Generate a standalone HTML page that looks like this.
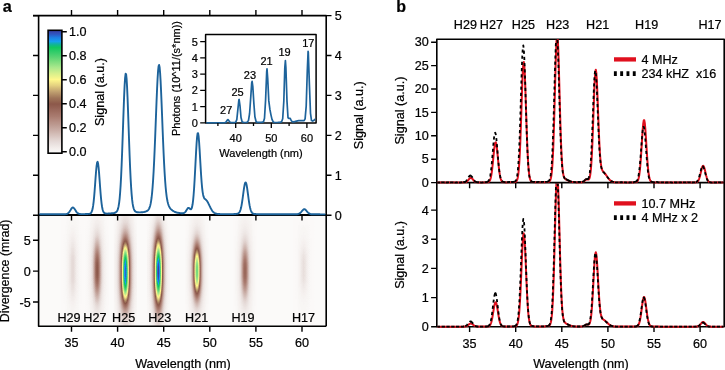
<!DOCTYPE html><html><head><meta charset="utf-8"><style>html,body{margin:0;padding:0;background:#fff;}svg{display:block;}text{font-family:"Liberation Sans", sans-serif;stroke:#000;stroke-width:0.22px;}</style></head><body>
<svg width="725" height="370" viewBox="0 0 725 370" style="will-change:transform">
<defs>
<filter id="cm" filterUnits="userSpaceOnUse" x="38.6" y="215.2" width="287.6" height="111.1" color-interpolation-filters="sRGB"><feComponentTransfer>
<feFuncR type="table" tableValues="0.988 0.985 0.981 0.978 0.975 0.971 0.968 0.965 0.961 0.958 0.954 0.951 0.948 0.944 0.940 0.936 0.932 0.928 0.924 0.920 0.916 0.912 0.908 0.904 0.900 0.896 0.892 0.887 0.883 0.878 0.873 0.869 0.864 0.860 0.855 0.850 0.846 0.841 0.836 0.832 0.827 0.823 0.818 0.813 0.809 0.804 0.800 0.795 0.790 0.786 0.781 0.776 0.772 0.768 0.764 0.759 0.755 0.751 0.746 0.742 0.738 0.733 0.729 0.725 0.720 0.716 0.712 0.708 0.703 0.699 0.695 0.690 0.686 0.682 0.677 0.673 0.669 0.664 0.660 0.655 0.651 0.646 0.641 0.637 0.632 0.627 0.623 0.618 0.614 0.609 0.604 0.600 0.595 0.591 0.586 0.581 0.577 0.572 0.567 0.563 0.558 0.554 0.549 0.555 0.561 0.567 0.574 0.580 0.586 0.592 0.598 0.604 0.611 0.617 0.623 0.630 0.640 0.650 0.659 0.669 0.679 0.689 0.699 0.709 0.718 0.728 0.738 0.748 0.758 0.770 0.781 0.792 0.803 0.814 0.825 0.836 0.847 0.858 0.869 0.880 0.891 0.900 0.909 0.917 0.925 0.934 0.942 0.950 0.958 0.967 0.975 0.983 0.992 1.000 0.987 0.975 0.962 0.950 0.937 0.924 0.912 0.899 0.887 0.874 0.861 0.849 0.836 0.822 0.807 0.793 0.779 0.765 0.751 0.737 0.722 0.708 0.694 0.680 0.666 0.651 0.637 0.622 0.607 0.592 0.578 0.563 0.548 0.533 0.519 0.504 0.489 0.474 0.460 0.445 0.430 0.415 0.400 0.386 0.371 0.356 0.341 0.327 0.312 0.297 0.282 0.268 0.254 0.239 0.225 0.211 0.196 0.182 0.168 0.153 0.139 0.124 0.110 0.096 0.081 0.067 0.063 0.063 0.063 0.063 0.063 0.063 0.064 0.068 0.071 0.075 0.079 0.082 0.086 0.090 0.094 0.098 0.102 0.107 0.111 0.115 0.120 0.130 0.139 0.148 0.157 0.167 0.176 0.185 0.192 0.197 0.202 0.207 0.212 0.217 0.222 0.227"/><feFuncG type="table" tableValues="0.984 0.979 0.974 0.970 0.965 0.960 0.955 0.950 0.945 0.940 0.935 0.930 0.925 0.920 0.914 0.908 0.903 0.897 0.891 0.885 0.879 0.873 0.868 0.862 0.856 0.850 0.843 0.836 0.829 0.821 0.814 0.806 0.799 0.792 0.784 0.777 0.770 0.762 0.755 0.747 0.740 0.733 0.725 0.718 0.710 0.703 0.696 0.688 0.681 0.674 0.666 0.659 0.652 0.645 0.639 0.632 0.625 0.618 0.611 0.605 0.598 0.591 0.584 0.578 0.571 0.564 0.557 0.551 0.544 0.537 0.530 0.523 0.517 0.510 0.503 0.496 0.490 0.484 0.478 0.472 0.467 0.461 0.456 0.450 0.445 0.439 0.434 0.428 0.423 0.417 0.412 0.406 0.400 0.395 0.389 0.384 0.378 0.373 0.367 0.362 0.356 0.351 0.345 0.354 0.364 0.373 0.382 0.391 0.400 0.410 0.419 0.428 0.437 0.447 0.456 0.466 0.479 0.492 0.505 0.518 0.531 0.543 0.556 0.569 0.582 0.595 0.608 0.621 0.635 0.650 0.664 0.679 0.694 0.709 0.723 0.738 0.753 0.768 0.782 0.797 0.812 0.825 0.837 0.850 0.862 0.874 0.886 0.899 0.911 0.923 0.936 0.948 0.960 0.973 0.970 0.968 0.965 0.963 0.960 0.958 0.955 0.953 0.950 0.948 0.945 0.943 0.941 0.938 0.936 0.933 0.931 0.928 0.926 0.923 0.921 0.918 0.916 0.913 0.911 0.908 0.904 0.901 0.897 0.893 0.890 0.886 0.882 0.878 0.875 0.871 0.867 0.864 0.860 0.856 0.853 0.849 0.845 0.842 0.838 0.834 0.830 0.827 0.823 0.819 0.816 0.814 0.812 0.810 0.807 0.805 0.803 0.801 0.799 0.797 0.795 0.793 0.791 0.789 0.787 0.785 0.776 0.763 0.751 0.739 0.726 0.714 0.702 0.690 0.677 0.665 0.653 0.640 0.628 0.612 0.595 0.579 0.563 0.546 0.530 0.513 0.495 0.473 0.450 0.428 0.405 0.382 0.360 0.337 0.321 0.309 0.297 0.285 0.272 0.260 0.248 0.235"/><feFuncB type="table" tableValues="0.980 0.975 0.970 0.965 0.959 0.954 0.949 0.944 0.939 0.933 0.928 0.923 0.918 0.912 0.906 0.900 0.894 0.888 0.881 0.875 0.869 0.863 0.857 0.851 0.845 0.838 0.831 0.823 0.815 0.807 0.799 0.790 0.782 0.774 0.766 0.758 0.750 0.742 0.733 0.725 0.717 0.709 0.701 0.693 0.685 0.676 0.668 0.660 0.652 0.644 0.636 0.627 0.620 0.613 0.605 0.598 0.591 0.583 0.576 0.568 0.561 0.554 0.546 0.539 0.531 0.524 0.517 0.509 0.502 0.495 0.487 0.480 0.472 0.465 0.458 0.450 0.443 0.436 0.430 0.425 0.419 0.413 0.407 0.401 0.395 0.390 0.384 0.378 0.372 0.366 0.360 0.354 0.349 0.343 0.337 0.331 0.325 0.319 0.314 0.308 0.302 0.296 0.290 0.295 0.300 0.305 0.310 0.315 0.320 0.325 0.330 0.334 0.339 0.344 0.349 0.355 0.361 0.368 0.375 0.382 0.388 0.395 0.402 0.409 0.416 0.422 0.429 0.436 0.442 0.447 0.452 0.456 0.461 0.466 0.471 0.476 0.481 0.486 0.491 0.496 0.501 0.505 0.508 0.512 0.516 0.519 0.523 0.527 0.531 0.534 0.538 0.542 0.545 0.549 0.549 0.549 0.549 0.549 0.549 0.549 0.549 0.549 0.549 0.549 0.549 0.549 0.549 0.549 0.549 0.549 0.549 0.549 0.549 0.549 0.549 0.549 0.549 0.549 0.549 0.547 0.542 0.537 0.532 0.527 0.522 0.517 0.512 0.507 0.502 0.497 0.492 0.488 0.484 0.480 0.476 0.472 0.469 0.465 0.461 0.458 0.454 0.450 0.447 0.443 0.439 0.435 0.431 0.427 0.423 0.419 0.415 0.411 0.406 0.402 0.398 0.394 0.390 0.386 0.382 0.378 0.400 0.433 0.466 0.499 0.533 0.566 0.606 0.662 0.717 0.772 0.828 0.883 0.938 0.934 0.927 0.920 0.913 0.906 0.898 0.891 0.881 0.862 0.844 0.825 0.807 0.788 0.770 0.752 0.735 0.720 0.704 0.689 0.674 0.658 0.643 0.627"/>
</feComponentTransfer></filter>
<linearGradient id="cb" x1="0" y1="0" x2="0" y2="1">
<stop offset="0.00" stop-color="rgb(58,60,160)"/>
<stop offset="0.01" stop-color="rgb(54,68,170)"/>
<stop offset="0.02" stop-color="rgb(51,76,180)"/>
<stop offset="0.03" stop-color="rgb(48,84,190)"/>
<stop offset="0.04" stop-color="rgb(42,98,202)"/>
<stop offset="0.05" stop-color="rgb(36,113,214)"/>
<stop offset="0.06" stop-color="rgb(30,128,226)"/>
<stop offset="0.07" stop-color="rgb(27,138,230)"/>
<stop offset="0.08" stop-color="rgb(24,149,235)"/>
<stop offset="0.09" stop-color="rgb(22,160,240)"/>
<stop offset="0.10" stop-color="rgb(19,168,204)"/>
<stop offset="0.11" stop-color="rgb(17,176,168)"/>
<stop offset="0.12" stop-color="rgb(16,184,139)"/>
<stop offset="0.13" stop-color="rgb(16,192,117)"/>
<stop offset="0.14" stop-color="rgb(16,200,96)"/>
<stop offset="0.15" stop-color="rgb(25,201,98)"/>
<stop offset="0.16" stop-color="rgb(34,202,101)"/>
<stop offset="0.17" stop-color="rgb(44,204,104)"/>
<stop offset="0.18" stop-color="rgb(53,205,106)"/>
<stop offset="0.19" stop-color="rgb(62,206,109)"/>
<stop offset="0.20" stop-color="rgb(72,208,112)"/>
<stop offset="0.21" stop-color="rgb(81,210,114)"/>
<stop offset="0.22" stop-color="rgb(91,212,116)"/>
<stop offset="0.23" stop-color="rgb(100,215,119)"/>
<stop offset="0.24" stop-color="rgb(110,217,121)"/>
<stop offset="0.25" stop-color="rgb(120,220,124)"/>
<stop offset="0.26" stop-color="rgb(129,222,127)"/>
<stop offset="0.27" stop-color="rgb(139,224,130)"/>
<stop offset="0.28" stop-color="rgb(148,227,133)"/>
<stop offset="0.29" stop-color="rgb(158,229,136)"/>
<stop offset="0.30" stop-color="rgb(168,232,140)"/>
<stop offset="0.31" stop-color="rgb(177,233,140)"/>
<stop offset="0.32" stop-color="rgb(186,235,140)"/>
<stop offset="0.33" stop-color="rgb(195,236,140)"/>
<stop offset="0.34" stop-color="rgb(204,238,140)"/>
<stop offset="0.35" stop-color="rgb(214,240,140)"/>
<stop offset="0.36" stop-color="rgb(222,241,140)"/>
<stop offset="0.37" stop-color="rgb(230,243,140)"/>
<stop offset="0.38" stop-color="rgb(238,244,140)"/>
<stop offset="0.39" stop-color="rgb(246,246,140)"/>
<stop offset="0.40" stop-color="rgb(255,248,140)"/>
<stop offset="0.41" stop-color="rgb(249,240,137)"/>
<stop offset="0.42" stop-color="rgb(244,232,135)"/>
<stop offset="0.43" stop-color="rgb(238,224,132)"/>
<stop offset="0.44" stop-color="rgb(233,216,130)"/>
<stop offset="0.45" stop-color="rgb(228,208,128)"/>
<stop offset="0.46" stop-color="rgb(220,198,124)"/>
<stop offset="0.47" stop-color="rgb(213,188,121)"/>
<stop offset="0.48" stop-color="rgb(206,179,118)"/>
<stop offset="0.49" stop-color="rgb(199,169,115)"/>
<stop offset="0.50" stop-color="rgb(192,160,112)"/>
<stop offset="0.51" stop-color="rgb(185,151,107)"/>
<stop offset="0.52" stop-color="rgb(179,143,103)"/>
<stop offset="0.53" stop-color="rgb(172,134,98)"/>
<stop offset="0.54" stop-color="rgb(166,126,94)"/>
<stop offset="0.55" stop-color="rgb(159,117,89)"/>
<stop offset="0.56" stop-color="rgb(155,111,86)"/>
<stop offset="0.57" stop-color="rgb(152,106,83)"/>
<stop offset="0.58" stop-color="rgb(148,100,80)"/>
<stop offset="0.59" stop-color="rgb(144,94,77)"/>
<stop offset="0.60" stop-color="rgb(140,88,74)"/>
<stop offset="0.61" stop-color="rgb(143,91,77)"/>
<stop offset="0.62" stop-color="rgb(146,95,81)"/>
<stop offset="0.63" stop-color="rgb(149,98,85)"/>
<stop offset="0.64" stop-color="rgb(152,102,89)"/>
<stop offset="0.65" stop-color="rgb(155,106,93)"/>
<stop offset="0.66" stop-color="rgb(158,109,96)"/>
<stop offset="0.67" stop-color="rgb(161,113,100)"/>
<stop offset="0.68" stop-color="rgb(164,116,104)"/>
<stop offset="0.69" stop-color="rgb(166,120,108)"/>
<stop offset="0.70" stop-color="rgb(169,123,111)"/>
<stop offset="0.71" stop-color="rgb(172,128,116)"/>
<stop offset="0.72" stop-color="rgb(175,132,121)"/>
<stop offset="0.73" stop-color="rgb(178,137,126)"/>
<stop offset="0.74" stop-color="rgb(181,141,131)"/>
<stop offset="0.75" stop-color="rgb(184,146,136)"/>
<stop offset="0.76" stop-color="rgb(186,150,140)"/>
<stop offset="0.77" stop-color="rgb(189,154,145)"/>
<stop offset="0.78" stop-color="rgb(192,159,150)"/>
<stop offset="0.79" stop-color="rgb(195,163,155)"/>
<stop offset="0.80" stop-color="rgb(198,168,160)"/>
<stop offset="0.81" stop-color="rgb(201,172,165)"/>
<stop offset="0.82" stop-color="rgb(204,177,170)"/>
<stop offset="0.83" stop-color="rgb(207,182,175)"/>
<stop offset="0.84" stop-color="rgb(210,187,181)"/>
<stop offset="0.85" stop-color="rgb(213,192,186)"/>
<stop offset="0.86" stop-color="rgb(216,196,191)"/>
<stop offset="0.87" stop-color="rgb(219,201,197)"/>
<stop offset="0.88" stop-color="rgb(222,206,202)"/>
<stop offset="0.89" stop-color="rgb(225,211,207)"/>
<stop offset="0.90" stop-color="rgb(228,216,213)"/>
<stop offset="0.91" stop-color="rgb(230,219,217)"/>
<stop offset="0.92" stop-color="rgb(233,223,221)"/>
<stop offset="0.93" stop-color="rgb(235,227,225)"/>
<stop offset="0.94" stop-color="rgb(238,231,228)"/>
<stop offset="0.95" stop-color="rgb(241,234,232)"/>
<stop offset="0.96" stop-color="rgb(243,238,236)"/>
<stop offset="0.97" stop-color="rgb(245,241,239)"/>
<stop offset="0.98" stop-color="rgb(247,244,243)"/>
<stop offset="0.99" stop-color="rgb(249,247,246)"/>
<stop offset="1.00" stop-color="rgb(252,251,250)"/>
</linearGradient>
<linearGradient id="hg" gradientUnits="userSpaceOnUse" x1="38.6" y1="0" x2="326.2" y2="0">
<stop offset="0.0000" stop-color="rgb(0,0,0)"/>
<stop offset="0.0876" stop-color="rgb(0,0,0)"/>
<stop offset="0.0894" stop-color="rgb(0,0,0)"/>
<stop offset="0.0911" stop-color="rgb(0,0,0)"/>
<stop offset="0.0928" stop-color="rgb(0,0,0)"/>
<stop offset="0.0946" stop-color="rgb(0,0,0)"/>
<stop offset="0.0963" stop-color="rgb(0,0,0)"/>
<stop offset="0.0981" stop-color="rgb(1,1,1)"/>
<stop offset="0.0998" stop-color="rgb(1,1,1)"/>
<stop offset="0.1015" stop-color="rgb(1,1,1)"/>
<stop offset="0.1033" stop-color="rgb(2,2,2)"/>
<stop offset="0.1050" stop-color="rgb(3,3,3)"/>
<stop offset="0.1067" stop-color="rgb(5,5,5)"/>
<stop offset="0.1085" stop-color="rgb(7,7,7)"/>
<stop offset="0.1102" stop-color="rgb(8,8,8)"/>
<stop offset="0.1120" stop-color="rgb(10,10,10)"/>
<stop offset="0.1137" stop-color="rgb(12,12,12)"/>
<stop offset="0.1154" stop-color="rgb(14,14,14)"/>
<stop offset="0.1172" stop-color="rgb(15,15,15)"/>
<stop offset="0.1189" stop-color="rgb(15,15,15)"/>
<stop offset="0.1207" stop-color="rgb(15,15,15)"/>
<stop offset="0.1224" stop-color="rgb(14,14,14)"/>
<stop offset="0.1241" stop-color="rgb(12,12,12)"/>
<stop offset="0.1259" stop-color="rgb(10,10,10)"/>
<stop offset="0.1276" stop-color="rgb(8,8,8)"/>
<stop offset="0.1293" stop-color="rgb(7,7,7)"/>
<stop offset="0.1311" stop-color="rgb(5,5,5)"/>
<stop offset="0.1328" stop-color="rgb(3,3,3)"/>
<stop offset="0.1346" stop-color="rgb(2,2,2)"/>
<stop offset="0.1363" stop-color="rgb(1,1,1)"/>
<stop offset="0.1380" stop-color="rgb(1,1,1)"/>
<stop offset="0.1398" stop-color="rgb(1,1,1)"/>
<stop offset="0.1415" stop-color="rgb(0,0,0)"/>
<stop offset="0.1433" stop-color="rgb(0,0,0)"/>
<stop offset="0.1450" stop-color="rgb(0,0,0)"/>
<stop offset="0.1467" stop-color="rgb(0,0,0)"/>
<stop offset="0.1485" stop-color="rgb(0,0,0)"/>
<stop offset="0.1502" stop-color="rgb(0,0,0)"/>
<stop offset="0.1725" stop-color="rgb(0,0,0)"/>
<stop offset="0.1742" stop-color="rgb(0,0,0)"/>
<stop offset="0.1759" stop-color="rgb(0,0,0)"/>
<stop offset="0.1777" stop-color="rgb(0,0,0)"/>
<stop offset="0.1794" stop-color="rgb(1,1,1)"/>
<stop offset="0.1812" stop-color="rgb(1,1,1)"/>
<stop offset="0.1829" stop-color="rgb(2,2,2)"/>
<stop offset="0.1846" stop-color="rgb(4,4,4)"/>
<stop offset="0.1864" stop-color="rgb(7,7,7)"/>
<stop offset="0.1881" stop-color="rgb(11,11,11)"/>
<stop offset="0.1898" stop-color="rgb(16,16,16)"/>
<stop offset="0.1916" stop-color="rgb(23,23,23)"/>
<stop offset="0.1933" stop-color="rgb(32,32,32)"/>
<stop offset="0.1951" stop-color="rgb(41,41,41)"/>
<stop offset="0.1968" stop-color="rgb(51,51,51)"/>
<stop offset="0.1985" stop-color="rgb(60,60,60)"/>
<stop offset="0.2003" stop-color="rgb(67,67,67)"/>
<stop offset="0.2020" stop-color="rgb(72,72,72)"/>
<stop offset="0.2038" stop-color="rgb(74,74,74)"/>
<stop offset="0.2055" stop-color="rgb(72,72,72)"/>
<stop offset="0.2072" stop-color="rgb(67,67,67)"/>
<stop offset="0.2090" stop-color="rgb(60,60,60)"/>
<stop offset="0.2107" stop-color="rgb(51,51,51)"/>
<stop offset="0.2124" stop-color="rgb(41,41,41)"/>
<stop offset="0.2142" stop-color="rgb(32,32,32)"/>
<stop offset="0.2159" stop-color="rgb(23,23,23)"/>
<stop offset="0.2177" stop-color="rgb(16,16,16)"/>
<stop offset="0.2194" stop-color="rgb(11,11,11)"/>
<stop offset="0.2211" stop-color="rgb(7,7,7)"/>
<stop offset="0.2229" stop-color="rgb(4,4,4)"/>
<stop offset="0.2246" stop-color="rgb(2,2,2)"/>
<stop offset="0.2264" stop-color="rgb(1,1,1)"/>
<stop offset="0.2281" stop-color="rgb(1,1,1)"/>
<stop offset="0.2298" stop-color="rgb(0,0,0)"/>
<stop offset="0.2316" stop-color="rgb(0,0,0)"/>
<stop offset="0.2333" stop-color="rgb(0,0,0)"/>
<stop offset="0.2350" stop-color="rgb(0,0,0)"/>
<stop offset="0.2705" stop-color="rgb(0,0,0)"/>
<stop offset="0.2723" stop-color="rgb(1,1,1)"/>
<stop offset="0.2740" stop-color="rgb(2,2,2)"/>
<stop offset="0.2757" stop-color="rgb(4,4,4)"/>
<stop offset="0.2775" stop-color="rgb(6,6,6)"/>
<stop offset="0.2792" stop-color="rgb(10,10,10)"/>
<stop offset="0.2809" stop-color="rgb(15,15,15)"/>
<stop offset="0.2827" stop-color="rgb(22,22,22)"/>
<stop offset="0.2844" stop-color="rgb(32,32,32)"/>
<stop offset="0.2862" stop-color="rgb(45,45,45)"/>
<stop offset="0.2879" stop-color="rgb(60,60,60)"/>
<stop offset="0.2896" stop-color="rgb(77,77,77)"/>
<stop offset="0.2914" stop-color="rgb(96,96,96)"/>
<stop offset="0.2931" stop-color="rgb(116,116,116)"/>
<stop offset="0.2949" stop-color="rgb(136,136,136)"/>
<stop offset="0.2966" stop-color="rgb(153,153,153)"/>
<stop offset="0.2983" stop-color="rgb(167,167,167)"/>
<stop offset="0.3001" stop-color="rgb(175,175,175)"/>
<stop offset="0.3018" stop-color="rgb(178,178,178)"/>
<stop offset="0.3035" stop-color="rgb(175,175,175)"/>
<stop offset="0.3053" stop-color="rgb(167,167,167)"/>
<stop offset="0.3070" stop-color="rgb(153,153,153)"/>
<stop offset="0.3088" stop-color="rgb(136,136,136)"/>
<stop offset="0.3105" stop-color="rgb(116,116,116)"/>
<stop offset="0.3122" stop-color="rgb(96,96,96)"/>
<stop offset="0.3140" stop-color="rgb(77,77,77)"/>
<stop offset="0.3157" stop-color="rgb(60,60,60)"/>
<stop offset="0.3175" stop-color="rgb(45,45,45)"/>
<stop offset="0.3192" stop-color="rgb(32,32,32)"/>
<stop offset="0.3209" stop-color="rgb(22,22,22)"/>
<stop offset="0.3227" stop-color="rgb(15,15,15)"/>
<stop offset="0.3244" stop-color="rgb(10,10,10)"/>
<stop offset="0.3261" stop-color="rgb(6,6,6)"/>
<stop offset="0.3279" stop-color="rgb(4,4,4)"/>
<stop offset="0.3296" stop-color="rgb(2,2,2)"/>
<stop offset="0.3314" stop-color="rgb(1,1,1)"/>
<stop offset="0.3331" stop-color="rgb(0,0,0)"/>
<stop offset="0.3853" stop-color="rgb(0,0,0)"/>
<stop offset="0.3870" stop-color="rgb(2,2,2)"/>
<stop offset="0.3887" stop-color="rgb(3,3,3)"/>
<stop offset="0.3905" stop-color="rgb(5,5,5)"/>
<stop offset="0.3922" stop-color="rgb(8,8,8)"/>
<stop offset="0.3939" stop-color="rgb(12,12,12)"/>
<stop offset="0.3957" stop-color="rgb(19,19,19)"/>
<stop offset="0.3974" stop-color="rgb(28,28,28)"/>
<stop offset="0.3992" stop-color="rgb(39,39,39)"/>
<stop offset="0.4009" stop-color="rgb(53,53,53)"/>
<stop offset="0.4026" stop-color="rgb(71,71,71)"/>
<stop offset="0.4044" stop-color="rgb(91,91,91)"/>
<stop offset="0.4061" stop-color="rgb(113,113,113)"/>
<stop offset="0.4079" stop-color="rgb(135,135,135)"/>
<stop offset="0.4096" stop-color="rgb(157,157,157)"/>
<stop offset="0.4113" stop-color="rgb(176,176,176)"/>
<stop offset="0.4131" stop-color="rgb(191,191,191)"/>
<stop offset="0.4148" stop-color="rgb(201,201,201)"/>
<stop offset="0.4166" stop-color="rgb(204,204,204)"/>
<stop offset="0.4183" stop-color="rgb(201,201,201)"/>
<stop offset="0.4200" stop-color="rgb(191,191,191)"/>
<stop offset="0.4218" stop-color="rgb(176,176,176)"/>
<stop offset="0.4235" stop-color="rgb(157,157,157)"/>
<stop offset="0.4252" stop-color="rgb(135,135,135)"/>
<stop offset="0.4270" stop-color="rgb(113,113,113)"/>
<stop offset="0.4287" stop-color="rgb(91,91,91)"/>
<stop offset="0.4305" stop-color="rgb(71,71,71)"/>
<stop offset="0.4322" stop-color="rgb(53,53,53)"/>
<stop offset="0.4339" stop-color="rgb(39,39,39)"/>
<stop offset="0.4357" stop-color="rgb(28,28,28)"/>
<stop offset="0.4374" stop-color="rgb(19,19,19)"/>
<stop offset="0.4392" stop-color="rgb(12,12,12)"/>
<stop offset="0.4409" stop-color="rgb(8,8,8)"/>
<stop offset="0.4426" stop-color="rgb(5,5,5)"/>
<stop offset="0.4444" stop-color="rgb(3,3,3)"/>
<stop offset="0.4461" stop-color="rgb(2,2,2)"/>
<stop offset="0.4478" stop-color="rgb(0,0,0)"/>
<stop offset="0.5195" stop-color="rgb(0,0,0)"/>
<stop offset="0.5212" stop-color="rgb(0,0,0)"/>
<stop offset="0.5229" stop-color="rgb(1,1,1)"/>
<stop offset="0.5247" stop-color="rgb(2,2,2)"/>
<stop offset="0.5264" stop-color="rgb(3,3,3)"/>
<stop offset="0.5282" stop-color="rgb(5,5,5)"/>
<stop offset="0.5299" stop-color="rgb(9,9,9)"/>
<stop offset="0.5316" stop-color="rgb(14,14,14)"/>
<stop offset="0.5334" stop-color="rgb(21,21,21)"/>
<stop offset="0.5351" stop-color="rgb(30,30,30)"/>
<stop offset="0.5369" stop-color="rgb(43,43,43)"/>
<stop offset="0.5386" stop-color="rgb(57,57,57)"/>
<stop offset="0.5403" stop-color="rgb(74,74,74)"/>
<stop offset="0.5421" stop-color="rgb(93,93,93)"/>
<stop offset="0.5438" stop-color="rgb(111,111,111)"/>
<stop offset="0.5455" stop-color="rgb(128,128,128)"/>
<stop offset="0.5473" stop-color="rgb(141,141,141)"/>
<stop offset="0.5490" stop-color="rgb(150,150,150)"/>
<stop offset="0.5508" stop-color="rgb(153,153,153)"/>
<stop offset="0.5525" stop-color="rgb(150,150,150)"/>
<stop offset="0.5542" stop-color="rgb(141,141,141)"/>
<stop offset="0.5560" stop-color="rgb(128,128,128)"/>
<stop offset="0.5577" stop-color="rgb(111,111,111)"/>
<stop offset="0.5595" stop-color="rgb(93,93,93)"/>
<stop offset="0.5612" stop-color="rgb(74,74,74)"/>
<stop offset="0.5629" stop-color="rgb(57,57,57)"/>
<stop offset="0.5647" stop-color="rgb(43,43,43)"/>
<stop offset="0.5664" stop-color="rgb(30,30,30)"/>
<stop offset="0.5682" stop-color="rgb(21,21,21)"/>
<stop offset="0.5699" stop-color="rgb(14,14,14)"/>
<stop offset="0.5716" stop-color="rgb(9,9,9)"/>
<stop offset="0.5734" stop-color="rgb(5,5,5)"/>
<stop offset="0.5751" stop-color="rgb(3,3,3)"/>
<stop offset="0.5768" stop-color="rgb(2,2,2)"/>
<stop offset="0.5786" stop-color="rgb(1,1,1)"/>
<stop offset="0.5803" stop-color="rgb(0,0,0)"/>
<stop offset="0.5821" stop-color="rgb(0,0,0)"/>
<stop offset="0.6864" stop-color="rgb(0,0,0)"/>
<stop offset="0.6881" stop-color="rgb(0,0,0)"/>
<stop offset="0.6898" stop-color="rgb(0,0,0)"/>
<stop offset="0.6916" stop-color="rgb(0,0,0)"/>
<stop offset="0.6933" stop-color="rgb(1,1,1)"/>
<stop offset="0.6951" stop-color="rgb(1,1,1)"/>
<stop offset="0.6968" stop-color="rgb(2,2,2)"/>
<stop offset="0.6985" stop-color="rgb(4,4,4)"/>
<stop offset="0.7003" stop-color="rgb(6,6,6)"/>
<stop offset="0.7020" stop-color="rgb(10,10,10)"/>
<stop offset="0.7038" stop-color="rgb(15,15,15)"/>
<stop offset="0.7055" stop-color="rgb(21,21,21)"/>
<stop offset="0.7072" stop-color="rgb(28,28,28)"/>
<stop offset="0.7090" stop-color="rgb(37,37,37)"/>
<stop offset="0.7107" stop-color="rgb(45,45,45)"/>
<stop offset="0.7124" stop-color="rgb(54,54,54)"/>
<stop offset="0.7142" stop-color="rgb(60,60,60)"/>
<stop offset="0.7159" stop-color="rgb(65,65,65)"/>
<stop offset="0.7177" stop-color="rgb(66,66,66)"/>
<stop offset="0.7194" stop-color="rgb(65,65,65)"/>
<stop offset="0.7211" stop-color="rgb(60,60,60)"/>
<stop offset="0.7229" stop-color="rgb(54,54,54)"/>
<stop offset="0.7246" stop-color="rgb(45,45,45)"/>
<stop offset="0.7264" stop-color="rgb(37,37,37)"/>
<stop offset="0.7281" stop-color="rgb(28,28,28)"/>
<stop offset="0.7298" stop-color="rgb(21,21,21)"/>
<stop offset="0.7316" stop-color="rgb(15,15,15)"/>
<stop offset="0.7333" stop-color="rgb(10,10,10)"/>
<stop offset="0.7350" stop-color="rgb(6,6,6)"/>
<stop offset="0.7368" stop-color="rgb(4,4,4)"/>
<stop offset="0.7385" stop-color="rgb(2,2,2)"/>
<stop offset="0.7403" stop-color="rgb(1,1,1)"/>
<stop offset="0.7420" stop-color="rgb(1,1,1)"/>
<stop offset="0.7437" stop-color="rgb(0,0,0)"/>
<stop offset="0.7455" stop-color="rgb(0,0,0)"/>
<stop offset="0.7472" stop-color="rgb(0,0,0)"/>
<stop offset="0.7490" stop-color="rgb(0,0,0)"/>
<stop offset="0.8905" stop-color="rgb(0,0,0)"/>
<stop offset="0.8922" stop-color="rgb(0,0,0)"/>
<stop offset="0.8939" stop-color="rgb(0,0,0)"/>
<stop offset="0.8957" stop-color="rgb(0,0,0)"/>
<stop offset="0.8974" stop-color="rgb(0,0,0)"/>
<stop offset="0.8992" stop-color="rgb(0,0,0)"/>
<stop offset="0.9009" stop-color="rgb(0,0,0)"/>
<stop offset="0.9026" stop-color="rgb(1,1,1)"/>
<stop offset="0.9044" stop-color="rgb(1,1,1)"/>
<stop offset="0.9061" stop-color="rgb(2,2,2)"/>
<stop offset="0.9079" stop-color="rgb(2,2,2)"/>
<stop offset="0.9096" stop-color="rgb(4,4,4)"/>
<stop offset="0.9113" stop-color="rgb(5,5,5)"/>
<stop offset="0.9131" stop-color="rgb(7,7,7)"/>
<stop offset="0.9148" stop-color="rgb(8,8,8)"/>
<stop offset="0.9166" stop-color="rgb(10,10,10)"/>
<stop offset="0.9183" stop-color="rgb(11,11,11)"/>
<stop offset="0.9200" stop-color="rgb(12,12,12)"/>
<stop offset="0.9218" stop-color="rgb(13,13,13)"/>
<stop offset="0.9235" stop-color="rgb(12,12,12)"/>
<stop offset="0.9252" stop-color="rgb(11,11,11)"/>
<stop offset="0.9270" stop-color="rgb(10,10,10)"/>
<stop offset="0.9287" stop-color="rgb(8,8,8)"/>
<stop offset="0.9305" stop-color="rgb(7,7,7)"/>
<stop offset="0.9322" stop-color="rgb(5,5,5)"/>
<stop offset="0.9339" stop-color="rgb(4,4,4)"/>
<stop offset="0.9357" stop-color="rgb(2,2,2)"/>
<stop offset="0.9374" stop-color="rgb(2,2,2)"/>
<stop offset="0.9392" stop-color="rgb(1,1,1)"/>
<stop offset="0.9409" stop-color="rgb(1,1,1)"/>
<stop offset="0.9426" stop-color="rgb(0,0,0)"/>
<stop offset="0.9444" stop-color="rgb(0,0,0)"/>
<stop offset="0.9461" stop-color="rgb(0,0,0)"/>
<stop offset="0.9478" stop-color="rgb(0,0,0)"/>
<stop offset="0.9496" stop-color="rgb(0,0,0)"/>
<stop offset="0.9513" stop-color="rgb(0,0,0)"/>
<stop offset="0.9531" stop-color="rgb(0,0,0)"/>
<stop offset="1.0000" stop-color="rgb(0,0,0)"/>
</linearGradient>
<linearGradient id="hg2" gradientUnits="userSpaceOnUse" x1="38.6" y1="0" x2="326.2" y2="0">
<stop offset="0.0000" stop-color="rgb(0,0,0)"/>
<stop offset="0.0772" stop-color="rgb(0,0,0)"/>
<stop offset="0.0789" stop-color="rgb(1,1,1)"/>
<stop offset="0.0807" stop-color="rgb(1,1,1)"/>
<stop offset="0.0824" stop-color="rgb(1,1,1)"/>
<stop offset="0.0841" stop-color="rgb(1,1,1)"/>
<stop offset="0.0859" stop-color="rgb(1,1,1)"/>
<stop offset="0.0876" stop-color="rgb(2,2,2)"/>
<stop offset="0.0894" stop-color="rgb(2,2,2)"/>
<stop offset="0.0911" stop-color="rgb(2,2,2)"/>
<stop offset="0.0928" stop-color="rgb(3,3,3)"/>
<stop offset="0.0946" stop-color="rgb(3,3,3)"/>
<stop offset="0.0963" stop-color="rgb(4,4,4)"/>
<stop offset="0.0981" stop-color="rgb(4,4,4)"/>
<stop offset="0.0998" stop-color="rgb(5,5,5)"/>
<stop offset="0.1015" stop-color="rgb(5,5,5)"/>
<stop offset="0.1033" stop-color="rgb(6,6,6)"/>
<stop offset="0.1050" stop-color="rgb(6,6,6)"/>
<stop offset="0.1067" stop-color="rgb(7,7,7)"/>
<stop offset="0.1085" stop-color="rgb(7,7,7)"/>
<stop offset="0.1102" stop-color="rgb(8,8,8)"/>
<stop offset="0.1120" stop-color="rgb(8,8,8)"/>
<stop offset="0.1137" stop-color="rgb(9,9,9)"/>
<stop offset="0.1154" stop-color="rgb(9,9,9)"/>
<stop offset="0.1172" stop-color="rgb(9,9,9)"/>
<stop offset="0.1189" stop-color="rgb(9,9,9)"/>
<stop offset="0.1207" stop-color="rgb(9,9,9)"/>
<stop offset="0.1224" stop-color="rgb(9,9,9)"/>
<stop offset="0.1241" stop-color="rgb(9,9,9)"/>
<stop offset="0.1259" stop-color="rgb(8,8,8)"/>
<stop offset="0.1276" stop-color="rgb(8,8,8)"/>
<stop offset="0.1293" stop-color="rgb(7,7,7)"/>
<stop offset="0.1311" stop-color="rgb(7,7,7)"/>
<stop offset="0.1328" stop-color="rgb(6,6,6)"/>
<stop offset="0.1346" stop-color="rgb(6,6,6)"/>
<stop offset="0.1363" stop-color="rgb(5,5,5)"/>
<stop offset="0.1380" stop-color="rgb(5,5,5)"/>
<stop offset="0.1398" stop-color="rgb(4,4,4)"/>
<stop offset="0.1415" stop-color="rgb(4,4,4)"/>
<stop offset="0.1433" stop-color="rgb(3,3,3)"/>
<stop offset="0.1450" stop-color="rgb(3,3,3)"/>
<stop offset="0.1467" stop-color="rgb(2,2,2)"/>
<stop offset="0.1485" stop-color="rgb(2,2,2)"/>
<stop offset="0.1502" stop-color="rgb(2,2,2)"/>
<stop offset="0.1519" stop-color="rgb(1,1,1)"/>
<stop offset="0.1537" stop-color="rgb(1,1,1)"/>
<stop offset="0.1554" stop-color="rgb(1,1,1)"/>
<stop offset="0.1572" stop-color="rgb(1,1,1)"/>
<stop offset="0.1589" stop-color="rgb(1,1,1)"/>
<stop offset="0.1606" stop-color="rgb(0,0,0)"/>
<stop offset="0.1620" stop-color="rgb(0,0,0)"/>
<stop offset="0.1638" stop-color="rgb(2,2,2)"/>
<stop offset="0.1655" stop-color="rgb(2,2,2)"/>
<stop offset="0.1672" stop-color="rgb(3,3,3)"/>
<stop offset="0.1690" stop-color="rgb(3,3,3)"/>
<stop offset="0.1707" stop-color="rgb(4,4,4)"/>
<stop offset="0.1725" stop-color="rgb(5,5,5)"/>
<stop offset="0.1742" stop-color="rgb(6,6,6)"/>
<stop offset="0.1759" stop-color="rgb(7,7,7)"/>
<stop offset="0.1777" stop-color="rgb(8,8,8)"/>
<stop offset="0.1794" stop-color="rgb(10,10,10)"/>
<stop offset="0.1812" stop-color="rgb(11,11,11)"/>
<stop offset="0.1829" stop-color="rgb(13,13,13)"/>
<stop offset="0.1846" stop-color="rgb(15,15,15)"/>
<stop offset="0.1864" stop-color="rgb(16,16,16)"/>
<stop offset="0.1881" stop-color="rgb(18,18,18)"/>
<stop offset="0.1898" stop-color="rgb(20,20,20)"/>
<stop offset="0.1916" stop-color="rgb(22,22,22)"/>
<stop offset="0.1933" stop-color="rgb(23,23,23)"/>
<stop offset="0.1951" stop-color="rgb(24,24,24)"/>
<stop offset="0.1968" stop-color="rgb(26,26,26)"/>
<stop offset="0.1985" stop-color="rgb(27,27,27)"/>
<stop offset="0.2003" stop-color="rgb(27,27,27)"/>
<stop offset="0.2020" stop-color="rgb(28,28,28)"/>
<stop offset="0.2038" stop-color="rgb(28,28,28)"/>
<stop offset="0.2055" stop-color="rgb(28,28,28)"/>
<stop offset="0.2072" stop-color="rgb(27,27,27)"/>
<stop offset="0.2090" stop-color="rgb(27,27,27)"/>
<stop offset="0.2107" stop-color="rgb(26,26,26)"/>
<stop offset="0.2124" stop-color="rgb(24,24,24)"/>
<stop offset="0.2142" stop-color="rgb(23,23,23)"/>
<stop offset="0.2159" stop-color="rgb(22,22,22)"/>
<stop offset="0.2177" stop-color="rgb(20,20,20)"/>
<stop offset="0.2194" stop-color="rgb(18,18,18)"/>
<stop offset="0.2211" stop-color="rgb(16,16,16)"/>
<stop offset="0.2229" stop-color="rgb(15,15,15)"/>
<stop offset="0.2246" stop-color="rgb(13,13,13)"/>
<stop offset="0.2264" stop-color="rgb(11,11,11)"/>
<stop offset="0.2281" stop-color="rgb(10,10,10)"/>
<stop offset="0.2298" stop-color="rgb(8,8,8)"/>
<stop offset="0.2316" stop-color="rgb(7,7,7)"/>
<stop offset="0.2333" stop-color="rgb(6,6,6)"/>
<stop offset="0.2350" stop-color="rgb(5,5,5)"/>
<stop offset="0.2368" stop-color="rgb(4,4,4)"/>
<stop offset="0.2385" stop-color="rgb(3,3,3)"/>
<stop offset="0.2403" stop-color="rgb(3,3,3)"/>
<stop offset="0.2420" stop-color="rgb(2,2,2)"/>
<stop offset="0.2437" stop-color="rgb(2,2,2)"/>
<stop offset="0.2455" stop-color="rgb(0,0,0)"/>
<stop offset="0.2601" stop-color="rgb(0,0,0)"/>
<stop offset="0.2618" stop-color="rgb(5,5,5)"/>
<stop offset="0.2636" stop-color="rgb(6,6,6)"/>
<stop offset="0.2653" stop-color="rgb(7,7,7)"/>
<stop offset="0.2670" stop-color="rgb(9,9,9)"/>
<stop offset="0.2688" stop-color="rgb(11,11,11)"/>
<stop offset="0.2705" stop-color="rgb(13,13,13)"/>
<stop offset="0.2723" stop-color="rgb(16,16,16)"/>
<stop offset="0.2740" stop-color="rgb(18,18,18)"/>
<stop offset="0.2757" stop-color="rgb(22,22,22)"/>
<stop offset="0.2775" stop-color="rgb(25,25,25)"/>
<stop offset="0.2792" stop-color="rgb(28,28,28)"/>
<stop offset="0.2809" stop-color="rgb(32,32,32)"/>
<stop offset="0.2827" stop-color="rgb(36,36,36)"/>
<stop offset="0.2844" stop-color="rgb(40,40,40)"/>
<stop offset="0.2862" stop-color="rgb(44,44,44)"/>
<stop offset="0.2879" stop-color="rgb(48,48,48)"/>
<stop offset="0.2896" stop-color="rgb(52,52,52)"/>
<stop offset="0.2914" stop-color="rgb(55,55,55)"/>
<stop offset="0.2931" stop-color="rgb(59,59,59)"/>
<stop offset="0.2949" stop-color="rgb(61,61,61)"/>
<stop offset="0.2966" stop-color="rgb(63,63,63)"/>
<stop offset="0.2983" stop-color="rgb(65,65,65)"/>
<stop offset="0.3001" stop-color="rgb(66,66,66)"/>
<stop offset="0.3018" stop-color="rgb(66,66,66)"/>
<stop offset="0.3035" stop-color="rgb(66,66,66)"/>
<stop offset="0.3053" stop-color="rgb(65,65,65)"/>
<stop offset="0.3070" stop-color="rgb(63,63,63)"/>
<stop offset="0.3088" stop-color="rgb(61,61,61)"/>
<stop offset="0.3105" stop-color="rgb(59,59,59)"/>
<stop offset="0.3122" stop-color="rgb(55,55,55)"/>
<stop offset="0.3140" stop-color="rgb(52,52,52)"/>
<stop offset="0.3157" stop-color="rgb(48,48,48)"/>
<stop offset="0.3175" stop-color="rgb(44,44,44)"/>
<stop offset="0.3192" stop-color="rgb(40,40,40)"/>
<stop offset="0.3209" stop-color="rgb(36,36,36)"/>
<stop offset="0.3227" stop-color="rgb(32,32,32)"/>
<stop offset="0.3244" stop-color="rgb(28,28,28)"/>
<stop offset="0.3261" stop-color="rgb(25,25,25)"/>
<stop offset="0.3279" stop-color="rgb(22,22,22)"/>
<stop offset="0.3296" stop-color="rgb(18,18,18)"/>
<stop offset="0.3314" stop-color="rgb(16,16,16)"/>
<stop offset="0.3331" stop-color="rgb(13,13,13)"/>
<stop offset="0.3348" stop-color="rgb(11,11,11)"/>
<stop offset="0.3366" stop-color="rgb(9,9,9)"/>
<stop offset="0.3383" stop-color="rgb(7,7,7)"/>
<stop offset="0.3401" stop-color="rgb(6,6,6)"/>
<stop offset="0.3418" stop-color="rgb(5,5,5)"/>
<stop offset="0.3435" stop-color="rgb(0,0,0)"/>
<stop offset="0.3748" stop-color="rgb(0,0,0)"/>
<stop offset="0.3766" stop-color="rgb(4,4,4)"/>
<stop offset="0.3783" stop-color="rgb(5,5,5)"/>
<stop offset="0.3800" stop-color="rgb(6,6,6)"/>
<stop offset="0.3818" stop-color="rgb(7,7,7)"/>
<stop offset="0.3835" stop-color="rgb(8,8,8)"/>
<stop offset="0.3853" stop-color="rgb(10,10,10)"/>
<stop offset="0.3870" stop-color="rgb(12,12,12)"/>
<stop offset="0.3887" stop-color="rgb(14,14,14)"/>
<stop offset="0.3905" stop-color="rgb(17,17,17)"/>
<stop offset="0.3922" stop-color="rgb(19,19,19)"/>
<stop offset="0.3939" stop-color="rgb(22,22,22)"/>
<stop offset="0.3957" stop-color="rgb(25,25,25)"/>
<stop offset="0.3974" stop-color="rgb(28,28,28)"/>
<stop offset="0.3992" stop-color="rgb(31,31,31)"/>
<stop offset="0.4009" stop-color="rgb(34,34,34)"/>
<stop offset="0.4026" stop-color="rgb(37,37,37)"/>
<stop offset="0.4044" stop-color="rgb(40,40,40)"/>
<stop offset="0.4061" stop-color="rgb(43,43,43)"/>
<stop offset="0.4079" stop-color="rgb(45,45,45)"/>
<stop offset="0.4096" stop-color="rgb(47,47,47)"/>
<stop offset="0.4113" stop-color="rgb(49,49,49)"/>
<stop offset="0.4131" stop-color="rgb(50,50,50)"/>
<stop offset="0.4148" stop-color="rgb(51,51,51)"/>
<stop offset="0.4166" stop-color="rgb(51,51,51)"/>
<stop offset="0.4183" stop-color="rgb(51,51,51)"/>
<stop offset="0.4200" stop-color="rgb(50,50,50)"/>
<stop offset="0.4218" stop-color="rgb(49,49,49)"/>
<stop offset="0.4235" stop-color="rgb(47,47,47)"/>
<stop offset="0.4252" stop-color="rgb(45,45,45)"/>
<stop offset="0.4270" stop-color="rgb(43,43,43)"/>
<stop offset="0.4287" stop-color="rgb(40,40,40)"/>
<stop offset="0.4305" stop-color="rgb(37,37,37)"/>
<stop offset="0.4322" stop-color="rgb(34,34,34)"/>
<stop offset="0.4339" stop-color="rgb(31,31,31)"/>
<stop offset="0.4357" stop-color="rgb(28,28,28)"/>
<stop offset="0.4374" stop-color="rgb(25,25,25)"/>
<stop offset="0.4392" stop-color="rgb(22,22,22)"/>
<stop offset="0.4409" stop-color="rgb(19,19,19)"/>
<stop offset="0.4426" stop-color="rgb(17,17,17)"/>
<stop offset="0.4444" stop-color="rgb(14,14,14)"/>
<stop offset="0.4461" stop-color="rgb(12,12,12)"/>
<stop offset="0.4478" stop-color="rgb(10,10,10)"/>
<stop offset="0.4496" stop-color="rgb(8,8,8)"/>
<stop offset="0.4513" stop-color="rgb(7,7,7)"/>
<stop offset="0.4531" stop-color="rgb(6,6,6)"/>
<stop offset="0.4548" stop-color="rgb(5,5,5)"/>
<stop offset="0.4565" stop-color="rgb(4,4,4)"/>
<stop offset="0.4583" stop-color="rgb(0,0,0)"/>
<stop offset="0.5090" stop-color="rgb(0,0,0)"/>
<stop offset="0.5108" stop-color="rgb(2,2,2)"/>
<stop offset="0.5125" stop-color="rgb(3,3,3)"/>
<stop offset="0.5143" stop-color="rgb(4,4,4)"/>
<stop offset="0.5160" stop-color="rgb(5,5,5)"/>
<stop offset="0.5177" stop-color="rgb(6,6,6)"/>
<stop offset="0.5195" stop-color="rgb(7,7,7)"/>
<stop offset="0.5212" stop-color="rgb(9,9,9)"/>
<stop offset="0.5229" stop-color="rgb(10,10,10)"/>
<stop offset="0.5247" stop-color="rgb(12,12,12)"/>
<stop offset="0.5264" stop-color="rgb(14,14,14)"/>
<stop offset="0.5282" stop-color="rgb(16,16,16)"/>
<stop offset="0.5299" stop-color="rgb(19,19,19)"/>
<stop offset="0.5316" stop-color="rgb(21,21,21)"/>
<stop offset="0.5334" stop-color="rgb(24,24,24)"/>
<stop offset="0.5351" stop-color="rgb(26,26,26)"/>
<stop offset="0.5369" stop-color="rgb(29,29,29)"/>
<stop offset="0.5386" stop-color="rgb(31,31,31)"/>
<stop offset="0.5403" stop-color="rgb(34,34,34)"/>
<stop offset="0.5421" stop-color="rgb(36,36,36)"/>
<stop offset="0.5438" stop-color="rgb(37,37,37)"/>
<stop offset="0.5455" stop-color="rgb(39,39,39)"/>
<stop offset="0.5473" stop-color="rgb(40,40,40)"/>
<stop offset="0.5490" stop-color="rgb(41,41,41)"/>
<stop offset="0.5508" stop-color="rgb(41,41,41)"/>
<stop offset="0.5525" stop-color="rgb(41,41,41)"/>
<stop offset="0.5542" stop-color="rgb(40,40,40)"/>
<stop offset="0.5560" stop-color="rgb(39,39,39)"/>
<stop offset="0.5577" stop-color="rgb(37,37,37)"/>
<stop offset="0.5595" stop-color="rgb(36,36,36)"/>
<stop offset="0.5612" stop-color="rgb(34,34,34)"/>
<stop offset="0.5629" stop-color="rgb(31,31,31)"/>
<stop offset="0.5647" stop-color="rgb(29,29,29)"/>
<stop offset="0.5664" stop-color="rgb(26,26,26)"/>
<stop offset="0.5682" stop-color="rgb(24,24,24)"/>
<stop offset="0.5699" stop-color="rgb(21,21,21)"/>
<stop offset="0.5716" stop-color="rgb(19,19,19)"/>
<stop offset="0.5734" stop-color="rgb(16,16,16)"/>
<stop offset="0.5751" stop-color="rgb(14,14,14)"/>
<stop offset="0.5768" stop-color="rgb(12,12,12)"/>
<stop offset="0.5786" stop-color="rgb(10,10,10)"/>
<stop offset="0.5803" stop-color="rgb(9,9,9)"/>
<stop offset="0.5821" stop-color="rgb(7,7,7)"/>
<stop offset="0.5838" stop-color="rgb(6,6,6)"/>
<stop offset="0.5855" stop-color="rgb(5,5,5)"/>
<stop offset="0.5873" stop-color="rgb(4,4,4)"/>
<stop offset="0.5890" stop-color="rgb(3,3,3)"/>
<stop offset="0.5908" stop-color="rgb(2,2,2)"/>
<stop offset="0.5925" stop-color="rgb(0,0,0)"/>
<stop offset="0.6759" stop-color="rgb(0,0,0)"/>
<stop offset="0.6777" stop-color="rgb(1,1,1)"/>
<stop offset="0.6794" stop-color="rgb(2,2,2)"/>
<stop offset="0.6812" stop-color="rgb(2,2,2)"/>
<stop offset="0.6829" stop-color="rgb(3,3,3)"/>
<stop offset="0.6846" stop-color="rgb(4,4,4)"/>
<stop offset="0.6864" stop-color="rgb(4,4,4)"/>
<stop offset="0.6881" stop-color="rgb(5,5,5)"/>
<stop offset="0.6898" stop-color="rgb(6,6,6)"/>
<stop offset="0.6916" stop-color="rgb(8,8,8)"/>
<stop offset="0.6933" stop-color="rgb(9,9,9)"/>
<stop offset="0.6951" stop-color="rgb(10,10,10)"/>
<stop offset="0.6968" stop-color="rgb(12,12,12)"/>
<stop offset="0.6985" stop-color="rgb(13,13,13)"/>
<stop offset="0.7003" stop-color="rgb(15,15,15)"/>
<stop offset="0.7020" stop-color="rgb(16,16,16)"/>
<stop offset="0.7038" stop-color="rgb(18,18,18)"/>
<stop offset="0.7055" stop-color="rgb(20,20,20)"/>
<stop offset="0.7072" stop-color="rgb(21,21,21)"/>
<stop offset="0.7090" stop-color="rgb(22,22,22)"/>
<stop offset="0.7107" stop-color="rgb(23,23,23)"/>
<stop offset="0.7124" stop-color="rgb(24,24,24)"/>
<stop offset="0.7142" stop-color="rgb(25,25,25)"/>
<stop offset="0.7159" stop-color="rgb(25,25,25)"/>
<stop offset="0.7177" stop-color="rgb(26,26,26)"/>
<stop offset="0.7194" stop-color="rgb(25,25,25)"/>
<stop offset="0.7211" stop-color="rgb(25,25,25)"/>
<stop offset="0.7229" stop-color="rgb(24,24,24)"/>
<stop offset="0.7246" stop-color="rgb(23,23,23)"/>
<stop offset="0.7264" stop-color="rgb(22,22,22)"/>
<stop offset="0.7281" stop-color="rgb(21,21,21)"/>
<stop offset="0.7298" stop-color="rgb(20,20,20)"/>
<stop offset="0.7316" stop-color="rgb(18,18,18)"/>
<stop offset="0.7333" stop-color="rgb(16,16,16)"/>
<stop offset="0.7350" stop-color="rgb(15,15,15)"/>
<stop offset="0.7368" stop-color="rgb(13,13,13)"/>
<stop offset="0.7385" stop-color="rgb(12,12,12)"/>
<stop offset="0.7403" stop-color="rgb(10,10,10)"/>
<stop offset="0.7420" stop-color="rgb(9,9,9)"/>
<stop offset="0.7437" stop-color="rgb(8,8,8)"/>
<stop offset="0.7455" stop-color="rgb(6,6,6)"/>
<stop offset="0.7472" stop-color="rgb(5,5,5)"/>
<stop offset="0.7490" stop-color="rgb(4,4,4)"/>
<stop offset="0.7507" stop-color="rgb(4,4,4)"/>
<stop offset="0.7524" stop-color="rgb(3,3,3)"/>
<stop offset="0.7542" stop-color="rgb(2,2,2)"/>
<stop offset="0.7559" stop-color="rgb(2,2,2)"/>
<stop offset="0.7576" stop-color="rgb(1,1,1)"/>
<stop offset="0.7594" stop-color="rgb(0,0,0)"/>
<stop offset="0.8800" stop-color="rgb(0,0,0)"/>
<stop offset="0.8818" stop-color="rgb(0,0,0)"/>
<stop offset="0.8835" stop-color="rgb(0,0,0)"/>
<stop offset="0.8853" stop-color="rgb(1,1,1)"/>
<stop offset="0.8870" stop-color="rgb(1,1,1)"/>
<stop offset="0.8887" stop-color="rgb(1,1,1)"/>
<stop offset="0.8905" stop-color="rgb(1,1,1)"/>
<stop offset="0.8922" stop-color="rgb(1,1,1)"/>
<stop offset="0.8939" stop-color="rgb(2,2,2)"/>
<stop offset="0.8957" stop-color="rgb(2,2,2)"/>
<stop offset="0.8974" stop-color="rgb(2,2,2)"/>
<stop offset="0.8992" stop-color="rgb(3,3,3)"/>
<stop offset="0.9009" stop-color="rgb(3,3,3)"/>
<stop offset="0.9026" stop-color="rgb(4,4,4)"/>
<stop offset="0.9044" stop-color="rgb(4,4,4)"/>
<stop offset="0.9061" stop-color="rgb(5,5,5)"/>
<stop offset="0.9079" stop-color="rgb(5,5,5)"/>
<stop offset="0.9096" stop-color="rgb(6,6,6)"/>
<stop offset="0.9113" stop-color="rgb(6,6,6)"/>
<stop offset="0.9131" stop-color="rgb(7,7,7)"/>
<stop offset="0.9148" stop-color="rgb(7,7,7)"/>
<stop offset="0.9166" stop-color="rgb(7,7,7)"/>
<stop offset="0.9183" stop-color="rgb(7,7,7)"/>
<stop offset="0.9200" stop-color="rgb(8,8,8)"/>
<stop offset="0.9218" stop-color="rgb(8,8,8)"/>
<stop offset="0.9235" stop-color="rgb(8,8,8)"/>
<stop offset="0.9252" stop-color="rgb(7,7,7)"/>
<stop offset="0.9270" stop-color="rgb(7,7,7)"/>
<stop offset="0.9287" stop-color="rgb(7,7,7)"/>
<stop offset="0.9305" stop-color="rgb(7,7,7)"/>
<stop offset="0.9322" stop-color="rgb(6,6,6)"/>
<stop offset="0.9339" stop-color="rgb(6,6,6)"/>
<stop offset="0.9357" stop-color="rgb(5,5,5)"/>
<stop offset="0.9374" stop-color="rgb(5,5,5)"/>
<stop offset="0.9392" stop-color="rgb(4,4,4)"/>
<stop offset="0.9409" stop-color="rgb(4,4,4)"/>
<stop offset="0.9426" stop-color="rgb(3,3,3)"/>
<stop offset="0.9444" stop-color="rgb(3,3,3)"/>
<stop offset="0.9461" stop-color="rgb(2,2,2)"/>
<stop offset="0.9478" stop-color="rgb(2,2,2)"/>
<stop offset="0.9496" stop-color="rgb(2,2,2)"/>
<stop offset="0.9513" stop-color="rgb(1,1,1)"/>
<stop offset="0.9531" stop-color="rgb(1,1,1)"/>
<stop offset="0.9548" stop-color="rgb(1,1,1)"/>
<stop offset="0.9565" stop-color="rgb(1,1,1)"/>
<stop offset="0.9583" stop-color="rgb(1,1,1)"/>
<stop offset="0.9600" stop-color="rgb(0,0,0)"/>
<stop offset="0.9618" stop-color="rgb(0,0,0)"/>
<stop offset="0.9635" stop-color="rgb(0,0,0)"/>
<stop offset="1.0000" stop-color="rgb(0,0,0)"/>
</linearGradient>
<linearGradient id="vg0_0" gradientUnits="userSpaceOnUse" x1="0" y1="215.2" x2="0" y2="326.3">
<stop offset="0.0000" stop-color="rgb(1,1,1)"/>
<stop offset="0.0135" stop-color="rgb(2,2,2)"/>
<stop offset="0.0270" stop-color="rgb(3,3,3)"/>
<stop offset="0.0405" stop-color="rgb(4,4,4)"/>
<stop offset="0.0540" stop-color="rgb(5,5,5)"/>
<stop offset="0.0675" stop-color="rgb(7,7,7)"/>
<stop offset="0.0810" stop-color="rgb(9,9,9)"/>
<stop offset="0.0945" stop-color="rgb(12,12,12)"/>
<stop offset="0.1080" stop-color="rgb(16,16,16)"/>
<stop offset="0.1215" stop-color="rgb(20,20,20)"/>
<stop offset="0.1350" stop-color="rgb(25,25,25)"/>
<stop offset="0.1485" stop-color="rgb(31,31,31)"/>
<stop offset="0.1620" stop-color="rgb(38,38,38)"/>
<stop offset="0.1755" stop-color="rgb(46,46,46)"/>
<stop offset="0.1890" stop-color="rgb(56,56,56)"/>
<stop offset="0.2025" stop-color="rgb(66,66,66)"/>
<stop offset="0.2160" stop-color="rgb(77,77,77)"/>
<stop offset="0.2295" stop-color="rgb(89,89,89)"/>
<stop offset="0.2430" stop-color="rgb(102,102,102)"/>
<stop offset="0.2565" stop-color="rgb(115,115,115)"/>
<stop offset="0.2700" stop-color="rgb(129,129,129)"/>
<stop offset="0.2835" stop-color="rgb(143,143,143)"/>
<stop offset="0.2970" stop-color="rgb(157,157,157)"/>
<stop offset="0.3105" stop-color="rgb(170,170,170)"/>
<stop offset="0.3240" stop-color="rgb(183,183,183)"/>
<stop offset="0.3375" stop-color="rgb(196,196,196)"/>
<stop offset="0.3510" stop-color="rgb(207,207,207)"/>
<stop offset="0.3645" stop-color="rgb(217,217,217)"/>
<stop offset="0.3780" stop-color="rgb(227,227,227)"/>
<stop offset="0.3915" stop-color="rgb(234,234,234)"/>
<stop offset="0.4050" stop-color="rgb(241,241,241)"/>
<stop offset="0.4185" stop-color="rgb(246,246,246)"/>
<stop offset="0.4320" stop-color="rgb(250,250,250)"/>
<stop offset="0.4455" stop-color="rgb(253,253,253)"/>
<stop offset="0.4590" stop-color="rgb(254,254,254)"/>
<stop offset="0.4725" stop-color="rgb(255,255,255)"/>
<stop offset="0.4860" stop-color="rgb(255,255,255)"/>
<stop offset="0.4995" stop-color="rgb(255,255,255)"/>
<stop offset="0.5131" stop-color="rgb(254,254,254)"/>
<stop offset="0.5266" stop-color="rgb(252,252,252)"/>
<stop offset="0.5401" stop-color="rgb(249,249,249)"/>
<stop offset="0.5536" stop-color="rgb(245,245,245)"/>
<stop offset="0.5671" stop-color="rgb(239,239,239)"/>
<stop offset="0.5806" stop-color="rgb(232,232,232)"/>
<stop offset="0.5941" stop-color="rgb(224,224,224)"/>
<stop offset="0.6076" stop-color="rgb(215,215,215)"/>
<stop offset="0.6211" stop-color="rgb(204,204,204)"/>
<stop offset="0.6346" stop-color="rgb(192,192,192)"/>
<stop offset="0.6481" stop-color="rgb(180,180,180)"/>
<stop offset="0.6616" stop-color="rgb(167,167,167)"/>
<stop offset="0.6751" stop-color="rgb(153,153,153)"/>
<stop offset="0.6886" stop-color="rgb(139,139,139)"/>
<stop offset="0.7021" stop-color="rgb(125,125,125)"/>
<stop offset="0.7156" stop-color="rgb(111,111,111)"/>
<stop offset="0.7291" stop-color="rgb(98,98,98)"/>
<stop offset="0.7426" stop-color="rgb(86,86,86)"/>
<stop offset="0.7561" stop-color="rgb(74,74,74)"/>
<stop offset="0.7696" stop-color="rgb(63,63,63)"/>
<stop offset="0.7831" stop-color="rgb(53,53,53)"/>
<stop offset="0.7966" stop-color="rgb(44,44,44)"/>
<stop offset="0.8101" stop-color="rgb(36,36,36)"/>
<stop offset="0.8236" stop-color="rgb(29,29,29)"/>
<stop offset="0.8371" stop-color="rgb(24,24,24)"/>
<stop offset="0.8506" stop-color="rgb(19,19,19)"/>
<stop offset="0.8641" stop-color="rgb(15,15,15)"/>
<stop offset="0.8776" stop-color="rgb(11,11,11)"/>
<stop offset="0.8911" stop-color="rgb(9,9,9)"/>
<stop offset="0.9046" stop-color="rgb(6,6,6)"/>
<stop offset="0.9181" stop-color="rgb(5,5,5)"/>
<stop offset="0.9316" stop-color="rgb(3,3,3)"/>
<stop offset="0.9451" stop-color="rgb(2,2,2)"/>
<stop offset="0.9586" stop-color="rgb(2,2,2)"/>
<stop offset="0.9721" stop-color="rgb(1,1,1)"/>
<stop offset="0.9856" stop-color="rgb(1,1,1)"/>
<stop offset="0.9991" stop-color="rgb(1,1,1)"/>
</linearGradient>
<linearGradient id="vg0_1" gradientUnits="userSpaceOnUse" x1="0" y1="215.2" x2="0" y2="326.3">
<stop offset="0.0000" stop-color="rgb(51,51,51)"/>
<stop offset="0.0135" stop-color="rgb(56,56,56)"/>
<stop offset="0.0270" stop-color="rgb(61,61,61)"/>
<stop offset="0.0405" stop-color="rgb(66,66,66)"/>
<stop offset="0.0540" stop-color="rgb(72,72,72)"/>
<stop offset="0.0675" stop-color="rgb(78,78,78)"/>
<stop offset="0.0810" stop-color="rgb(84,84,84)"/>
<stop offset="0.0945" stop-color="rgb(90,90,90)"/>
<stop offset="0.1080" stop-color="rgb(97,97,97)"/>
<stop offset="0.1215" stop-color="rgb(103,103,103)"/>
<stop offset="0.1350" stop-color="rgb(110,110,110)"/>
<stop offset="0.1485" stop-color="rgb(118,118,118)"/>
<stop offset="0.1620" stop-color="rgb(125,125,125)"/>
<stop offset="0.1755" stop-color="rgb(133,133,133)"/>
<stop offset="0.1890" stop-color="rgb(140,140,140)"/>
<stop offset="0.2025" stop-color="rgb(148,148,148)"/>
<stop offset="0.2160" stop-color="rgb(156,156,156)"/>
<stop offset="0.2295" stop-color="rgb(163,163,163)"/>
<stop offset="0.2430" stop-color="rgb(171,171,171)"/>
<stop offset="0.2565" stop-color="rgb(179,179,179)"/>
<stop offset="0.2700" stop-color="rgb(186,186,186)"/>
<stop offset="0.2835" stop-color="rgb(193,193,193)"/>
<stop offset="0.2970" stop-color="rgb(201,201,201)"/>
<stop offset="0.3105" stop-color="rgb(207,207,207)"/>
<stop offset="0.3240" stop-color="rgb(214,214,214)"/>
<stop offset="0.3375" stop-color="rgb(220,220,220)"/>
<stop offset="0.3510" stop-color="rgb(226,226,226)"/>
<stop offset="0.3645" stop-color="rgb(231,231,231)"/>
<stop offset="0.3780" stop-color="rgb(236,236,236)"/>
<stop offset="0.3915" stop-color="rgb(240,240,240)"/>
<stop offset="0.4050" stop-color="rgb(244,244,244)"/>
<stop offset="0.4185" stop-color="rgb(248,248,248)"/>
<stop offset="0.4320" stop-color="rgb(250,250,250)"/>
<stop offset="0.4455" stop-color="rgb(252,252,252)"/>
<stop offset="0.4590" stop-color="rgb(254,254,254)"/>
<stop offset="0.4725" stop-color="rgb(255,255,255)"/>
<stop offset="0.4860" stop-color="rgb(255,255,255)"/>
<stop offset="0.4995" stop-color="rgb(255,255,255)"/>
<stop offset="0.5131" stop-color="rgb(254,254,254)"/>
<stop offset="0.5266" stop-color="rgb(252,252,252)"/>
<stop offset="0.5401" stop-color="rgb(250,250,250)"/>
<stop offset="0.5536" stop-color="rgb(247,247,247)"/>
<stop offset="0.5671" stop-color="rgb(243,243,243)"/>
<stop offset="0.5806" stop-color="rgb(239,239,239)"/>
<stop offset="0.5941" stop-color="rgb(235,235,235)"/>
<stop offset="0.6076" stop-color="rgb(230,230,230)"/>
<stop offset="0.6211" stop-color="rgb(224,224,224)"/>
<stop offset="0.6346" stop-color="rgb(218,218,218)"/>
<stop offset="0.6481" stop-color="rgb(212,212,212)"/>
<stop offset="0.6616" stop-color="rgb(206,206,206)"/>
<stop offset="0.6751" stop-color="rgb(199,199,199)"/>
<stop offset="0.6886" stop-color="rgb(192,192,192)"/>
<stop offset="0.7021" stop-color="rgb(184,184,184)"/>
<stop offset="0.7156" stop-color="rgb(177,177,177)"/>
<stop offset="0.7291" stop-color="rgb(169,169,169)"/>
<stop offset="0.7426" stop-color="rgb(161,161,161)"/>
<stop offset="0.7561" stop-color="rgb(154,154,154)"/>
<stop offset="0.7696" stop-color="rgb(146,146,146)"/>
<stop offset="0.7831" stop-color="rgb(138,138,138)"/>
<stop offset="0.7966" stop-color="rgb(131,131,131)"/>
<stop offset="0.8101" stop-color="rgb(123,123,123)"/>
<stop offset="0.8236" stop-color="rgb(116,116,116)"/>
<stop offset="0.8371" stop-color="rgb(109,109,109)"/>
<stop offset="0.8506" stop-color="rgb(102,102,102)"/>
<stop offset="0.8641" stop-color="rgb(95,95,95)"/>
<stop offset="0.8776" stop-color="rgb(88,88,88)"/>
<stop offset="0.8911" stop-color="rgb(82,82,82)"/>
<stop offset="0.9046" stop-color="rgb(76,76,76)"/>
<stop offset="0.9181" stop-color="rgb(70,70,70)"/>
<stop offset="0.9316" stop-color="rgb(65,65,65)"/>
<stop offset="0.9451" stop-color="rgb(59,59,59)"/>
<stop offset="0.9586" stop-color="rgb(55,55,55)"/>
<stop offset="0.9721" stop-color="rgb(50,50,50)"/>
<stop offset="0.9856" stop-color="rgb(45,45,45)"/>
<stop offset="0.9991" stop-color="rgb(41,41,41)"/>
</linearGradient>
<linearGradient id="vg1_0" gradientUnits="userSpaceOnUse" x1="0" y1="215.2" x2="0" y2="326.3">
<stop offset="0.0000" stop-color="rgb(1,1,1)"/>
<stop offset="0.0135" stop-color="rgb(2,2,2)"/>
<stop offset="0.0270" stop-color="rgb(3,3,3)"/>
<stop offset="0.0405" stop-color="rgb(4,4,4)"/>
<stop offset="0.0540" stop-color="rgb(5,5,5)"/>
<stop offset="0.0675" stop-color="rgb(6,6,6)"/>
<stop offset="0.0810" stop-color="rgb(8,8,8)"/>
<stop offset="0.0945" stop-color="rgb(10,10,10)"/>
<stop offset="0.1080" stop-color="rgb(13,13,13)"/>
<stop offset="0.1215" stop-color="rgb(16,16,16)"/>
<stop offset="0.1350" stop-color="rgb(20,20,20)"/>
<stop offset="0.1485" stop-color="rgb(25,25,25)"/>
<stop offset="0.1620" stop-color="rgb(30,30,30)"/>
<stop offset="0.1755" stop-color="rgb(36,36,36)"/>
<stop offset="0.1890" stop-color="rgb(43,43,43)"/>
<stop offset="0.2025" stop-color="rgb(51,51,51)"/>
<stop offset="0.2160" stop-color="rgb(60,60,60)"/>
<stop offset="0.2295" stop-color="rgb(70,70,70)"/>
<stop offset="0.2430" stop-color="rgb(80,80,80)"/>
<stop offset="0.2565" stop-color="rgb(92,92,92)"/>
<stop offset="0.2700" stop-color="rgb(104,104,104)"/>
<stop offset="0.2835" stop-color="rgb(117,117,117)"/>
<stop offset="0.2970" stop-color="rgb(130,130,130)"/>
<stop offset="0.3105" stop-color="rgb(143,143,143)"/>
<stop offset="0.3240" stop-color="rgb(156,156,156)"/>
<stop offset="0.3375" stop-color="rgb(170,170,170)"/>
<stop offset="0.3510" stop-color="rgb(183,183,183)"/>
<stop offset="0.3645" stop-color="rgb(195,195,195)"/>
<stop offset="0.3780" stop-color="rgb(207,207,207)"/>
<stop offset="0.3915" stop-color="rgb(217,217,217)"/>
<stop offset="0.4050" stop-color="rgb(227,227,227)"/>
<stop offset="0.4185" stop-color="rgb(235,235,235)"/>
<stop offset="0.4320" stop-color="rgb(242,242,242)"/>
<stop offset="0.4455" stop-color="rgb(247,247,247)"/>
<stop offset="0.4590" stop-color="rgb(251,251,251)"/>
<stop offset="0.4725" stop-color="rgb(254,254,254)"/>
<stop offset="0.4860" stop-color="rgb(255,255,255)"/>
<stop offset="0.4995" stop-color="rgb(255,255,255)"/>
<stop offset="0.5131" stop-color="rgb(254,254,254)"/>
<stop offset="0.5266" stop-color="rgb(252,252,252)"/>
<stop offset="0.5401" stop-color="rgb(248,248,248)"/>
<stop offset="0.5536" stop-color="rgb(242,242,242)"/>
<stop offset="0.5671" stop-color="rgb(236,236,236)"/>
<stop offset="0.5806" stop-color="rgb(228,228,228)"/>
<stop offset="0.5941" stop-color="rgb(218,218,218)"/>
<stop offset="0.6076" stop-color="rgb(208,208,208)"/>
<stop offset="0.6211" stop-color="rgb(196,196,196)"/>
<stop offset="0.6346" stop-color="rgb(184,184,184)"/>
<stop offset="0.6481" stop-color="rgb(171,171,171)"/>
<stop offset="0.6616" stop-color="rgb(157,157,157)"/>
<stop offset="0.6751" stop-color="rgb(144,144,144)"/>
<stop offset="0.6886" stop-color="rgb(131,131,131)"/>
<stop offset="0.7021" stop-color="rgb(117,117,117)"/>
<stop offset="0.7156" stop-color="rgb(105,105,105)"/>
<stop offset="0.7291" stop-color="rgb(93,93,93)"/>
<stop offset="0.7426" stop-color="rgb(81,81,81)"/>
<stop offset="0.7561" stop-color="rgb(70,70,70)"/>
<stop offset="0.7696" stop-color="rgb(61,61,61)"/>
<stop offset="0.7831" stop-color="rgb(52,52,52)"/>
<stop offset="0.7966" stop-color="rgb(44,44,44)"/>
<stop offset="0.8101" stop-color="rgb(37,37,37)"/>
<stop offset="0.8236" stop-color="rgb(30,30,30)"/>
<stop offset="0.8371" stop-color="rgb(25,25,25)"/>
<stop offset="0.8506" stop-color="rgb(20,20,20)"/>
<stop offset="0.8641" stop-color="rgb(16,16,16)"/>
<stop offset="0.8776" stop-color="rgb(13,13,13)"/>
<stop offset="0.8911" stop-color="rgb(10,10,10)"/>
<stop offset="0.9046" stop-color="rgb(8,8,8)"/>
<stop offset="0.9181" stop-color="rgb(6,6,6)"/>
<stop offset="0.9316" stop-color="rgb(5,5,5)"/>
<stop offset="0.9451" stop-color="rgb(4,4,4)"/>
<stop offset="0.9586" stop-color="rgb(3,3,3)"/>
<stop offset="0.9721" stop-color="rgb(2,2,2)"/>
<stop offset="0.9856" stop-color="rgb(2,2,2)"/>
<stop offset="0.9991" stop-color="rgb(1,1,1)"/>
</linearGradient>
<linearGradient id="vg1_1" gradientUnits="userSpaceOnUse" x1="0" y1="215.2" x2="0" y2="326.3">
<stop offset="0.0000" stop-color="rgb(48,48,48)"/>
<stop offset="0.0135" stop-color="rgb(53,53,53)"/>
<stop offset="0.0270" stop-color="rgb(57,57,57)"/>
<stop offset="0.0405" stop-color="rgb(63,63,63)"/>
<stop offset="0.0540" stop-color="rgb(68,68,68)"/>
<stop offset="0.0675" stop-color="rgb(74,74,74)"/>
<stop offset="0.0810" stop-color="rgb(80,80,80)"/>
<stop offset="0.0945" stop-color="rgb(86,86,86)"/>
<stop offset="0.1080" stop-color="rgb(92,92,92)"/>
<stop offset="0.1215" stop-color="rgb(99,99,99)"/>
<stop offset="0.1350" stop-color="rgb(106,106,106)"/>
<stop offset="0.1485" stop-color="rgb(113,113,113)"/>
<stop offset="0.1620" stop-color="rgb(120,120,120)"/>
<stop offset="0.1755" stop-color="rgb(128,128,128)"/>
<stop offset="0.1890" stop-color="rgb(135,135,135)"/>
<stop offset="0.2025" stop-color="rgb(143,143,143)"/>
<stop offset="0.2160" stop-color="rgb(151,151,151)"/>
<stop offset="0.2295" stop-color="rgb(158,158,158)"/>
<stop offset="0.2430" stop-color="rgb(166,166,166)"/>
<stop offset="0.2565" stop-color="rgb(174,174,174)"/>
<stop offset="0.2700" stop-color="rgb(181,181,181)"/>
<stop offset="0.2835" stop-color="rgb(189,189,189)"/>
<stop offset="0.2970" stop-color="rgb(196,196,196)"/>
<stop offset="0.3105" stop-color="rgb(203,203,203)"/>
<stop offset="0.3240" stop-color="rgb(210,210,210)"/>
<stop offset="0.3375" stop-color="rgb(216,216,216)"/>
<stop offset="0.3510" stop-color="rgb(222,222,222)"/>
<stop offset="0.3645" stop-color="rgb(228,228,228)"/>
<stop offset="0.3780" stop-color="rgb(233,233,233)"/>
<stop offset="0.3915" stop-color="rgb(238,238,238)"/>
<stop offset="0.4050" stop-color="rgb(242,242,242)"/>
<stop offset="0.4185" stop-color="rgb(245,245,245)"/>
<stop offset="0.4320" stop-color="rgb(249,249,249)"/>
<stop offset="0.4455" stop-color="rgb(251,251,251)"/>
<stop offset="0.4590" stop-color="rgb(253,253,253)"/>
<stop offset="0.4725" stop-color="rgb(254,254,254)"/>
<stop offset="0.4860" stop-color="rgb(255,255,255)"/>
<stop offset="0.4995" stop-color="rgb(255,255,255)"/>
<stop offset="0.5131" stop-color="rgb(254,254,254)"/>
<stop offset="0.5266" stop-color="rgb(253,253,253)"/>
<stop offset="0.5401" stop-color="rgb(251,251,251)"/>
<stop offset="0.5536" stop-color="rgb(249,249,249)"/>
<stop offset="0.5671" stop-color="rgb(246,246,246)"/>
<stop offset="0.5806" stop-color="rgb(242,242,242)"/>
<stop offset="0.5941" stop-color="rgb(238,238,238)"/>
<stop offset="0.6076" stop-color="rgb(233,233,233)"/>
<stop offset="0.6211" stop-color="rgb(228,228,228)"/>
<stop offset="0.6346" stop-color="rgb(222,222,222)"/>
<stop offset="0.6481" stop-color="rgb(216,216,216)"/>
<stop offset="0.6616" stop-color="rgb(210,210,210)"/>
<stop offset="0.6751" stop-color="rgb(203,203,203)"/>
<stop offset="0.6886" stop-color="rgb(196,196,196)"/>
<stop offset="0.7021" stop-color="rgb(189,189,189)"/>
<stop offset="0.7156" stop-color="rgb(182,182,182)"/>
<stop offset="0.7291" stop-color="rgb(174,174,174)"/>
<stop offset="0.7426" stop-color="rgb(166,166,166)"/>
<stop offset="0.7561" stop-color="rgb(159,159,159)"/>
<stop offset="0.7696" stop-color="rgb(151,151,151)"/>
<stop offset="0.7831" stop-color="rgb(143,143,143)"/>
<stop offset="0.7966" stop-color="rgb(136,136,136)"/>
<stop offset="0.8101" stop-color="rgb(128,128,128)"/>
<stop offset="0.8236" stop-color="rgb(121,121,121)"/>
<stop offset="0.8371" stop-color="rgb(113,113,113)"/>
<stop offset="0.8506" stop-color="rgb(106,106,106)"/>
<stop offset="0.8641" stop-color="rgb(99,99,99)"/>
<stop offset="0.8776" stop-color="rgb(93,93,93)"/>
<stop offset="0.8911" stop-color="rgb(86,86,86)"/>
<stop offset="0.9046" stop-color="rgb(80,80,80)"/>
<stop offset="0.9181" stop-color="rgb(74,74,74)"/>
<stop offset="0.9316" stop-color="rgb(68,68,68)"/>
<stop offset="0.9451" stop-color="rgb(63,63,63)"/>
<stop offset="0.9586" stop-color="rgb(58,58,58)"/>
<stop offset="0.9721" stop-color="rgb(53,53,53)"/>
<stop offset="0.9856" stop-color="rgb(48,48,48)"/>
<stop offset="0.9991" stop-color="rgb(44,44,44)"/>
</linearGradient>
<linearGradient id="vg2_0" gradientUnits="userSpaceOnUse" x1="0" y1="215.2" x2="0" y2="326.3">
<stop offset="0.0000" stop-color="rgb(1,1,1)"/>
<stop offset="0.0135" stop-color="rgb(1,1,1)"/>
<stop offset="0.0270" stop-color="rgb(1,1,1)"/>
<stop offset="0.0405" stop-color="rgb(2,2,2)"/>
<stop offset="0.0540" stop-color="rgb(3,3,3)"/>
<stop offset="0.0675" stop-color="rgb(4,4,4)"/>
<stop offset="0.0810" stop-color="rgb(6,6,6)"/>
<stop offset="0.0945" stop-color="rgb(9,9,9)"/>
<stop offset="0.1080" stop-color="rgb(11,11,11)"/>
<stop offset="0.1215" stop-color="rgb(15,15,15)"/>
<stop offset="0.1350" stop-color="rgb(20,20,20)"/>
<stop offset="0.1485" stop-color="rgb(25,25,25)"/>
<stop offset="0.1620" stop-color="rgb(32,32,32)"/>
<stop offset="0.1755" stop-color="rgb(40,40,40)"/>
<stop offset="0.1890" stop-color="rgb(48,48,48)"/>
<stop offset="0.2025" stop-color="rgb(58,58,58)"/>
<stop offset="0.2160" stop-color="rgb(69,69,69)"/>
<stop offset="0.2295" stop-color="rgb(81,81,81)"/>
<stop offset="0.2430" stop-color="rgb(94,94,94)"/>
<stop offset="0.2565" stop-color="rgb(107,107,107)"/>
<stop offset="0.2700" stop-color="rgb(121,121,121)"/>
<stop offset="0.2835" stop-color="rgb(135,135,135)"/>
<stop offset="0.2970" stop-color="rgb(149,149,149)"/>
<stop offset="0.3105" stop-color="rgb(163,163,163)"/>
<stop offset="0.3240" stop-color="rgb(176,176,176)"/>
<stop offset="0.3375" stop-color="rgb(189,189,189)"/>
<stop offset="0.3510" stop-color="rgb(200,200,200)"/>
<stop offset="0.3645" stop-color="rgb(211,211,211)"/>
<stop offset="0.3780" stop-color="rgb(221,221,221)"/>
<stop offset="0.3915" stop-color="rgb(229,229,229)"/>
<stop offset="0.4050" stop-color="rgb(236,236,236)"/>
<stop offset="0.4185" stop-color="rgb(242,242,242)"/>
<stop offset="0.4320" stop-color="rgb(246,246,246)"/>
<stop offset="0.4455" stop-color="rgb(250,250,250)"/>
<stop offset="0.4590" stop-color="rgb(252,252,252)"/>
<stop offset="0.4725" stop-color="rgb(254,254,254)"/>
<stop offset="0.4860" stop-color="rgb(255,255,255)"/>
<stop offset="0.4995" stop-color="rgb(255,255,255)"/>
<stop offset="0.5131" stop-color="rgb(255,255,255)"/>
<stop offset="0.5266" stop-color="rgb(255,255,255)"/>
<stop offset="0.5401" stop-color="rgb(255,255,255)"/>
<stop offset="0.5536" stop-color="rgb(254,254,254)"/>
<stop offset="0.5671" stop-color="rgb(252,252,252)"/>
<stop offset="0.5806" stop-color="rgb(250,250,250)"/>
<stop offset="0.5941" stop-color="rgb(247,247,247)"/>
<stop offset="0.6076" stop-color="rgb(242,242,242)"/>
<stop offset="0.6211" stop-color="rgb(237,237,237)"/>
<stop offset="0.6346" stop-color="rgb(230,230,230)"/>
<stop offset="0.6481" stop-color="rgb(222,222,222)"/>
<stop offset="0.6616" stop-color="rgb(212,212,212)"/>
<stop offset="0.6751" stop-color="rgb(202,202,202)"/>
<stop offset="0.6886" stop-color="rgb(190,190,190)"/>
<stop offset="0.7021" stop-color="rgb(178,178,178)"/>
<stop offset="0.7156" stop-color="rgb(165,165,165)"/>
<stop offset="0.7291" stop-color="rgb(151,151,151)"/>
<stop offset="0.7426" stop-color="rgb(137,137,137)"/>
<stop offset="0.7561" stop-color="rgb(123,123,123)"/>
<stop offset="0.7696" stop-color="rgb(109,109,109)"/>
<stop offset="0.7831" stop-color="rgb(96,96,96)"/>
<stop offset="0.7966" stop-color="rgb(83,83,83)"/>
<stop offset="0.8101" stop-color="rgb(71,71,71)"/>
<stop offset="0.8236" stop-color="rgb(60,60,60)"/>
<stop offset="0.8371" stop-color="rgb(50,50,50)"/>
<stop offset="0.8506" stop-color="rgb(41,41,41)"/>
<stop offset="0.8641" stop-color="rgb(33,33,33)"/>
<stop offset="0.8776" stop-color="rgb(26,26,26)"/>
<stop offset="0.8911" stop-color="rgb(20,20,20)"/>
<stop offset="0.9046" stop-color="rgb(16,16,16)"/>
<stop offset="0.9181" stop-color="rgb(12,12,12)"/>
<stop offset="0.9316" stop-color="rgb(9,9,9)"/>
<stop offset="0.9451" stop-color="rgb(6,6,6)"/>
<stop offset="0.9586" stop-color="rgb(5,5,5)"/>
<stop offset="0.9721" stop-color="rgb(3,3,3)"/>
<stop offset="0.9856" stop-color="rgb(2,2,2)"/>
<stop offset="0.9991" stop-color="rgb(2,2,2)"/>
</linearGradient>
<linearGradient id="vg2_1" gradientUnits="userSpaceOnUse" x1="0" y1="215.2" x2="0" y2="326.3">
<stop offset="0.0000" stop-color="rgb(57,57,57)"/>
<stop offset="0.0135" stop-color="rgb(62,62,62)"/>
<stop offset="0.0270" stop-color="rgb(67,67,67)"/>
<stop offset="0.0405" stop-color="rgb(72,72,72)"/>
<stop offset="0.0540" stop-color="rgb(77,77,77)"/>
<stop offset="0.0675" stop-color="rgb(82,82,82)"/>
<stop offset="0.0810" stop-color="rgb(88,88,88)"/>
<stop offset="0.0945" stop-color="rgb(94,94,94)"/>
<stop offset="0.1080" stop-color="rgb(100,100,100)"/>
<stop offset="0.1215" stop-color="rgb(107,107,107)"/>
<stop offset="0.1350" stop-color="rgb(113,113,113)"/>
<stop offset="0.1485" stop-color="rgb(120,120,120)"/>
<stop offset="0.1620" stop-color="rgb(126,126,126)"/>
<stop offset="0.1755" stop-color="rgb(133,133,133)"/>
<stop offset="0.1890" stop-color="rgb(140,140,140)"/>
<stop offset="0.2025" stop-color="rgb(147,147,147)"/>
<stop offset="0.2160" stop-color="rgb(154,154,154)"/>
<stop offset="0.2295" stop-color="rgb(161,161,161)"/>
<stop offset="0.2430" stop-color="rgb(168,168,168)"/>
<stop offset="0.2565" stop-color="rgb(175,175,175)"/>
<stop offset="0.2700" stop-color="rgb(182,182,182)"/>
<stop offset="0.2835" stop-color="rgb(189,189,189)"/>
<stop offset="0.2970" stop-color="rgb(195,195,195)"/>
<stop offset="0.3105" stop-color="rgb(202,202,202)"/>
<stop offset="0.3240" stop-color="rgb(208,208,208)"/>
<stop offset="0.3375" stop-color="rgb(214,214,214)"/>
<stop offset="0.3510" stop-color="rgb(219,219,219)"/>
<stop offset="0.3645" stop-color="rgb(225,225,225)"/>
<stop offset="0.3780" stop-color="rgb(230,230,230)"/>
<stop offset="0.3915" stop-color="rgb(234,234,234)"/>
<stop offset="0.4050" stop-color="rgb(238,238,238)"/>
<stop offset="0.4185" stop-color="rgb(242,242,242)"/>
<stop offset="0.4320" stop-color="rgb(245,245,245)"/>
<stop offset="0.4455" stop-color="rgb(248,248,248)"/>
<stop offset="0.4590" stop-color="rgb(251,251,251)"/>
<stop offset="0.4725" stop-color="rgb(253,253,253)"/>
<stop offset="0.4860" stop-color="rgb(254,254,254)"/>
<stop offset="0.4995" stop-color="rgb(255,255,255)"/>
<stop offset="0.5131" stop-color="rgb(255,255,255)"/>
<stop offset="0.5266" stop-color="rgb(255,255,255)"/>
<stop offset="0.5401" stop-color="rgb(254,254,254)"/>
<stop offset="0.5536" stop-color="rgb(253,253,253)"/>
<stop offset="0.5671" stop-color="rgb(251,251,251)"/>
<stop offset="0.5806" stop-color="rgb(249,249,249)"/>
<stop offset="0.5941" stop-color="rgb(246,246,246)"/>
<stop offset="0.6076" stop-color="rgb(243,243,243)"/>
<stop offset="0.6211" stop-color="rgb(239,239,239)"/>
<stop offset="0.6346" stop-color="rgb(235,235,235)"/>
<stop offset="0.6481" stop-color="rgb(230,230,230)"/>
<stop offset="0.6616" stop-color="rgb(225,225,225)"/>
<stop offset="0.6751" stop-color="rgb(220,220,220)"/>
<stop offset="0.6886" stop-color="rgb(215,215,215)"/>
<stop offset="0.7021" stop-color="rgb(209,209,209)"/>
<stop offset="0.7156" stop-color="rgb(203,203,203)"/>
<stop offset="0.7291" stop-color="rgb(196,196,196)"/>
<stop offset="0.7426" stop-color="rgb(190,190,190)"/>
<stop offset="0.7561" stop-color="rgb(183,183,183)"/>
<stop offset="0.7696" stop-color="rgb(176,176,176)"/>
<stop offset="0.7831" stop-color="rgb(169,169,169)"/>
<stop offset="0.7966" stop-color="rgb(162,162,162)"/>
<stop offset="0.8101" stop-color="rgb(155,155,155)"/>
<stop offset="0.8236" stop-color="rgb(148,148,148)"/>
<stop offset="0.8371" stop-color="rgb(141,141,141)"/>
<stop offset="0.8506" stop-color="rgb(134,134,134)"/>
<stop offset="0.8641" stop-color="rgb(127,127,127)"/>
<stop offset="0.8776" stop-color="rgb(121,121,121)"/>
<stop offset="0.8911" stop-color="rgb(114,114,114)"/>
<stop offset="0.9046" stop-color="rgb(107,107,107)"/>
<stop offset="0.9181" stop-color="rgb(101,101,101)"/>
<stop offset="0.9316" stop-color="rgb(95,95,95)"/>
<stop offset="0.9451" stop-color="rgb(89,89,89)"/>
<stop offset="0.9586" stop-color="rgb(83,83,83)"/>
<stop offset="0.9721" stop-color="rgb(78,78,78)"/>
<stop offset="0.9856" stop-color="rgb(72,72,72)"/>
<stop offset="0.9991" stop-color="rgb(67,67,67)"/>
</linearGradient>
<linearGradient id="vg3_0" gradientUnits="userSpaceOnUse" x1="0" y1="215.2" x2="0" y2="326.3">
<stop offset="0.0000" stop-color="rgb(9,9,9)"/>
<stop offset="0.0135" stop-color="rgb(11,11,11)"/>
<stop offset="0.0270" stop-color="rgb(13,13,13)"/>
<stop offset="0.0405" stop-color="rgb(16,16,16)"/>
<stop offset="0.0540" stop-color="rgb(19,19,19)"/>
<stop offset="0.0675" stop-color="rgb(22,22,22)"/>
<stop offset="0.0810" stop-color="rgb(26,26,26)"/>
<stop offset="0.0945" stop-color="rgb(31,31,31)"/>
<stop offset="0.1080" stop-color="rgb(36,36,36)"/>
<stop offset="0.1215" stop-color="rgb(42,42,42)"/>
<stop offset="0.1350" stop-color="rgb(48,48,48)"/>
<stop offset="0.1485" stop-color="rgb(55,55,55)"/>
<stop offset="0.1620" stop-color="rgb(63,63,63)"/>
<stop offset="0.1755" stop-color="rgb(71,71,71)"/>
<stop offset="0.1890" stop-color="rgb(80,80,80)"/>
<stop offset="0.2025" stop-color="rgb(89,89,89)"/>
<stop offset="0.2160" stop-color="rgb(99,99,99)"/>
<stop offset="0.2295" stop-color="rgb(109,109,109)"/>
<stop offset="0.2430" stop-color="rgb(120,120,120)"/>
<stop offset="0.2565" stop-color="rgb(131,131,131)"/>
<stop offset="0.2700" stop-color="rgb(142,142,142)"/>
<stop offset="0.2835" stop-color="rgb(152,152,152)"/>
<stop offset="0.2970" stop-color="rgb(163,163,163)"/>
<stop offset="0.3105" stop-color="rgb(174,174,174)"/>
<stop offset="0.3240" stop-color="rgb(184,184,184)"/>
<stop offset="0.3375" stop-color="rgb(194,194,194)"/>
<stop offset="0.3510" stop-color="rgb(204,204,204)"/>
<stop offset="0.3645" stop-color="rgb(213,213,213)"/>
<stop offset="0.3780" stop-color="rgb(221,221,221)"/>
<stop offset="0.3915" stop-color="rgb(228,228,228)"/>
<stop offset="0.4050" stop-color="rgb(234,234,234)"/>
<stop offset="0.4185" stop-color="rgb(240,240,240)"/>
<stop offset="0.4320" stop-color="rgb(245,245,245)"/>
<stop offset="0.4455" stop-color="rgb(248,248,248)"/>
<stop offset="0.4590" stop-color="rgb(251,251,251)"/>
<stop offset="0.4725" stop-color="rgb(253,253,253)"/>
<stop offset="0.4860" stop-color="rgb(254,254,254)"/>
<stop offset="0.4995" stop-color="rgb(255,255,255)"/>
<stop offset="0.5131" stop-color="rgb(255,255,255)"/>
<stop offset="0.5266" stop-color="rgb(255,255,255)"/>
<stop offset="0.5401" stop-color="rgb(253,253,253)"/>
<stop offset="0.5536" stop-color="rgb(251,251,251)"/>
<stop offset="0.5671" stop-color="rgb(249,249,249)"/>
<stop offset="0.5806" stop-color="rgb(245,245,245)"/>
<stop offset="0.5941" stop-color="rgb(240,240,240)"/>
<stop offset="0.6076" stop-color="rgb(235,235,235)"/>
<stop offset="0.6211" stop-color="rgb(228,228,228)"/>
<stop offset="0.6346" stop-color="rgb(221,221,221)"/>
<stop offset="0.6481" stop-color="rgb(213,213,213)"/>
<stop offset="0.6616" stop-color="rgb(204,204,204)"/>
<stop offset="0.6751" stop-color="rgb(195,195,195)"/>
<stop offset="0.6886" stop-color="rgb(185,185,185)"/>
<stop offset="0.7021" stop-color="rgb(175,175,175)"/>
<stop offset="0.7156" stop-color="rgb(164,164,164)"/>
<stop offset="0.7291" stop-color="rgb(153,153,153)"/>
<stop offset="0.7426" stop-color="rgb(142,142,142)"/>
<stop offset="0.7561" stop-color="rgb(131,131,131)"/>
<stop offset="0.7696" stop-color="rgb(121,121,121)"/>
<stop offset="0.7831" stop-color="rgb(110,110,110)"/>
<stop offset="0.7966" stop-color="rgb(100,100,100)"/>
<stop offset="0.8101" stop-color="rgb(90,90,90)"/>
<stop offset="0.8236" stop-color="rgb(81,81,81)"/>
<stop offset="0.8371" stop-color="rgb(72,72,72)"/>
<stop offset="0.8506" stop-color="rgb(64,64,64)"/>
<stop offset="0.8641" stop-color="rgb(56,56,56)"/>
<stop offset="0.8776" stop-color="rgb(49,49,49)"/>
<stop offset="0.8911" stop-color="rgb(42,42,42)"/>
<stop offset="0.9046" stop-color="rgb(37,37,37)"/>
<stop offset="0.9181" stop-color="rgb(31,31,31)"/>
<stop offset="0.9316" stop-color="rgb(27,27,27)"/>
<stop offset="0.9451" stop-color="rgb(22,22,22)"/>
<stop offset="0.9586" stop-color="rgb(19,19,19)"/>
<stop offset="0.9721" stop-color="rgb(16,16,16)"/>
<stop offset="0.9856" stop-color="rgb(13,13,13)"/>
<stop offset="0.9991" stop-color="rgb(11,11,11)"/>
</linearGradient>
<linearGradient id="vg3_1" gradientUnits="userSpaceOnUse" x1="0" y1="215.2" x2="0" y2="326.3">
<stop offset="0.0000" stop-color="rgb(49,49,49)"/>
<stop offset="0.0135" stop-color="rgb(53,53,53)"/>
<stop offset="0.0270" stop-color="rgb(58,58,58)"/>
<stop offset="0.0405" stop-color="rgb(63,63,63)"/>
<stop offset="0.0540" stop-color="rgb(68,68,68)"/>
<stop offset="0.0675" stop-color="rgb(74,74,74)"/>
<stop offset="0.0810" stop-color="rgb(80,80,80)"/>
<stop offset="0.0945" stop-color="rgb(86,86,86)"/>
<stop offset="0.1080" stop-color="rgb(92,92,92)"/>
<stop offset="0.1215" stop-color="rgb(98,98,98)"/>
<stop offset="0.1350" stop-color="rgb(105,105,105)"/>
<stop offset="0.1485" stop-color="rgb(112,112,112)"/>
<stop offset="0.1620" stop-color="rgb(119,119,119)"/>
<stop offset="0.1755" stop-color="rgb(126,126,126)"/>
<stop offset="0.1890" stop-color="rgb(133,133,133)"/>
<stop offset="0.2025" stop-color="rgb(141,141,141)"/>
<stop offset="0.2160" stop-color="rgb(148,148,148)"/>
<stop offset="0.2295" stop-color="rgb(156,156,156)"/>
<stop offset="0.2430" stop-color="rgb(163,163,163)"/>
<stop offset="0.2565" stop-color="rgb(171,171,171)"/>
<stop offset="0.2700" stop-color="rgb(178,178,178)"/>
<stop offset="0.2835" stop-color="rgb(185,185,185)"/>
<stop offset="0.2970" stop-color="rgb(192,192,192)"/>
<stop offset="0.3105" stop-color="rgb(199,199,199)"/>
<stop offset="0.3240" stop-color="rgb(206,206,206)"/>
<stop offset="0.3375" stop-color="rgb(212,212,212)"/>
<stop offset="0.3510" stop-color="rgb(218,218,218)"/>
<stop offset="0.3645" stop-color="rgb(224,224,224)"/>
<stop offset="0.3780" stop-color="rgb(229,229,229)"/>
<stop offset="0.3915" stop-color="rgb(234,234,234)"/>
<stop offset="0.4050" stop-color="rgb(239,239,239)"/>
<stop offset="0.4185" stop-color="rgb(243,243,243)"/>
<stop offset="0.4320" stop-color="rgb(246,246,246)"/>
<stop offset="0.4455" stop-color="rgb(249,249,249)"/>
<stop offset="0.4590" stop-color="rgb(251,251,251)"/>
<stop offset="0.4725" stop-color="rgb(253,253,253)"/>
<stop offset="0.4860" stop-color="rgb(254,254,254)"/>
<stop offset="0.4995" stop-color="rgb(255,255,255)"/>
<stop offset="0.5131" stop-color="rgb(255,255,255)"/>
<stop offset="0.5266" stop-color="rgb(254,254,254)"/>
<stop offset="0.5401" stop-color="rgb(253,253,253)"/>
<stop offset="0.5536" stop-color="rgb(251,251,251)"/>
<stop offset="0.5671" stop-color="rgb(249,249,249)"/>
<stop offset="0.5806" stop-color="rgb(246,246,246)"/>
<stop offset="0.5941" stop-color="rgb(243,243,243)"/>
<stop offset="0.6076" stop-color="rgb(239,239,239)"/>
<stop offset="0.6211" stop-color="rgb(234,234,234)"/>
<stop offset="0.6346" stop-color="rgb(230,230,230)"/>
<stop offset="0.6481" stop-color="rgb(224,224,224)"/>
<stop offset="0.6616" stop-color="rgb(219,219,219)"/>
<stop offset="0.6751" stop-color="rgb(213,213,213)"/>
<stop offset="0.6886" stop-color="rgb(206,206,206)"/>
<stop offset="0.7021" stop-color="rgb(200,200,200)"/>
<stop offset="0.7156" stop-color="rgb(193,193,193)"/>
<stop offset="0.7291" stop-color="rgb(186,186,186)"/>
<stop offset="0.7426" stop-color="rgb(178,178,178)"/>
<stop offset="0.7561" stop-color="rgb(171,171,171)"/>
<stop offset="0.7696" stop-color="rgb(164,164,164)"/>
<stop offset="0.7831" stop-color="rgb(156,156,156)"/>
<stop offset="0.7966" stop-color="rgb(149,149,149)"/>
<stop offset="0.8101" stop-color="rgb(141,141,141)"/>
<stop offset="0.8236" stop-color="rgb(134,134,134)"/>
<stop offset="0.8371" stop-color="rgb(127,127,127)"/>
<stop offset="0.8506" stop-color="rgb(119,119,119)"/>
<stop offset="0.8641" stop-color="rgb(112,112,112)"/>
<stop offset="0.8776" stop-color="rgb(105,105,105)"/>
<stop offset="0.8911" stop-color="rgb(99,99,99)"/>
<stop offset="0.9046" stop-color="rgb(92,92,92)"/>
<stop offset="0.9181" stop-color="rgb(86,86,86)"/>
<stop offset="0.9316" stop-color="rgb(80,80,80)"/>
<stop offset="0.9451" stop-color="rgb(74,74,74)"/>
<stop offset="0.9586" stop-color="rgb(69,69,69)"/>
<stop offset="0.9721" stop-color="rgb(63,63,63)"/>
<stop offset="0.9856" stop-color="rgb(58,58,58)"/>
<stop offset="0.9991" stop-color="rgb(54,54,54)"/>
</linearGradient>
<linearGradient id="vg4_0" gradientUnits="userSpaceOnUse" x1="0" y1="215.2" x2="0" y2="326.3">
<stop offset="0.0000" stop-color="rgb(0,0,0)"/>
<stop offset="0.0135" stop-color="rgb(0,0,0)"/>
<stop offset="0.0270" stop-color="rgb(0,0,0)"/>
<stop offset="0.0405" stop-color="rgb(1,1,1)"/>
<stop offset="0.0540" stop-color="rgb(1,1,1)"/>
<stop offset="0.0675" stop-color="rgb(1,1,1)"/>
<stop offset="0.0810" stop-color="rgb(2,2,2)"/>
<stop offset="0.0945" stop-color="rgb(3,3,3)"/>
<stop offset="0.1080" stop-color="rgb(5,5,5)"/>
<stop offset="0.1215" stop-color="rgb(6,6,6)"/>
<stop offset="0.1350" stop-color="rgb(9,9,9)"/>
<stop offset="0.1485" stop-color="rgb(12,12,12)"/>
<stop offset="0.1620" stop-color="rgb(16,16,16)"/>
<stop offset="0.1755" stop-color="rgb(20,20,20)"/>
<stop offset="0.1890" stop-color="rgb(26,26,26)"/>
<stop offset="0.2025" stop-color="rgb(33,33,33)"/>
<stop offset="0.2160" stop-color="rgb(42,42,42)"/>
<stop offset="0.2295" stop-color="rgb(51,51,51)"/>
<stop offset="0.2430" stop-color="rgb(62,62,62)"/>
<stop offset="0.2565" stop-color="rgb(74,74,74)"/>
<stop offset="0.2700" stop-color="rgb(87,87,87)"/>
<stop offset="0.2835" stop-color="rgb(101,101,101)"/>
<stop offset="0.2970" stop-color="rgb(116,116,116)"/>
<stop offset="0.3105" stop-color="rgb(131,131,131)"/>
<stop offset="0.3240" stop-color="rgb(146,146,146)"/>
<stop offset="0.3375" stop-color="rgb(162,162,162)"/>
<stop offset="0.3510" stop-color="rgb(177,177,177)"/>
<stop offset="0.3645" stop-color="rgb(191,191,191)"/>
<stop offset="0.3780" stop-color="rgb(204,204,204)"/>
<stop offset="0.3915" stop-color="rgb(215,215,215)"/>
<stop offset="0.4050" stop-color="rgb(226,226,226)"/>
<stop offset="0.4185" stop-color="rgb(234,234,234)"/>
<stop offset="0.4320" stop-color="rgb(242,242,242)"/>
<stop offset="0.4455" stop-color="rgb(247,247,247)"/>
<stop offset="0.4590" stop-color="rgb(251,251,251)"/>
<stop offset="0.4725" stop-color="rgb(253,253,253)"/>
<stop offset="0.4860" stop-color="rgb(255,255,255)"/>
<stop offset="0.4995" stop-color="rgb(255,255,255)"/>
<stop offset="0.5131" stop-color="rgb(255,255,255)"/>
<stop offset="0.5266" stop-color="rgb(254,254,254)"/>
<stop offset="0.5401" stop-color="rgb(252,252,252)"/>
<stop offset="0.5536" stop-color="rgb(249,249,249)"/>
<stop offset="0.5671" stop-color="rgb(244,244,244)"/>
<stop offset="0.5806" stop-color="rgb(238,238,238)"/>
<stop offset="0.5941" stop-color="rgb(229,229,229)"/>
<stop offset="0.6076" stop-color="rgb(220,220,220)"/>
<stop offset="0.6211" stop-color="rgb(209,209,209)"/>
<stop offset="0.6346" stop-color="rgb(196,196,196)"/>
<stop offset="0.6481" stop-color="rgb(182,182,182)"/>
<stop offset="0.6616" stop-color="rgb(168,168,168)"/>
<stop offset="0.6751" stop-color="rgb(153,153,153)"/>
<stop offset="0.6886" stop-color="rgb(137,137,137)"/>
<stop offset="0.7021" stop-color="rgb(122,122,122)"/>
<stop offset="0.7156" stop-color="rgb(107,107,107)"/>
<stop offset="0.7291" stop-color="rgb(93,93,93)"/>
<stop offset="0.7426" stop-color="rgb(79,79,79)"/>
<stop offset="0.7561" stop-color="rgb(67,67,67)"/>
<stop offset="0.7696" stop-color="rgb(55,55,55)"/>
<stop offset="0.7831" stop-color="rgb(45,45,45)"/>
<stop offset="0.7966" stop-color="rgb(37,37,37)"/>
<stop offset="0.8101" stop-color="rgb(29,29,29)"/>
<stop offset="0.8236" stop-color="rgb(23,23,23)"/>
<stop offset="0.8371" stop-color="rgb(17,17,17)"/>
<stop offset="0.8506" stop-color="rgb(13,13,13)"/>
<stop offset="0.8641" stop-color="rgb(10,10,10)"/>
<stop offset="0.8776" stop-color="rgb(7,7,7)"/>
<stop offset="0.8911" stop-color="rgb(5,5,5)"/>
<stop offset="0.9046" stop-color="rgb(4,4,4)"/>
<stop offset="0.9181" stop-color="rgb(3,3,3)"/>
<stop offset="0.9316" stop-color="rgb(2,2,2)"/>
<stop offset="0.9451" stop-color="rgb(1,1,1)"/>
<stop offset="0.9586" stop-color="rgb(1,1,1)"/>
<stop offset="0.9721" stop-color="rgb(0,0,0)"/>
<stop offset="0.9856" stop-color="rgb(0,0,0)"/>
<stop offset="0.9991" stop-color="rgb(0,0,0)"/>
</linearGradient>
<linearGradient id="vg4_1" gradientUnits="userSpaceOnUse" x1="0" y1="215.2" x2="0" y2="326.3">
<stop offset="0.0000" stop-color="rgb(35,35,35)"/>
<stop offset="0.0135" stop-color="rgb(39,39,39)"/>
<stop offset="0.0270" stop-color="rgb(43,43,43)"/>
<stop offset="0.0405" stop-color="rgb(48,48,48)"/>
<stop offset="0.0540" stop-color="rgb(52,52,52)"/>
<stop offset="0.0675" stop-color="rgb(58,58,58)"/>
<stop offset="0.0810" stop-color="rgb(63,63,63)"/>
<stop offset="0.0945" stop-color="rgb(69,69,69)"/>
<stop offset="0.1080" stop-color="rgb(75,75,75)"/>
<stop offset="0.1215" stop-color="rgb(81,81,81)"/>
<stop offset="0.1350" stop-color="rgb(88,88,88)"/>
<stop offset="0.1485" stop-color="rgb(95,95,95)"/>
<stop offset="0.1620" stop-color="rgb(103,103,103)"/>
<stop offset="0.1755" stop-color="rgb(110,110,110)"/>
<stop offset="0.1890" stop-color="rgb(118,118,118)"/>
<stop offset="0.2025" stop-color="rgb(126,126,126)"/>
<stop offset="0.2160" stop-color="rgb(134,134,134)"/>
<stop offset="0.2295" stop-color="rgb(142,142,142)"/>
<stop offset="0.2430" stop-color="rgb(150,150,150)"/>
<stop offset="0.2565" stop-color="rgb(159,159,159)"/>
<stop offset="0.2700" stop-color="rgb(167,167,167)"/>
<stop offset="0.2835" stop-color="rgb(175,175,175)"/>
<stop offset="0.2970" stop-color="rgb(183,183,183)"/>
<stop offset="0.3105" stop-color="rgb(191,191,191)"/>
<stop offset="0.3240" stop-color="rgb(199,199,199)"/>
<stop offset="0.3375" stop-color="rgb(206,206,206)"/>
<stop offset="0.3510" stop-color="rgb(213,213,213)"/>
<stop offset="0.3645" stop-color="rgb(220,220,220)"/>
<stop offset="0.3780" stop-color="rgb(226,226,226)"/>
<stop offset="0.3915" stop-color="rgb(232,232,232)"/>
<stop offset="0.4050" stop-color="rgb(237,237,237)"/>
<stop offset="0.4185" stop-color="rgb(241,241,241)"/>
<stop offset="0.4320" stop-color="rgb(245,245,245)"/>
<stop offset="0.4455" stop-color="rgb(249,249,249)"/>
<stop offset="0.4590" stop-color="rgb(251,251,251)"/>
<stop offset="0.4725" stop-color="rgb(253,253,253)"/>
<stop offset="0.4860" stop-color="rgb(254,254,254)"/>
<stop offset="0.4995" stop-color="rgb(255,255,255)"/>
<stop offset="0.5131" stop-color="rgb(255,255,255)"/>
<stop offset="0.5266" stop-color="rgb(254,254,254)"/>
<stop offset="0.5401" stop-color="rgb(252,252,252)"/>
<stop offset="0.5536" stop-color="rgb(250,250,250)"/>
<stop offset="0.5671" stop-color="rgb(247,247,247)"/>
<stop offset="0.5806" stop-color="rgb(243,243,243)"/>
<stop offset="0.5941" stop-color="rgb(239,239,239)"/>
<stop offset="0.6076" stop-color="rgb(234,234,234)"/>
<stop offset="0.6211" stop-color="rgb(228,228,228)"/>
<stop offset="0.6346" stop-color="rgb(222,222,222)"/>
<stop offset="0.6481" stop-color="rgb(216,216,216)"/>
<stop offset="0.6616" stop-color="rgb(209,209,209)"/>
<stop offset="0.6751" stop-color="rgb(202,202,202)"/>
<stop offset="0.6886" stop-color="rgb(194,194,194)"/>
<stop offset="0.7021" stop-color="rgb(186,186,186)"/>
<stop offset="0.7156" stop-color="rgb(178,178,178)"/>
<stop offset="0.7291" stop-color="rgb(170,170,170)"/>
<stop offset="0.7426" stop-color="rgb(162,162,162)"/>
<stop offset="0.7561" stop-color="rgb(154,154,154)"/>
<stop offset="0.7696" stop-color="rgb(145,145,145)"/>
<stop offset="0.7831" stop-color="rgb(137,137,137)"/>
<stop offset="0.7966" stop-color="rgb(129,129,129)"/>
<stop offset="0.8101" stop-color="rgb(121,121,121)"/>
<stop offset="0.8236" stop-color="rgb(113,113,113)"/>
<stop offset="0.8371" stop-color="rgb(106,106,106)"/>
<stop offset="0.8506" stop-color="rgb(98,98,98)"/>
<stop offset="0.8641" stop-color="rgb(91,91,91)"/>
<stop offset="0.8776" stop-color="rgb(84,84,84)"/>
<stop offset="0.8911" stop-color="rgb(78,78,78)"/>
<stop offset="0.9046" stop-color="rgb(71,71,71)"/>
<stop offset="0.9181" stop-color="rgb(65,65,65)"/>
<stop offset="0.9316" stop-color="rgb(60,60,60)"/>
<stop offset="0.9451" stop-color="rgb(54,54,54)"/>
<stop offset="0.9586" stop-color="rgb(49,49,49)"/>
<stop offset="0.9721" stop-color="rgb(45,45,45)"/>
<stop offset="0.9856" stop-color="rgb(41,41,41)"/>
<stop offset="0.9991" stop-color="rgb(37,37,37)"/>
</linearGradient>
<linearGradient id="vg5_0" gradientUnits="userSpaceOnUse" x1="0" y1="215.2" x2="0" y2="326.3">
<stop offset="0.0000" stop-color="rgb(0,0,0)"/>
<stop offset="0.0135" stop-color="rgb(0,0,0)"/>
<stop offset="0.0270" stop-color="rgb(1,1,1)"/>
<stop offset="0.0405" stop-color="rgb(1,1,1)"/>
<stop offset="0.0540" stop-color="rgb(1,1,1)"/>
<stop offset="0.0675" stop-color="rgb(2,2,2)"/>
<stop offset="0.0810" stop-color="rgb(2,2,2)"/>
<stop offset="0.0945" stop-color="rgb(3,3,3)"/>
<stop offset="0.1080" stop-color="rgb(5,5,5)"/>
<stop offset="0.1215" stop-color="rgb(6,6,6)"/>
<stop offset="0.1350" stop-color="rgb(8,8,8)"/>
<stop offset="0.1485" stop-color="rgb(11,11,11)"/>
<stop offset="0.1620" stop-color="rgb(14,14,14)"/>
<stop offset="0.1755" stop-color="rgb(18,18,18)"/>
<stop offset="0.1890" stop-color="rgb(23,23,23)"/>
<stop offset="0.2025" stop-color="rgb(28,28,28)"/>
<stop offset="0.2160" stop-color="rgb(35,35,35)"/>
<stop offset="0.2295" stop-color="rgb(43,43,43)"/>
<stop offset="0.2430" stop-color="rgb(52,52,52)"/>
<stop offset="0.2565" stop-color="rgb(62,62,62)"/>
<stop offset="0.2700" stop-color="rgb(73,73,73)"/>
<stop offset="0.2835" stop-color="rgb(85,85,85)"/>
<stop offset="0.2970" stop-color="rgb(98,98,98)"/>
<stop offset="0.3105" stop-color="rgb(112,112,112)"/>
<stop offset="0.3240" stop-color="rgb(127,127,127)"/>
<stop offset="0.3375" stop-color="rgb(142,142,142)"/>
<stop offset="0.3510" stop-color="rgb(157,157,157)"/>
<stop offset="0.3645" stop-color="rgb(172,172,172)"/>
<stop offset="0.3780" stop-color="rgb(186,186,186)"/>
<stop offset="0.3915" stop-color="rgb(200,200,200)"/>
<stop offset="0.4050" stop-color="rgb(212,212,212)"/>
<stop offset="0.4185" stop-color="rgb(223,223,223)"/>
<stop offset="0.4320" stop-color="rgb(233,233,233)"/>
<stop offset="0.4455" stop-color="rgb(241,241,241)"/>
<stop offset="0.4590" stop-color="rgb(247,247,247)"/>
<stop offset="0.4725" stop-color="rgb(252,252,252)"/>
<stop offset="0.4860" stop-color="rgb(254,254,254)"/>
<stop offset="0.4995" stop-color="rgb(255,255,255)"/>
<stop offset="0.5131" stop-color="rgb(255,255,255)"/>
<stop offset="0.5266" stop-color="rgb(253,253,253)"/>
<stop offset="0.5401" stop-color="rgb(249,249,249)"/>
<stop offset="0.5536" stop-color="rgb(244,244,244)"/>
<stop offset="0.5671" stop-color="rgb(236,236,236)"/>
<stop offset="0.5806" stop-color="rgb(227,227,227)"/>
<stop offset="0.5941" stop-color="rgb(217,217,217)"/>
<stop offset="0.6076" stop-color="rgb(205,205,205)"/>
<stop offset="0.6211" stop-color="rgb(191,191,191)"/>
<stop offset="0.6346" stop-color="rgb(177,177,177)"/>
<stop offset="0.6481" stop-color="rgb(163,163,163)"/>
<stop offset="0.6616" stop-color="rgb(148,148,148)"/>
<stop offset="0.6751" stop-color="rgb(133,133,133)"/>
<stop offset="0.6886" stop-color="rgb(118,118,118)"/>
<stop offset="0.7021" stop-color="rgb(104,104,104)"/>
<stop offset="0.7156" stop-color="rgb(90,90,90)"/>
<stop offset="0.7291" stop-color="rgb(78,78,78)"/>
<stop offset="0.7426" stop-color="rgb(66,66,66)"/>
<stop offset="0.7561" stop-color="rgb(56,56,56)"/>
<stop offset="0.7696" stop-color="rgb(46,46,46)"/>
<stop offset="0.7831" stop-color="rgb(38,38,38)"/>
<stop offset="0.7966" stop-color="rgb(31,31,31)"/>
<stop offset="0.8101" stop-color="rgb(25,25,25)"/>
<stop offset="0.8236" stop-color="rgb(20,20,20)"/>
<stop offset="0.8371" stop-color="rgb(16,16,16)"/>
<stop offset="0.8506" stop-color="rgb(12,12,12)"/>
<stop offset="0.8641" stop-color="rgb(9,9,9)"/>
<stop offset="0.8776" stop-color="rgb(7,7,7)"/>
<stop offset="0.8911" stop-color="rgb(5,5,5)"/>
<stop offset="0.9046" stop-color="rgb(4,4,4)"/>
<stop offset="0.9181" stop-color="rgb(3,3,3)"/>
<stop offset="0.9316" stop-color="rgb(2,2,2)"/>
<stop offset="0.9451" stop-color="rgb(1,1,1)"/>
<stop offset="0.9586" stop-color="rgb(1,1,1)"/>
<stop offset="0.9721" stop-color="rgb(1,1,1)"/>
<stop offset="0.9856" stop-color="rgb(0,0,0)"/>
<stop offset="0.9991" stop-color="rgb(0,0,0)"/>
</linearGradient>
<linearGradient id="vg5_1" gradientUnits="userSpaceOnUse" x1="0" y1="215.2" x2="0" y2="326.3">
<stop offset="0.0000" stop-color="rgb(45,45,45)"/>
<stop offset="0.0135" stop-color="rgb(50,50,50)"/>
<stop offset="0.0270" stop-color="rgb(54,54,54)"/>
<stop offset="0.0405" stop-color="rgb(59,59,59)"/>
<stop offset="0.0540" stop-color="rgb(64,64,64)"/>
<stop offset="0.0675" stop-color="rgb(70,70,70)"/>
<stop offset="0.0810" stop-color="rgb(76,76,76)"/>
<stop offset="0.0945" stop-color="rgb(82,82,82)"/>
<stop offset="0.1080" stop-color="rgb(88,88,88)"/>
<stop offset="0.1215" stop-color="rgb(94,94,94)"/>
<stop offset="0.1350" stop-color="rgb(101,101,101)"/>
<stop offset="0.1485" stop-color="rgb(108,108,108)"/>
<stop offset="0.1620" stop-color="rgb(115,115,115)"/>
<stop offset="0.1755" stop-color="rgb(123,123,123)"/>
<stop offset="0.1890" stop-color="rgb(130,130,130)"/>
<stop offset="0.2025" stop-color="rgb(138,138,138)"/>
<stop offset="0.2160" stop-color="rgb(145,145,145)"/>
<stop offset="0.2295" stop-color="rgb(153,153,153)"/>
<stop offset="0.2430" stop-color="rgb(161,161,161)"/>
<stop offset="0.2565" stop-color="rgb(169,169,169)"/>
<stop offset="0.2700" stop-color="rgb(176,176,176)"/>
<stop offset="0.2835" stop-color="rgb(184,184,184)"/>
<stop offset="0.2970" stop-color="rgb(191,191,191)"/>
<stop offset="0.3105" stop-color="rgb(198,198,198)"/>
<stop offset="0.3240" stop-color="rgb(205,205,205)"/>
<stop offset="0.3375" stop-color="rgb(212,212,212)"/>
<stop offset="0.3510" stop-color="rgb(218,218,218)"/>
<stop offset="0.3645" stop-color="rgb(224,224,224)"/>
<stop offset="0.3780" stop-color="rgb(229,229,229)"/>
<stop offset="0.3915" stop-color="rgb(234,234,234)"/>
<stop offset="0.4050" stop-color="rgb(239,239,239)"/>
<stop offset="0.4185" stop-color="rgb(243,243,243)"/>
<stop offset="0.4320" stop-color="rgb(247,247,247)"/>
<stop offset="0.4455" stop-color="rgb(249,249,249)"/>
<stop offset="0.4590" stop-color="rgb(252,252,252)"/>
<stop offset="0.4725" stop-color="rgb(253,253,253)"/>
<stop offset="0.4860" stop-color="rgb(255,255,255)"/>
<stop offset="0.4995" stop-color="rgb(255,255,255)"/>
<stop offset="0.5131" stop-color="rgb(255,255,255)"/>
<stop offset="0.5266" stop-color="rgb(254,254,254)"/>
<stop offset="0.5401" stop-color="rgb(253,253,253)"/>
<stop offset="0.5536" stop-color="rgb(250,250,250)"/>
<stop offset="0.5671" stop-color="rgb(248,248,248)"/>
<stop offset="0.5806" stop-color="rgb(244,244,244)"/>
<stop offset="0.5941" stop-color="rgb(241,241,241)"/>
<stop offset="0.6076" stop-color="rgb(236,236,236)"/>
<stop offset="0.6211" stop-color="rgb(231,231,231)"/>
<stop offset="0.6346" stop-color="rgb(226,226,226)"/>
<stop offset="0.6481" stop-color="rgb(220,220,220)"/>
<stop offset="0.6616" stop-color="rgb(214,214,214)"/>
<stop offset="0.6751" stop-color="rgb(208,208,208)"/>
<stop offset="0.6886" stop-color="rgb(201,201,201)"/>
<stop offset="0.7021" stop-color="rgb(194,194,194)"/>
<stop offset="0.7156" stop-color="rgb(187,187,187)"/>
<stop offset="0.7291" stop-color="rgb(179,179,179)"/>
<stop offset="0.7426" stop-color="rgb(172,172,172)"/>
<stop offset="0.7561" stop-color="rgb(164,164,164)"/>
<stop offset="0.7696" stop-color="rgb(156,156,156)"/>
<stop offset="0.7831" stop-color="rgb(148,148,148)"/>
<stop offset="0.7966" stop-color="rgb(141,141,141)"/>
<stop offset="0.8101" stop-color="rgb(133,133,133)"/>
<stop offset="0.8236" stop-color="rgb(126,126,126)"/>
<stop offset="0.8371" stop-color="rgb(118,118,118)"/>
<stop offset="0.8506" stop-color="rgb(111,111,111)"/>
<stop offset="0.8641" stop-color="rgb(104,104,104)"/>
<stop offset="0.8776" stop-color="rgb(97,97,97)"/>
<stop offset="0.8911" stop-color="rgb(90,90,90)"/>
<stop offset="0.9046" stop-color="rgb(84,84,84)"/>
<stop offset="0.9181" stop-color="rgb(78,78,78)"/>
<stop offset="0.9316" stop-color="rgb(72,72,72)"/>
<stop offset="0.9451" stop-color="rgb(66,66,66)"/>
<stop offset="0.9586" stop-color="rgb(61,61,61)"/>
<stop offset="0.9721" stop-color="rgb(56,56,56)"/>
<stop offset="0.9856" stop-color="rgb(51,51,51)"/>
<stop offset="0.9991" stop-color="rgb(47,47,47)"/>
</linearGradient>
<linearGradient id="vg6_0" gradientUnits="userSpaceOnUse" x1="0" y1="215.2" x2="0" y2="326.3">
<stop offset="0.0000" stop-color="rgb(0,0,0)"/>
<stop offset="0.0135" stop-color="rgb(0,0,0)"/>
<stop offset="0.0270" stop-color="rgb(0,0,0)"/>
<stop offset="0.0405" stop-color="rgb(0,0,0)"/>
<stop offset="0.0540" stop-color="rgb(0,0,0)"/>
<stop offset="0.0675" stop-color="rgb(0,0,0)"/>
<stop offset="0.0810" stop-color="rgb(0,0,0)"/>
<stop offset="0.0945" stop-color="rgb(1,1,1)"/>
<stop offset="0.1080" stop-color="rgb(1,1,1)"/>
<stop offset="0.1215" stop-color="rgb(2,2,2)"/>
<stop offset="0.1350" stop-color="rgb(3,3,3)"/>
<stop offset="0.1485" stop-color="rgb(5,5,5)"/>
<stop offset="0.1620" stop-color="rgb(7,7,7)"/>
<stop offset="0.1755" stop-color="rgb(10,10,10)"/>
<stop offset="0.1890" stop-color="rgb(14,14,14)"/>
<stop offset="0.2025" stop-color="rgb(20,20,20)"/>
<stop offset="0.2160" stop-color="rgb(26,26,26)"/>
<stop offset="0.2295" stop-color="rgb(35,35,35)"/>
<stop offset="0.2430" stop-color="rgb(45,45,45)"/>
<stop offset="0.2565" stop-color="rgb(57,57,57)"/>
<stop offset="0.2700" stop-color="rgb(71,71,71)"/>
<stop offset="0.2835" stop-color="rgb(86,86,86)"/>
<stop offset="0.2970" stop-color="rgb(103,103,103)"/>
<stop offset="0.3105" stop-color="rgb(121,121,121)"/>
<stop offset="0.3240" stop-color="rgb(139,139,139)"/>
<stop offset="0.3375" stop-color="rgb(157,157,157)"/>
<stop offset="0.3510" stop-color="rgb(175,175,175)"/>
<stop offset="0.3645" stop-color="rgb(192,192,192)"/>
<stop offset="0.3780" stop-color="rgb(207,207,207)"/>
<stop offset="0.3915" stop-color="rgb(220,220,220)"/>
<stop offset="0.4050" stop-color="rgb(231,231,231)"/>
<stop offset="0.4185" stop-color="rgb(240,240,240)"/>
<stop offset="0.4320" stop-color="rgb(247,247,247)"/>
<stop offset="0.4455" stop-color="rgb(252,252,252)"/>
<stop offset="0.4590" stop-color="rgb(254,254,254)"/>
<stop offset="0.4725" stop-color="rgb(255,255,255)"/>
<stop offset="0.4860" stop-color="rgb(255,255,255)"/>
<stop offset="0.4995" stop-color="rgb(254,254,254)"/>
<stop offset="0.5131" stop-color="rgb(252,252,252)"/>
<stop offset="0.5266" stop-color="rgb(247,247,247)"/>
<stop offset="0.5401" stop-color="rgb(241,241,241)"/>
<stop offset="0.5536" stop-color="rgb(232,232,232)"/>
<stop offset="0.5671" stop-color="rgb(221,221,221)"/>
<stop offset="0.5806" stop-color="rgb(208,208,208)"/>
<stop offset="0.5941" stop-color="rgb(193,193,193)"/>
<stop offset="0.6076" stop-color="rgb(176,176,176)"/>
<stop offset="0.6211" stop-color="rgb(158,158,158)"/>
<stop offset="0.6346" stop-color="rgb(140,140,140)"/>
<stop offset="0.6481" stop-color="rgb(122,122,122)"/>
<stop offset="0.6616" stop-color="rgb(104,104,104)"/>
<stop offset="0.6751" stop-color="rgb(87,87,87)"/>
<stop offset="0.6886" stop-color="rgb(72,72,72)"/>
<stop offset="0.7021" stop-color="rgb(58,58,58)"/>
<stop offset="0.7156" stop-color="rgb(46,46,46)"/>
<stop offset="0.7291" stop-color="rgb(35,35,35)"/>
<stop offset="0.7426" stop-color="rgb(27,27,27)"/>
<stop offset="0.7561" stop-color="rgb(20,20,20)"/>
<stop offset="0.7696" stop-color="rgb(14,14,14)"/>
<stop offset="0.7831" stop-color="rgb(10,10,10)"/>
<stop offset="0.7966" stop-color="rgb(7,7,7)"/>
<stop offset="0.8101" stop-color="rgb(5,5,5)"/>
<stop offset="0.8236" stop-color="rgb(3,3,3)"/>
<stop offset="0.8371" stop-color="rgb(2,2,2)"/>
<stop offset="0.8506" stop-color="rgb(1,1,1)"/>
<stop offset="0.8641" stop-color="rgb(1,1,1)"/>
<stop offset="0.8776" stop-color="rgb(0,0,0)"/>
<stop offset="0.8911" stop-color="rgb(0,0,0)"/>
<stop offset="0.9046" stop-color="rgb(0,0,0)"/>
<stop offset="0.9181" stop-color="rgb(0,0,0)"/>
<stop offset="0.9316" stop-color="rgb(0,0,0)"/>
<stop offset="0.9451" stop-color="rgb(0,0,0)"/>
<stop offset="0.9586" stop-color="rgb(0,0,0)"/>
<stop offset="0.9721" stop-color="rgb(0,0,0)"/>
<stop offset="0.9856" stop-color="rgb(0,0,0)"/>
<stop offset="0.9991" stop-color="rgb(0,0,0)"/>
</linearGradient>
<linearGradient id="vg6_1" gradientUnits="userSpaceOnUse" x1="0" y1="215.2" x2="0" y2="326.3">
<stop offset="0.0000" stop-color="rgb(31,31,31)"/>
<stop offset="0.0135" stop-color="rgb(35,35,35)"/>
<stop offset="0.0270" stop-color="rgb(39,39,39)"/>
<stop offset="0.0405" stop-color="rgb(44,44,44)"/>
<stop offset="0.0540" stop-color="rgb(49,49,49)"/>
<stop offset="0.0675" stop-color="rgb(54,54,54)"/>
<stop offset="0.0810" stop-color="rgb(60,60,60)"/>
<stop offset="0.0945" stop-color="rgb(66,66,66)"/>
<stop offset="0.1080" stop-color="rgb(72,72,72)"/>
<stop offset="0.1215" stop-color="rgb(79,79,79)"/>
<stop offset="0.1350" stop-color="rgb(86,86,86)"/>
<stop offset="0.1485" stop-color="rgb(94,94,94)"/>
<stop offset="0.1620" stop-color="rgb(101,101,101)"/>
<stop offset="0.1755" stop-color="rgb(110,110,110)"/>
<stop offset="0.1890" stop-color="rgb(118,118,118)"/>
<stop offset="0.2025" stop-color="rgb(126,126,126)"/>
<stop offset="0.2160" stop-color="rgb(135,135,135)"/>
<stop offset="0.2295" stop-color="rgb(144,144,144)"/>
<stop offset="0.2430" stop-color="rgb(153,153,153)"/>
<stop offset="0.2565" stop-color="rgb(162,162,162)"/>
<stop offset="0.2700" stop-color="rgb(171,171,171)"/>
<stop offset="0.2835" stop-color="rgb(179,179,179)"/>
<stop offset="0.2970" stop-color="rgb(188,188,188)"/>
<stop offset="0.3105" stop-color="rgb(196,196,196)"/>
<stop offset="0.3240" stop-color="rgb(204,204,204)"/>
<stop offset="0.3375" stop-color="rgb(212,212,212)"/>
<stop offset="0.3510" stop-color="rgb(219,219,219)"/>
<stop offset="0.3645" stop-color="rgb(226,226,226)"/>
<stop offset="0.3780" stop-color="rgb(232,232,232)"/>
<stop offset="0.3915" stop-color="rgb(238,238,238)"/>
<stop offset="0.4050" stop-color="rgb(242,242,242)"/>
<stop offset="0.4185" stop-color="rgb(246,246,246)"/>
<stop offset="0.4320" stop-color="rgb(250,250,250)"/>
<stop offset="0.4455" stop-color="rgb(252,252,252)"/>
<stop offset="0.4590" stop-color="rgb(254,254,254)"/>
<stop offset="0.4725" stop-color="rgb(255,255,255)"/>
<stop offset="0.4860" stop-color="rgb(255,255,255)"/>
<stop offset="0.4995" stop-color="rgb(254,254,254)"/>
<stop offset="0.5131" stop-color="rgb(252,252,252)"/>
<stop offset="0.5266" stop-color="rgb(250,250,250)"/>
<stop offset="0.5401" stop-color="rgb(247,247,247)"/>
<stop offset="0.5536" stop-color="rgb(243,243,243)"/>
<stop offset="0.5671" stop-color="rgb(238,238,238)"/>
<stop offset="0.5806" stop-color="rgb(232,232,232)"/>
<stop offset="0.5941" stop-color="rgb(226,226,226)"/>
<stop offset="0.6076" stop-color="rgb(220,220,220)"/>
<stop offset="0.6211" stop-color="rgb(213,213,213)"/>
<stop offset="0.6346" stop-color="rgb(205,205,205)"/>
<stop offset="0.6481" stop-color="rgb(197,197,197)"/>
<stop offset="0.6616" stop-color="rgb(189,189,189)"/>
<stop offset="0.6751" stop-color="rgb(180,180,180)"/>
<stop offset="0.6886" stop-color="rgb(171,171,171)"/>
<stop offset="0.7021" stop-color="rgb(162,162,162)"/>
<stop offset="0.7156" stop-color="rgb(153,153,153)"/>
<stop offset="0.7291" stop-color="rgb(145,145,145)"/>
<stop offset="0.7426" stop-color="rgb(136,136,136)"/>
<stop offset="0.7561" stop-color="rgb(127,127,127)"/>
<stop offset="0.7696" stop-color="rgb(118,118,118)"/>
<stop offset="0.7831" stop-color="rgb(110,110,110)"/>
<stop offset="0.7966" stop-color="rgb(102,102,102)"/>
<stop offset="0.8101" stop-color="rgb(94,94,94)"/>
<stop offset="0.8236" stop-color="rgb(87,87,87)"/>
<stop offset="0.8371" stop-color="rgb(79,79,79)"/>
<stop offset="0.8506" stop-color="rgb(73,73,73)"/>
<stop offset="0.8641" stop-color="rgb(66,66,66)"/>
<stop offset="0.8776" stop-color="rgb(60,60,60)"/>
<stop offset="0.8911" stop-color="rgb(54,54,54)"/>
<stop offset="0.9046" stop-color="rgb(49,49,49)"/>
<stop offset="0.9181" stop-color="rgb(44,44,44)"/>
<stop offset="0.9316" stop-color="rgb(40,40,40)"/>
<stop offset="0.9451" stop-color="rgb(35,35,35)"/>
<stop offset="0.9586" stop-color="rgb(31,31,31)"/>
<stop offset="0.9721" stop-color="rgb(28,28,28)"/>
<stop offset="0.9856" stop-color="rgb(25,25,25)"/>
<stop offset="0.9991" stop-color="rgb(22,22,22)"/>
</linearGradient>
<clipPath id="clA"><rect x="39.4" y="15.6" width="286.0" height="200.8"/></clipPath>
<clipPath id="clI"><rect x="206.3" y="35.2" width="109.0" height="88.6"/></clipPath>
<clipPath id="clB1"><rect x="437.6" y="39.3" width="285.8" height="144.5"/></clipPath>
<clipPath id="clB2"><rect x="437.6" y="183.4" width="285.8" height="145.5"/></clipPath>
</defs>
<g filter="url(#cm)">
<g style="isolation:isolate">
<rect x="38.6" y="215.2" width="287.6" height="111.1" fill="url(#hg)"/>
<rect x="63.8" y="215.2" width="18" height="111.1" fill="url(#vg0_0)" style="mix-blend-mode:multiply"/>
<rect x="88.2" y="215.2" width="18" height="111.1" fill="url(#vg1_0)" style="mix-blend-mode:multiply"/>
<rect x="116.4" y="215.2" width="18" height="111.1" fill="url(#vg2_0)" style="mix-blend-mode:multiply"/>
<rect x="149.4" y="215.2" width="18" height="111.1" fill="url(#vg3_0)" style="mix-blend-mode:multiply"/>
<rect x="188.0" y="215.2" width="18" height="111.1" fill="url(#vg4_0)" style="mix-blend-mode:multiply"/>
<rect x="236.0" y="215.2" width="18" height="111.1" fill="url(#vg5_0)" style="mix-blend-mode:multiply"/>
<rect x="294.7" y="215.2" width="18" height="111.1" fill="url(#vg6_0)" style="mix-blend-mode:multiply"/>
</g>
<g style="mix-blend-mode:screen;mix-blend-mode:plus-lighter">
<rect x="38.6" y="215.2" width="287.6" height="111.1" fill="url(#hg2)"/>
<rect x="60.8" y="215.2" width="24" height="111.1" fill="url(#vg0_1)" style="mix-blend-mode:multiply"/>
<rect x="85.2" y="215.2" width="24" height="111.1" fill="url(#vg1_1)" style="mix-blend-mode:multiply"/>
<rect x="113.4" y="215.2" width="24" height="111.1" fill="url(#vg2_1)" style="mix-blend-mode:multiply"/>
<rect x="146.4" y="215.2" width="24" height="111.1" fill="url(#vg3_1)" style="mix-blend-mode:multiply"/>
<rect x="185.0" y="215.2" width="24" height="111.1" fill="url(#vg4_1)" style="mix-blend-mode:multiply"/>
<rect x="233.0" y="215.2" width="24" height="111.1" fill="url(#vg5_1)" style="mix-blend-mode:multiply"/>
<rect x="291.7" y="215.2" width="24" height="111.1" fill="url(#vg6_1)" style="mix-blend-mode:multiply"/>
</g>
</g>
<path d="M33.0 15.6 H326.2 V326.3" stroke="#000" stroke-width="1.6" fill="none" stroke-linejoin="round"/>
<path d="M38.6 15.6 V326.3 H326.2" stroke="#000" stroke-width="1.6" fill="none" stroke-linejoin="round"/>
<path d="M38.6 215.1 H326.2" stroke="#000" stroke-width="2" fill="none"/>
<path d="M33.0 215.2H38.6M326.2 215.2H331.5M33.0 175.3H38.6M326.2 175.3H331.5M33.0 135.4H38.6M326.2 135.4H331.5M33.0 95.4H38.6M326.2 95.4H331.5M33.0 55.5H38.6M326.2 55.5H331.5M33.0 15.6H38.6M326.2 15.6H331.5M71.5 15.6V10.0M71.5 215.2V220.5M71.5 326.3V331.8M117.6 15.6V10.0M117.6 215.2V220.5M117.6 326.3V331.8M163.7 15.6V10.0M163.7 215.2V220.5M163.7 326.3V331.8M209.8 15.6V10.0M209.8 215.2V220.5M209.8 326.3V331.8M255.9 15.6V10.0M255.9 215.2V220.5M255.9 326.3V331.8M302.0 15.6V10.0M302.0 215.2V220.5M302.0 326.3V331.8M33.0 240.3H38.6M33.0 271.1H38.6M33.0 302.0H38.6" stroke="#000" stroke-width="1.4"/>
<path d="M38.6 214.3 L39.1 214.3 L39.6 214.3 L40.1 214.3 L40.6 214.3 L41.1 214.3 L41.6 214.3 L42.1 214.3 L42.6 214.3 L43.1 214.3 L43.6 214.3 L44.1 214.3 L44.6 214.3 L45.1 214.3 L45.6 214.3 L46.1 214.3 L46.6 214.3 L47.1 214.3 L47.6 214.3 L48.1 214.3 L48.6 214.3 L49.1 214.3 L49.6 214.3 L50.1 214.3 L50.6 214.3 L51.1 214.3 L51.6 214.3 L52.1 214.3 L52.6 214.3 L53.1 214.3 L53.6 214.3 L54.1 214.3 L54.6 214.3 L55.1 214.3 L55.6 214.3 L56.1 214.3 L56.6 214.3 L57.1 214.3 L57.6 214.3 L58.1 214.3 L58.6 214.3 L59.1 214.3 L59.6 214.3 L60.1 214.3 L60.6 214.3 L61.1 214.3 L61.6 214.2 L62.1 214.2 L62.6 214.2 L63.1 214.2 L63.6 214.2 L64.1 214.2 L64.6 214.2 L65.1 214.2 L65.6 214.1 L66.1 214.1 L66.6 214.0 L67.1 213.8 L67.6 213.6 L68.1 213.2 L68.6 212.8 L69.1 212.2 L69.6 211.6 L70.1 210.8 L70.6 210.0 L71.1 209.1 L71.6 208.4 L72.1 207.8 L72.6 207.5 L73.1 207.5 L73.6 207.8 L74.1 208.3 L74.6 209.0 L75.1 209.8 L75.6 210.6 L76.1 211.4 L76.6 212.1 L77.1 212.7 L77.6 213.1 L78.1 213.5 L78.6 213.7 L79.1 213.9 L79.6 214.0 L80.1 214.0 L80.6 214.1 L81.1 214.1 L81.6 214.1 L82.1 214.1 L82.6 214.1 L83.1 214.1 L83.6 214.1 L84.1 214.1 L84.6 214.1 L85.1 214.1 L85.6 214.0 L86.1 214.0 L86.6 214.0 L87.1 214.0 L87.6 214.0 L88.1 213.9 L88.6 213.9 L89.1 213.9 L89.6 213.8 L90.1 213.6 L90.6 213.3 L91.1 212.8 L91.6 212.0 L92.1 210.7 L92.6 208.8 L93.1 205.9 L93.6 202.1 L94.1 197.1 L94.6 191.1 L95.1 184.4 L95.6 177.4 L96.1 171.0 L96.6 165.8 L97.1 162.6 L97.6 161.8 L98.1 163.6 L98.6 167.7 L99.1 173.4 L99.6 180.1 L100.1 187.0 L100.6 193.5 L101.1 199.1 L101.6 203.6 L102.1 207.0 L102.6 209.5 L103.1 211.1 L103.6 212.2 L104.1 212.8 L104.6 213.2 L105.1 213.4 L105.6 213.5 L106.1 213.5 L106.6 213.6 L107.1 213.6 L107.6 213.6 L108.1 213.5 L108.6 213.5 L109.1 213.5 L109.6 213.5 L110.1 213.4 L110.6 213.4 L111.1 213.4 L111.6 213.3 L112.1 213.3 L112.6 213.2 L113.1 213.1 L113.6 213.1 L114.1 213.0 L114.6 212.8 L115.1 212.7 L115.6 212.5 L116.1 212.1 L116.6 211.7 L117.1 211.0 L117.6 209.9 L118.1 208.4 L118.6 206.2 L119.1 203.1 L119.6 198.8 L120.1 193.1 L120.6 185.7 L121.1 176.6 L121.6 165.6 L122.1 153.0 L122.6 139.1 L123.1 124.6 L123.6 110.2 L124.1 96.9 L124.6 85.8 L125.1 77.8 L125.6 73.8 L126.1 74.2 L126.6 78.9 L127.1 87.5 L127.6 99.0 L128.1 112.6 L128.6 127.0 L129.1 141.5 L129.6 155.2 L130.1 167.5 L130.6 178.1 L131.1 186.9 L131.6 193.9 L132.1 199.4 L132.6 203.4 L133.1 206.3 L133.6 208.3 L134.1 209.7 L134.6 210.7 L135.1 211.3 L135.6 211.7 L136.1 211.9 L136.6 212.1 L137.1 212.2 L137.6 212.3 L138.1 212.3 L138.6 212.4 L139.1 212.4 L139.6 212.4 L140.1 212.4 L140.6 212.4 L141.1 212.3 L141.6 212.3 L142.1 212.3 L142.6 212.2 L143.1 212.1 L143.6 212.1 L144.1 212.0 L144.6 211.9 L145.1 211.7 L145.6 211.6 L146.1 211.4 L146.6 211.2 L147.1 210.9 L147.6 210.6 L148.1 210.1 L148.6 209.5 L149.1 208.6 L149.6 207.5 L150.1 206.0 L150.6 203.9 L151.1 201.1 L151.6 197.5 L152.1 192.9 L152.6 187.2 L153.1 180.1 L153.6 171.7 L154.1 161.9 L154.6 150.8 L155.1 138.7 L155.6 125.9 L156.1 112.8 L156.6 100.0 L157.1 88.3 L157.6 78.2 L158.1 70.6 L158.6 66.1 L159.1 64.9 L159.6 67.2 L160.1 72.8 L160.6 81.1 L161.1 91.7 L161.6 103.6 L162.1 116.3 L162.6 129.2 L163.1 141.5 L163.6 153.0 L164.1 163.4 L164.6 172.5 L165.1 180.2 L165.6 186.7 L166.1 191.9 L166.6 196.1 L167.1 199.3 L167.6 201.8 L168.1 203.8 L168.6 205.3 L169.1 206.5 L169.6 207.4 L170.1 208.2 L170.6 208.8 L171.1 209.3 L171.6 209.8 L172.1 210.2 L172.6 210.6 L173.1 210.9 L173.6 211.2 L174.1 211.5 L174.6 211.8 L175.1 212.0 L175.6 212.2 L176.1 212.3 L176.6 212.5 L177.1 212.6 L177.6 212.7 L178.1 212.8 L178.6 212.9 L179.1 213.0 L179.6 213.0 L180.1 213.1 L180.6 213.1 L181.1 213.2 L181.6 213.2 L182.1 213.2 L182.6 213.2 L183.1 213.2 L183.6 213.1 L184.1 212.9 L184.6 212.7 L185.1 212.2 L185.6 211.6 L186.1 210.9 L186.6 210.0 L187.1 209.2 L187.6 208.5 L188.1 208.0 L188.6 207.9 L189.1 208.1 L189.6 208.5 L190.1 209.0 L190.6 209.3 L191.1 209.2 L191.6 208.5 L192.1 206.9 L192.6 204.3 L193.1 200.3 L193.6 195.0 L194.1 188.2 L194.6 180.0 L195.1 170.8 L195.6 161.1 L196.1 151.6 L196.6 143.2 L197.1 136.9 L197.6 133.4 L198.1 133.2 L198.6 136.2 L199.1 142.0 L199.6 149.6 L200.1 158.3 L200.6 166.9 L201.1 175.0 L201.6 182.0 L202.1 187.6 L202.6 191.8 L203.1 194.7 L203.6 196.7 L204.1 197.9 L204.6 198.7 L205.1 199.1 L205.6 199.5 L206.1 199.9 L206.6 200.5 L207.1 201.1 L207.6 201.9 L208.1 202.8 L208.6 203.8 L209.1 204.8 L209.6 205.9 L210.1 206.9 L210.6 208.0 L211.1 208.9 L211.6 209.8 L212.1 210.6 L212.6 211.3 L213.1 211.8 L213.6 212.3 L214.1 212.7 L214.6 213.0 L215.1 213.3 L215.6 213.5 L216.1 213.7 L216.6 213.8 L217.1 213.9 L217.6 213.9 L218.1 214.0 L218.6 214.0 L219.1 214.0 L219.6 214.0 L220.1 214.1 L220.6 214.1 L221.1 214.1 L221.6 214.1 L222.1 214.1 L222.6 214.1 L223.1 214.1 L223.6 214.1 L224.1 214.1 L224.6 214.1 L225.1 214.1 L225.6 214.1 L226.1 214.1 L226.6 214.1 L227.1 214.1 L227.6 214.1 L228.1 214.1 L228.6 214.1 L229.1 214.1 L229.6 214.1 L230.1 214.1 L230.6 214.1 L231.1 214.1 L231.6 214.1 L232.1 214.1 L232.6 214.1 L233.1 214.1 L233.6 214.1 L234.1 214.0 L234.6 214.0 L235.1 214.0 L235.6 214.0 L236.1 213.9 L236.6 213.9 L237.1 213.8 L237.6 213.7 L238.1 213.5 L238.6 213.2 L239.1 212.7 L239.6 212.0 L240.1 211.0 L240.6 209.5 L241.1 207.6 L241.6 205.1 L242.1 202.0 L242.6 198.6 L243.1 194.8 L243.6 191.1 L244.1 187.6 L244.6 184.8 L245.1 182.9 L245.6 182.4 L246.1 183.1 L246.6 185.0 L247.1 187.9 L247.6 191.5 L248.1 195.2 L248.6 199.0 L249.1 202.4 L249.6 205.4 L250.1 207.8 L250.6 209.7 L251.1 211.1 L251.6 212.1 L252.1 212.8 L252.6 213.3 L253.1 213.6 L253.6 213.8 L254.1 213.9 L254.6 214.0 L255.1 214.0 L255.6 214.0 L256.1 214.1 L256.6 214.1 L257.1 214.1 L257.6 214.1 L258.1 214.1 L258.6 214.2 L259.1 214.2 L259.6 214.2 L260.1 214.2 L260.6 214.2 L261.1 214.2 L261.6 214.2 L262.1 214.2 L262.6 214.2 L263.1 214.2 L263.6 214.2 L264.1 214.2 L264.6 214.3 L265.1 214.3 L265.6 214.3 L266.1 214.3 L266.6 214.3 L267.1 214.3 L267.6 214.3 L268.1 214.3 L268.6 214.3 L269.1 214.3 L269.6 214.3 L270.1 214.3 L270.6 214.3 L271.1 214.3 L271.6 214.3 L272.1 214.3 L272.6 214.3 L273.1 214.3 L273.6 214.3 L274.1 214.3 L274.6 214.3 L275.1 214.3 L275.6 214.3 L276.1 214.3 L276.6 214.3 L277.1 214.3 L277.6 214.3 L278.1 214.3 L278.6 214.3 L279.1 214.3 L279.6 214.3 L280.1 214.3 L280.6 214.3 L281.1 214.3 L281.6 214.3 L282.1 214.3 L282.6 214.3 L283.1 214.3 L283.6 214.3 L284.1 214.3 L284.6 214.3 L285.1 214.3 L285.6 214.3 L286.1 214.3 L286.6 214.3 L287.1 214.3 L287.6 214.3 L288.1 214.3 L288.6 214.3 L289.1 214.3 L289.6 214.3 L290.1 214.3 L290.6 214.3 L291.1 214.3 L291.6 214.3 L292.1 214.3 L292.6 214.3 L293.1 214.3 L293.6 214.3 L294.1 214.3 L294.6 214.3 L295.1 214.3 L295.6 214.3 L296.1 214.3 L296.6 214.2 L297.1 214.2 L297.6 214.1 L298.1 214.0 L298.6 213.9 L299.1 213.7 L299.6 213.4 L300.1 213.1 L300.6 212.6 L301.1 212.1 L301.6 211.5 L302.1 210.9 L302.6 210.3 L303.1 209.8 L303.6 209.4 L304.1 209.2 L304.6 209.2 L305.1 209.4 L305.6 209.8 L306.1 210.4 L306.6 211.0 L307.1 211.6 L307.6 212.2 L308.1 212.7 L308.6 213.1 L309.1 213.5 L309.6 213.7 L310.1 213.9 L310.6 214.1 L311.1 214.2 L311.6 214.2 L312.1 214.3 L312.6 214.3 L313.1 214.3 L313.6 214.3 L314.1 214.3 L314.6 214.3 L315.1 214.3 L315.6 214.3 L316.1 214.3 L316.6 214.3 L317.1 214.3 L317.6 214.3 L318.1 214.3 L318.6 214.3 L319.1 214.3 L319.6 214.3 L320.1 214.4 L320.6 214.4 L321.1 214.4 L321.6 214.4 L322.1 214.4 L322.6 214.4 L323.1 214.4 L323.6 214.4 L324.1 214.4 L324.6 214.4 L325.1 214.4 L325.6 214.4 L326.1 214.4 L326.6 214.4" fill="none" stroke="#1d639b" stroke-width="1.9" stroke-linejoin="round" clip-path="url(#clA)"/>
<text x="334.8" y="219.6" font-size="12.60" text-anchor="start" >0</text>
<text x="334.8" y="179.7" font-size="12.60" text-anchor="start" >1</text>
<text x="334.8" y="139.8" font-size="12.60" text-anchor="start" >2</text>
<text x="334.8" y="99.8" font-size="12.60" text-anchor="start" >3</text>
<text x="334.8" y="59.9" font-size="12.60" text-anchor="start" >4</text>
<text x="334.8" y="20.0" font-size="12.60" text-anchor="start" >5</text>
<text x="71.5" y="347.4" font-size="12.60" text-anchor="middle" >35</text>
<text x="469.6" y="347.6" font-size="12.60" text-anchor="middle" >35</text>
<text x="117.6" y="347.4" font-size="12.60" text-anchor="middle" >40</text>
<text x="515.7" y="347.6" font-size="12.60" text-anchor="middle" >40</text>
<text x="163.7" y="347.4" font-size="12.60" text-anchor="middle" >45</text>
<text x="561.8" y="347.6" font-size="12.60" text-anchor="middle" >45</text>
<text x="209.8" y="347.4" font-size="12.60" text-anchor="middle" >50</text>
<text x="607.9" y="347.6" font-size="12.60" text-anchor="middle" >50</text>
<text x="255.9" y="347.4" font-size="12.60" text-anchor="middle" >55</text>
<text x="654.0" y="347.6" font-size="12.60" text-anchor="middle" >55</text>
<text x="302.0" y="347.4" font-size="12.60" text-anchor="middle" >60</text>
<text x="700.1" y="347.6" font-size="12.60" text-anchor="middle" >60</text>
<text x="182.9" y="367.6" font-size="12.60" text-anchor="middle" >Wavelength (nm)</text>
<text x="580.9" y="368.2" font-size="12.60" text-anchor="middle" >Wavelength (nm)</text>
<text x="30.8" y="244.9" font-size="12.60" text-anchor="end" >5</text>
<text x="30.8" y="275.7" font-size="12.60" text-anchor="end" >0</text>
<text x="30.8" y="306.6" font-size="12.60" text-anchor="end" >-5</text>
<text transform="translate(9.4 270.9) rotate(-90)" font-size="12.4" text-anchor="middle">Divergence (mrad)</text>
<text transform="translate(103.5 92.1) rotate(-90)" font-size="12.60" text-anchor="middle">Signal (a.u.)</text>
<text transform="translate(362.9 115.3) rotate(-90)" font-size="12.60" text-anchor="middle">Signal (a.u.)</text>
<text transform="translate(404.0 110.6) rotate(-90)" font-size="12.60" text-anchor="middle">Signal (a.u.)</text>
<text transform="translate(403.8 254.9) rotate(-90)" font-size="12.60" text-anchor="middle">Signal (a.u.)</text>
<text x="69.0" y="321.6" font-size="12.60" text-anchor="middle" >H29</text>
<text x="94.9" y="321.6" font-size="12.60" text-anchor="middle" >H27</text>
<text x="123.6" y="321.6" font-size="12.60" text-anchor="middle" >H25</text>
<text x="159.7" y="321.6" font-size="12.60" text-anchor="middle" >H23</text>
<text x="196.6" y="321.6" font-size="12.60" text-anchor="middle" >H21</text>
<text x="243.0" y="321.6" font-size="12.60" text-anchor="middle" >H19</text>
<text x="303.5" y="321.6" font-size="12.60" text-anchor="middle" >H17</text>
<text x="465.4" y="28.7" font-size="12.60" text-anchor="middle" >H29</text>
<text x="491.4" y="28.7" font-size="12.60" text-anchor="middle" >H27</text>
<text x="523.4" y="28.7" font-size="12.60" text-anchor="middle" >H25</text>
<text x="557.6" y="28.7" font-size="12.60" text-anchor="middle" >H23</text>
<text x="597.6" y="28.7" font-size="12.60" text-anchor="middle" >H21</text>
<text x="646.6" y="28.7" font-size="12.60" text-anchor="middle" >H19</text>
<text x="710.0" y="28.7" font-size="12.60" text-anchor="middle" >H17</text>
<text x="2.8" y="12.1" font-size="16.2" font-weight="bold">a</text>
<text x="396.3" y="12.4" font-size="16.0" font-weight="bold">b</text>
<rect x="48.1" y="30.3" width="13.8" height="122.9" fill="url(#cb)" stroke="#000" stroke-width="1.6"/>
<text x="69.0" y="156.2" font-size="12.60" text-anchor="start" >0.0</text>
<text x="69.0" y="132.2" font-size="12.60" text-anchor="start" >0.2</text>
<text x="69.0" y="108.2" font-size="12.60" text-anchor="start" >0.4</text>
<text x="69.0" y="84.1" font-size="12.60" text-anchor="start" >0.6</text>
<text x="69.0" y="60.1" font-size="12.60" text-anchor="start" >0.8</text>
<text x="69.0" y="36.1" font-size="12.60" text-anchor="start" >1.0</text>
<path d="M61.9 151.8H66.8M61.9 127.8H66.8M61.9 103.8H66.8M61.9 79.7H66.8M61.9 55.7H66.8M61.9 31.7H66.8" stroke="#000" stroke-width="1.4"/>
<rect x="205.6" y="34.5" width="110.5" height="88.4" fill="#fff" stroke="none"/>
<rect x="205.6" y="34.5" width="110.5" height="88.4" fill="none" stroke="#000" stroke-width="1.5" stroke-linejoin="round"/>
<path d="M203.7 122.9 L204.7 122.9 L205.8 122.9 L206.9 122.9 L207.9 122.9 L209.0 122.9 L210.1 122.9 L211.1 122.9 L212.2 122.9 L213.3 122.9 L214.3 122.9 L215.4 122.9 L216.5 122.9 L217.5 122.9 L218.6 122.9 L219.7 122.9 L220.7 122.8 L221.8 122.8 L222.9 122.8 L224.0 122.8 L225.0 122.7 L226.1 122.0 L227.2 120.2 L227.9 119.6 L228.2 119.7 L229.3 121.4 L230.4 122.5 L231.4 122.7 L232.5 122.7 L233.6 122.6 L234.6 122.6 L235.7 122.2 L236.8 119.7 L237.8 110.2 L238.9 99.7 L239.1 99.4 L240.0 105.8 L241.0 117.5 L242.1 121.8 L243.2 122.4 L244.2 122.5 L245.3 122.5 L246.4 122.4 L247.4 122.1 L248.5 120.4 L249.6 113.5 L250.7 97.9 L251.7 82.7 L252.1 81.4 L252.8 86.4 L253.9 103.9 L254.9 116.7 L256.0 121.3 L257.1 122.3 L258.1 122.4 L259.2 122.4 L260.3 122.4 L261.3 122.3 L262.4 122.2 L263.5 121.7 L264.5 118.2 L265.6 99.9 L266.7 71.6 L267.0 68.9 L267.7 78.4 L268.8 100.9 L269.9 109.4 L270.9 114.6 L272.0 119.4 L273.1 121.7 L274.1 122.4 L275.2 122.5 L276.3 122.5 L277.4 122.5 L278.4 122.4 L279.5 122.3 L280.6 122.2 L281.6 121.7 L282.7 118.7 L283.8 101.5 L284.8 67.8 L285.4 60.6 L285.9 67.8 L287.0 101.4 L288.0 117.7 L289.1 118.5 L290.2 118.3 L291.2 120.5 L292.3 121.8 L293.4 121.9 L294.4 121.7 L295.5 121.4 L296.6 121.1 L297.6 120.9 L298.7 120.7 L299.8 120.6 L300.8 120.6 L301.9 120.7 L303.0 120.7 L304.1 120.6 L305.1 118.9 L306.2 106.1 L307.3 70.7 L308.1 51.4 L308.3 52.4 L309.4 84.4 L310.5 113.3 L311.5 120.6 L312.6 121.1 L313.7 120.5 L314.7 119.6 L315.8 119.0 L316.9 119.3 L317.9 120.2 L319.0 121.3" fill="none" stroke="#1d639b" stroke-width="1.7" stroke-linejoin="round" clip-path="url(#clI)"/>
<text x="197.8" y="126.8" font-size="11.00" text-anchor="end" >0</text>
<text x="197.8" y="110.6" font-size="11.00" text-anchor="end" >1</text>
<text x="197.8" y="94.3" font-size="11.00" text-anchor="end" >2</text>
<text x="197.8" y="78.1" font-size="11.00" text-anchor="end" >3</text>
<text x="197.8" y="61.8" font-size="11.00" text-anchor="end" >4</text>
<text x="197.8" y="45.6" font-size="11.00" text-anchor="end" >5</text>
<text x="235.7" y="141.8" font-size="11.00" text-anchor="middle" >40</text>
<text x="271.3" y="141.8" font-size="11.00" text-anchor="middle" >50</text>
<text x="306.9" y="141.8" font-size="11.00" text-anchor="middle" >60</text>
<path d="M200.2 122.9H205.6M200.2 106.7H205.6M200.2 90.4H205.6M200.2 74.2H205.6M200.2 57.9H205.6M200.2 41.7H205.6M217.9 122.9V126.1M253.5 122.9V126.1M289.1 122.9V126.1M235.7 122.9V128.1M271.3 122.9V128.1M306.9 122.9V128.1" stroke="#000" stroke-width="1.3"/>
<text x="261.0" y="156.6" font-size="11.00" text-anchor="middle" >Wavelength (nm)</text>
<text transform="translate(180.0 78.5) rotate(-90)" font-size="11.00" text-anchor="middle">Photons (10^11/(s*nm))</text>
<text x="226.2" y="114.2" font-size="11.00" text-anchor="middle" >27</text>
<text x="237.6" y="95.6" font-size="11.00" text-anchor="middle" >25</text>
<text x="249.9" y="78.5" font-size="11.00" text-anchor="middle" >23</text>
<text x="266.6" y="65.4" font-size="11.00" text-anchor="middle" >21</text>
<text x="284.6" y="56.4" font-size="11.00" text-anchor="middle" >19</text>
<text x="308.3" y="46.6" font-size="11.00" text-anchor="middle" >17</text>
<rect x="436.8" y="39.3" width="287.4" height="287.4" fill="none" stroke="#000" stroke-width="1.6" fill="none" stroke-linejoin="round"/>
<path d="M436.8 182.6H724.2" stroke="#000" stroke-width="1.6" fill="none" stroke-linejoin="round"/>
<text x="428.8" y="186.8" font-size="12.60" text-anchor="end" >0</text>
<text x="428.8" y="163.4" font-size="12.60" text-anchor="end" >5</text>
<text x="428.8" y="140.0" font-size="12.60" text-anchor="end" >10</text>
<text x="428.8" y="116.6" font-size="12.60" text-anchor="end" >15</text>
<text x="428.8" y="93.2" font-size="12.60" text-anchor="end" >20</text>
<text x="428.8" y="69.8" font-size="12.60" text-anchor="end" >25</text>
<text x="428.8" y="46.4" font-size="12.60" text-anchor="end" >30</text>
<text x="428.8" y="331.3" font-size="12.60" text-anchor="end" >0</text>
<text x="428.8" y="302.2" font-size="12.60" text-anchor="end" >1</text>
<text x="428.8" y="273.0" font-size="12.60" text-anchor="end" >2</text>
<text x="428.8" y="243.8" font-size="12.60" text-anchor="end" >3</text>
<text x="428.8" y="214.7" font-size="12.60" text-anchor="end" >4</text>
<path d="M431.1 182.6H436.8M431.1 159.2H436.8M431.1 135.8H436.8M431.1 112.4H436.8M431.1 89.0H436.8M431.1 65.6H436.8M431.1 42.2H436.8M431.1 326.7H436.8M431.1 297.6H436.8M431.1 268.4H436.8M431.1 239.2H436.8M431.1 210.1H436.8M469.6 182.6V188.2M469.6 326.7V331.9M515.7 182.6V188.2M515.7 326.7V331.9M561.8 182.6V188.2M561.8 326.7V331.9M607.9 182.6V188.2M607.9 326.7V331.9M654.0 182.6V188.2M654.0 326.7V331.9M700.1 182.6V188.2M700.1 326.7V331.9" stroke="#000" stroke-width="1.4"/>
<path d="M436.8 182.6 L437.3 182.6 L437.8 182.6 L438.3 182.6 L438.8 182.6 L439.3 182.6 L439.8 182.6 L440.3 182.6 L440.8 182.6 L441.3 182.6 L441.8 182.6 L442.3 182.6 L442.8 182.6 L443.3 182.6 L443.8 182.6 L444.3 182.6 L444.8 182.6 L445.3 182.6 L445.8 182.6 L446.3 182.6 L446.8 182.6 L447.3 182.6 L447.8 182.6 L448.3 182.6 L448.8 182.6 L449.3 182.6 L449.8 182.6 L450.3 182.6 L450.8 182.6 L451.3 182.6 L451.8 182.6 L452.3 182.6 L452.8 182.6 L453.3 182.6 L453.8 182.6 L454.3 182.6 L454.8 182.6 L455.3 182.6 L455.8 182.6 L456.3 182.6 L456.8 182.6 L457.3 182.6 L457.8 182.6 L458.3 182.6 L458.8 182.6 L459.3 182.6 L459.8 182.6 L460.3 182.6 L460.8 182.6 L461.3 182.6 L461.8 182.6 L462.3 182.5 L462.8 182.5 L463.3 182.5 L463.8 182.5 L464.3 182.5 L464.8 182.4 L465.3 182.3 L465.8 182.1 L466.3 181.8 L466.8 181.5 L467.3 181.1 L467.8 180.6 L468.3 180.0 L468.8 179.4 L469.3 178.8 L469.8 178.3 L470.3 178.0 L470.8 177.9 L471.3 178.0 L471.8 178.3 L472.3 178.8 L472.8 179.3 L473.3 180.0 L473.8 180.5 L474.3 181.1 L474.8 181.5 L475.3 181.8 L475.8 182.1 L476.3 182.2 L476.8 182.4 L477.3 182.4 L477.8 182.5 L478.3 182.5 L478.8 182.5 L479.3 182.5 L479.8 182.5 L480.3 182.5 L480.8 182.5 L481.3 182.5 L481.8 182.5 L482.3 182.5 L482.8 182.5 L483.3 182.5 L483.8 182.5 L484.3 182.5 L484.8 182.5 L485.3 182.4 L485.8 182.4 L486.3 182.4 L486.8 182.4 L487.3 182.3 L487.8 182.2 L488.3 182.1 L488.8 181.8 L489.3 181.4 L489.8 180.6 L490.3 179.5 L490.8 177.7 L491.3 175.3 L491.8 172.1 L492.3 168.0 L492.8 163.3 L493.3 158.1 L493.8 152.9 L494.3 148.3 L494.8 144.7 L495.3 142.6 L495.8 142.4 L496.3 144.1 L496.8 147.4 L497.3 151.9 L497.8 157.0 L498.3 162.2 L498.8 167.1 L499.3 171.3 L499.8 174.7 L500.3 177.3 L500.8 179.1 L501.3 180.4 L501.8 181.2 L502.3 181.7 L502.8 182.0 L503.3 182.2 L503.8 182.3 L504.3 182.3 L504.8 182.3 L505.3 182.3 L505.8 182.4 L506.3 182.4 L506.8 182.4 L507.3 182.4 L507.8 182.4 L508.3 182.4 L508.8 182.3 L509.3 182.3 L509.8 182.3 L510.3 182.3 L510.8 182.3 L511.3 182.3 L511.8 182.3 L512.3 182.3 L512.8 182.2 L513.3 182.2 L513.8 182.2 L514.3 182.1 L514.8 182.0 L515.3 181.9 L515.8 181.7 L516.3 181.3 L516.8 180.6 L517.3 179.4 L517.8 177.4 L518.3 174.2 L518.8 169.5 L519.3 162.8 L519.8 153.7 L520.3 142.1 L520.8 128.3 L521.3 113.0 L521.8 97.4 L522.3 82.9 L522.8 71.2 L523.3 63.8 L523.8 61.9 L524.3 65.6 L524.8 74.4 L525.3 87.2 L525.8 102.3 L526.3 117.9 L526.8 132.9 L527.3 146.0 L527.8 156.8 L528.3 165.1 L528.8 171.2 L529.3 175.4 L529.8 178.1 L530.3 179.8 L530.8 180.8 L531.3 181.4 L531.8 181.8 L532.3 181.9 L532.8 182.0 L533.3 182.1 L533.8 182.2 L534.3 182.2 L534.8 182.2 L535.3 182.2 L535.8 182.2 L536.3 182.3 L536.8 182.3 L537.3 182.3 L537.8 182.3 L538.3 182.3 L538.8 182.3 L539.3 182.3 L539.8 182.3 L540.3 182.3 L540.8 182.3 L541.3 182.3 L541.8 182.3 L542.3 182.3 L542.8 182.3 L543.3 182.3 L543.8 182.2 L544.3 182.2 L544.8 182.2 L545.3 182.2 L545.8 182.2 L546.3 182.1 L546.8 182.1 L547.3 182.1 L547.8 182.0 L548.3 181.9 L548.8 181.7 L549.3 181.5 L549.8 181.0 L550.3 180.1 L550.8 178.5 L551.3 176.0 L551.8 172.1 L552.3 166.1 L552.8 157.7 L553.3 146.4 L553.8 132.0 L554.3 115.0 L554.8 96.2 L555.3 77.0 L555.8 59.3 L556.3 45.2 L556.8 36.5 L557.3 34.4 L557.8 39.2 L558.3 50.1 L558.8 65.8 L559.3 84.0 L559.8 103.0 L560.3 120.9 L560.8 136.5 L561.3 149.3 L561.8 159.2 L562.3 166.3 L562.8 171.2 L563.3 174.4 L563.8 176.4 L564.3 177.6 L564.8 178.4 L565.3 178.9 L565.8 179.3 L566.3 179.6 L566.8 179.9 L567.3 180.1 L567.8 180.4 L568.3 180.6 L568.8 180.9 L569.3 181.1 L569.8 181.3 L570.3 181.5 L570.8 181.6 L571.3 181.8 L571.8 181.9 L572.3 182.0 L572.8 182.1 L573.3 182.1 L573.8 182.2 L574.3 182.2 L574.8 182.3 L575.3 182.3 L575.8 182.3 L576.3 182.3 L576.8 182.4 L577.3 182.4 L577.8 182.4 L578.3 182.4 L578.8 182.4 L579.3 182.4 L579.8 182.4 L580.3 182.4 L580.8 182.3 L581.3 182.3 L581.8 182.3 L582.3 182.2 L582.8 182.0 L583.3 181.8 L583.8 181.5 L584.3 181.1 L584.8 180.6 L585.3 180.2 L585.8 179.7 L586.3 179.5 L586.8 179.3 L587.3 179.3 L587.8 179.4 L588.3 179.5 L588.8 179.3 L589.3 178.6 L589.8 177.1 L590.3 174.5 L590.8 170.3 L591.3 164.2 L591.8 155.9 L592.3 145.3 L592.8 132.6 L593.3 118.5 L593.8 104.0 L594.3 90.4 L594.8 79.3 L595.3 72.1 L595.8 69.8 L596.3 72.6 L596.8 80.1 L597.3 91.1 L597.8 104.1 L598.3 117.8 L598.8 130.7 L599.3 142.0 L599.8 151.2 L600.3 158.3 L600.8 163.3 L601.3 166.7 L601.8 168.9 L602.3 170.2 L602.8 171.1 L603.3 171.7 L603.8 172.2 L604.3 172.7 L604.8 173.3 L605.3 173.9 L605.8 174.6 L606.3 175.3 L606.8 176.0 L607.3 176.8 L607.8 177.5 L608.3 178.2 L608.8 178.8 L609.3 179.4 L609.8 180.0 L610.3 180.4 L610.8 180.8 L611.3 181.2 L611.8 181.5 L612.3 181.7 L612.8 181.9 L613.3 182.0 L613.8 182.2 L614.3 182.2 L614.8 182.3 L615.3 182.4 L615.8 182.4 L616.3 182.4 L616.8 182.4 L617.3 182.5 L617.8 182.5 L618.3 182.5 L618.8 182.5 L619.3 182.5 L619.8 182.5 L620.3 182.5 L620.8 182.5 L621.3 182.5 L621.8 182.5 L622.3 182.5 L622.8 182.5 L623.3 182.5 L623.8 182.5 L624.3 182.5 L624.8 182.5 L625.3 182.5 L625.8 182.5 L626.3 182.5 L626.8 182.5 L627.3 182.5 L627.8 182.5 L628.3 182.5 L628.8 182.5 L629.3 182.5 L629.8 182.5 L630.3 182.5 L630.8 182.5 L631.3 182.4 L631.8 182.4 L632.3 182.4 L632.8 182.4 L633.3 182.4 L633.8 182.4 L634.3 182.4 L634.8 182.3 L635.3 182.3 L635.8 182.2 L636.3 182.1 L636.8 181.8 L637.3 181.4 L637.8 180.6 L638.3 179.4 L638.8 177.5 L639.3 174.7 L639.8 170.8 L640.3 165.6 L640.8 159.1 L641.3 151.6 L641.8 143.6 L642.3 135.5 L642.8 128.4 L643.3 123.1 L643.8 120.2 L644.3 120.3 L644.8 123.2 L645.3 128.6 L645.8 135.8 L646.3 143.8 L646.8 151.9 L647.3 159.3 L647.8 165.8 L648.3 170.9 L648.8 174.8 L649.3 177.6 L649.8 179.4 L650.3 180.7 L650.8 181.4 L651.3 181.8 L651.8 182.1 L652.3 182.2 L652.8 182.3 L653.3 182.4 L653.8 182.4 L654.3 182.4 L654.8 182.4 L655.3 182.4 L655.8 182.4 L656.3 182.5 L656.8 182.5 L657.3 182.5 L657.8 182.5 L658.3 182.5 L658.8 182.5 L659.3 182.5 L659.8 182.5 L660.3 182.5 L660.8 182.5 L661.3 182.5 L661.8 182.5 L662.3 182.5 L662.8 182.5 L663.3 182.5 L663.8 182.5 L664.3 182.5 L664.8 182.5 L665.3 182.5 L665.8 182.5 L666.3 182.5 L666.8 182.5 L667.3 182.5 L667.8 182.5 L668.3 182.6 L668.8 182.6 L669.3 182.6 L669.8 182.6 L670.3 182.6 L670.8 182.6 L671.3 182.6 L671.8 182.6 L672.3 182.6 L672.8 182.6 L673.3 182.6 L673.8 182.6 L674.3 182.6 L674.8 182.6 L675.3 182.6 L675.8 182.6 L676.3 182.6 L676.8 182.6 L677.3 182.6 L677.8 182.6 L678.3 182.6 L678.8 182.6 L679.3 182.6 L679.8 182.6 L680.3 182.6 L680.8 182.6 L681.3 182.6 L681.8 182.6 L682.3 182.6 L682.8 182.6 L683.3 182.6 L683.8 182.6 L684.3 182.6 L684.8 182.6 L685.3 182.6 L685.8 182.6 L686.3 182.6 L686.8 182.6 L687.3 182.6 L687.8 182.6 L688.3 182.6 L688.8 182.6 L689.3 182.6 L689.8 182.6 L690.3 182.6 L690.8 182.6 L691.3 182.5 L691.8 182.5 L692.3 182.5 L692.8 182.5 L693.3 182.5 L693.8 182.5 L694.3 182.5 L694.8 182.5 L695.3 182.5 L695.8 182.4 L696.3 182.3 L696.8 182.1 L697.3 181.8 L697.8 181.3 L698.3 180.6 L698.8 179.7 L699.3 178.3 L699.8 176.7 L700.3 174.7 L700.8 172.5 L701.3 170.4 L701.8 168.4 L702.3 166.8 L702.8 165.9 L703.3 165.8 L703.8 166.4 L704.3 167.8 L704.8 169.6 L705.3 171.7 L705.8 173.9 L706.3 176.0 L706.8 177.8 L707.3 179.2 L707.8 180.3 L708.3 181.1 L708.8 181.7 L709.3 182.0 L709.8 182.2 L710.3 182.4 L710.8 182.4 L711.3 182.5 L711.8 182.5 L712.3 182.5 L712.8 182.5 L713.3 182.5 L713.8 182.5 L714.3 182.6 L714.8 182.6 L715.3 182.6 L715.8 182.6 L716.3 182.6 L716.8 182.6 L717.3 182.6 L717.8 182.6 L718.3 182.6 L718.8 182.6 L719.3 182.6 L719.8 182.6 L720.3 182.6 L720.8 182.6 L721.3 182.6 L721.8 182.6 L722.3 182.6 L722.8 182.6 L723.3 182.6 L723.8 182.6 L724.3 182.6" fill="none" stroke="#e0101e" stroke-width="2" stroke-linejoin="round" clip-path="url(#clB1)"/>
<path d="M436.8 182.3 L437.3 182.4 L437.8 182.4 L438.3 182.6 L438.8 182.6 L439.3 182.6 L439.8 182.5 L440.3 182.5 L440.8 182.6 L441.3 182.5 L441.8 182.4 L442.3 182.3 L442.8 182.3 L443.3 182.3 L443.8 182.3 L444.3 182.5 L444.8 182.5 L445.3 182.6 L445.8 182.6 L446.3 182.6 L446.8 182.4 L447.3 182.5 L447.8 182.5 L448.3 182.4 L448.8 182.4 L449.3 182.5 L449.8 182.5 L450.3 182.5 L450.8 182.4 L451.3 182.3 L451.8 182.4 L452.3 182.4 L452.8 182.4 L453.3 182.6 L453.8 182.8 L454.3 182.7 L454.8 182.7 L455.3 182.6 L455.8 182.6 L456.3 182.5 L456.8 182.4 L457.3 182.6 L457.8 182.6 L458.3 182.6 L458.8 182.6 L459.3 182.6 L459.8 182.6 L460.3 182.6 L460.8 182.5 L461.3 182.4 L461.8 182.4 L462.3 182.2 L462.8 182.0 L463.3 182.1 L463.8 182.0 L464.3 182.1 L464.8 182.0 L465.3 181.9" fill="none" stroke="#000" stroke-width="1.8" stroke-linejoin="round" stroke-dasharray="3.5 1.0" clip-path="url(#clB1)"/>
<path d="M464.8 182.0 L465.3 181.9 L465.8 181.4 L466.3 180.8 L466.8 180.1 L467.3 179.2 L467.8 178.3 L468.3 177.5 L468.8 176.8 L469.3 176.2 L469.8 175.8 L470.3 175.5" fill="none" stroke="#000" stroke-width="1.8" stroke-linejoin="round" stroke-dasharray="3.2 3.0" clip-path="url(#clB1)"/>
<path d="M469.8 175.8 L470.3 175.5 L470.8 175.7" fill="none" stroke="#000" stroke-width="1.8" stroke-linejoin="round" stroke-dasharray="3.5 1.0" clip-path="url(#clB1)"/>
<path d="M470.3 175.5 L470.8 175.7 L471.3 176.1 L471.8 176.6 L472.3 177.3 L472.8 178.2 L473.3 179.0 L473.8 179.7 L474.3 180.4 L474.8 181.1 L475.3 181.4 L475.8 181.8 L476.3 182.1" fill="none" stroke="#000" stroke-width="1.8" stroke-linejoin="round" stroke-dasharray="3.2 3.0" clip-path="url(#clB1)"/>
<path d="M475.8 181.8 L476.3 182.1 L476.8 182.2 L477.3 182.2 L477.8 182.3 L478.3 182.2 L478.8 182.3 L479.3 182.4 L479.8 182.5 L480.3 182.5 L480.8 182.6 L481.3 182.6 L481.8 182.6 L482.3 182.5 L482.8 182.4 L483.3 182.4 L483.8 182.3 L484.3 182.3 L484.8 182.3 L485.3 182.1 L485.8 182.1 L486.3 182.1 L486.8 182.0 L487.3 181.8 L487.8 181.6" fill="none" stroke="#000" stroke-width="1.8" stroke-linejoin="round" stroke-dasharray="3.5 1.0" clip-path="url(#clB1)"/>
<path d="M487.3 181.8 L487.8 181.6 L488.3 181.2 L488.8 180.4 L489.3 179.4 L489.8 177.7 L490.3 175.4 L490.8 172.3 L491.3 168.2 L491.8 163.2 L492.3 157.5 L492.8 151.4 L493.3 145.3 L493.8 139.8 L494.3 135.6 L494.8 133.2 L495.3 132.8 L495.8 134.5 L496.3 138.2 L496.8 143.3 L497.3 149.2 L497.8 155.4 L498.3 161.2 L498.8 166.5 L499.3 170.9 L499.8 174.3 L500.3 177.0 L500.8 178.9 L501.3 180.1 L501.8 180.9 L502.3 181.4 L502.8 181.6" fill="none" stroke="#000" stroke-width="1.8" stroke-linejoin="round" stroke-dasharray="3.2 3.0" clip-path="url(#clB1)"/>
<path d="M502.3 181.4 L502.8 181.6 L503.3 181.8 L503.8 182.0 L504.3 182.1 L504.8 182.1 L505.3 182.3 L505.8 182.3 L506.3 182.3 L506.8 182.3 L507.3 182.2 L507.8 182.2 L508.3 182.1 L508.8 182.0 L509.3 182.0 L509.8 182.0 L510.3 182.0 L510.8 182.0 L511.3 182.0 L511.8 182.0 L512.3 182.0 L512.8 182.0 L513.3 181.9 L513.8 181.9 L514.3 181.7 L514.8 181.5" fill="none" stroke="#000" stroke-width="1.8" stroke-linejoin="round" stroke-dasharray="3.5 1.0" clip-path="url(#clB1)"/>
<path d="M514.3 181.7 L514.8 181.5 L515.3 181.1 L515.8 180.6 L516.3 179.5 L516.8 177.7 L517.3 175.1 L517.8 170.8 L518.3 164.8 L518.8 156.7 L519.3 145.9 L519.8 132.7 L520.3 117.4 L520.8 100.7 L521.3 83.7 L521.8 68.3 L522.3 55.8 L522.8 47.8 L523.3 45.5 L523.8 48.9 L524.3 57.7 L524.8 70.7 L525.3 86.5 L525.8 103.2 L526.3 119.7 L526.8 134.8 L527.3 147.7 L527.8 158.1 L528.3 166.1 L528.8 171.9 L529.3 175.7 L529.8 178.2 L530.3 179.7 L530.8 180.7 L531.3 181.3 L531.8 181.6 L532.3 181.9" fill="none" stroke="#000" stroke-width="1.8" stroke-linejoin="round" stroke-dasharray="3.2 3.0" clip-path="url(#clB1)"/>
<path d="M531.8 181.6 L532.3 181.9 L532.8 181.9 L533.3 182.0 L533.8 181.8 L534.3 181.8 L534.8 181.9 L535.3 181.9 L535.8 181.9 L536.3 182.0 L536.8 182.1 L537.3 182.1 L537.8 182.0 L538.3 181.9 L538.8 181.9 L539.3 181.9 L539.8 181.9 L540.3 182.0 L540.8 182.1 L541.3 182.0 L541.8 182.0 L542.3 181.9 L542.8 181.9 L543.3 181.9 L543.8 181.9 L544.3 181.9 L544.8 181.9 L545.3 181.9 L545.8 181.9 L546.3 181.9 L546.8 181.9 L547.3 181.8 L547.8 181.6 L548.3 181.3" fill="none" stroke="#000" stroke-width="1.8" stroke-linejoin="round" stroke-dasharray="3.5 1.0" clip-path="url(#clB1)"/>
<path d="M547.8 181.6 L548.3 181.3 L548.8 181.0 L549.3 180.3 L549.8 179.1 L550.3 177.2 L550.8 174.2 L551.3 169.4 L551.8 162.9 L552.3 153.9 L552.8 142.0 L553.3 127.6 L553.8 110.9 L554.3 92.8 L554.8 74.6 L555.3 58.2 L555.8 44.9 L556.3 36.4 L556.8 33.9 L557.3 37.7 L557.8 47.2 L558.3 61.2 L558.8 78.3 L559.3 96.2 L559.8 113.8 L560.3 129.7 L560.8 143.2 L561.3 154.1 L561.8 162.4 L562.3 168.3 L562.8 172.4 L563.3 175.1 L563.8 176.7 L564.3 177.8 L564.8 178.4 L565.3 178.8 L565.8 179.1 L566.3 179.3" fill="none" stroke="#000" stroke-width="1.8" stroke-linejoin="round" stroke-dasharray="3.2 3.0" clip-path="url(#clB1)"/>
<path d="M565.8 179.1 L566.3 179.3 L566.8 179.6" fill="none" stroke="#000" stroke-width="1.8" stroke-linejoin="round" stroke-dasharray="3.5 1.0" clip-path="url(#clB1)"/>
<path d="M566.3 179.3 L566.8 179.6 L567.3 179.9 L567.8 180.2" fill="none" stroke="#000" stroke-width="1.8" stroke-linejoin="round" stroke-dasharray="3.2 3.0" clip-path="url(#clB1)"/>
<path d="M567.3 179.9 L567.8 180.2 L568.3 180.3" fill="none" stroke="#000" stroke-width="1.8" stroke-linejoin="round" stroke-dasharray="3.5 1.0" clip-path="url(#clB1)"/>
<path d="M567.8 180.2 L568.3 180.3 L568.8 180.7 L569.3 180.9" fill="none" stroke="#000" stroke-width="1.8" stroke-linejoin="round" stroke-dasharray="3.2 3.0" clip-path="url(#clB1)"/>
<path d="M568.8 180.7 L569.3 180.9 L569.8 181.1 L570.3 181.3 L570.8 181.5 L571.3 181.6 L571.8 181.7 L572.3 181.8 L572.8 181.7 L573.3 181.9 L573.8 181.8 L574.3 182.1 L574.8 182.1 L575.3 182.2 L575.8 182.2 L576.3 182.3 L576.8 182.2 L577.3 182.2 L577.8 182.1 L578.3 182.0 L578.8 182.0 L579.3 182.0 L579.8 181.9 L580.3 182.0 L580.8 181.9 L581.3 181.9 L581.8 181.9 L582.3 181.8 L582.8 181.7 L583.3 181.6" fill="none" stroke="#000" stroke-width="1.8" stroke-linejoin="round" stroke-dasharray="3.5 1.0" clip-path="url(#clB1)"/>
<path d="M582.8 181.7 L583.3 181.6 L583.8 181.1 L584.3 180.7 L584.8 180.1 L585.3 179.6 L585.8 179.2" fill="none" stroke="#000" stroke-width="1.8" stroke-linejoin="round" stroke-dasharray="3.2 3.0" clip-path="url(#clB1)"/>
<path d="M585.3 179.6 L585.8 179.2 L586.3 179.2 L586.8 179.1 L587.3 179.1 L587.8 179.0 L588.3 178.6" fill="none" stroke="#000" stroke-width="1.8" stroke-linejoin="round" stroke-dasharray="3.5 1.0" clip-path="url(#clB1)"/>
<path d="M587.8 179.0 L588.3 178.6 L588.8 177.6 L589.3 175.7 L589.8 172.7 L590.3 168.0 L590.8 161.4 L591.3 152.9 L591.8 142.3 L592.3 129.9 L592.8 116.5 L593.3 102.9 L593.8 90.2 L594.3 79.9 L594.8 73.0 L595.3 70.6 L595.8 72.4 L596.3 78.8 L596.8 88.5 L597.3 100.4 L597.8 113.2 L598.3 126.0 L598.8 137.5 L599.3 147.1 L599.8 154.8 L600.3 160.4 L600.8 164.4 L601.3 167.2 L601.8 169.1 L602.3 170.2 L602.8 171.1 L603.3 172.0 L603.8 172.4 L604.3 173.0 L604.8 173.7 L605.3 174.4 L605.8 174.9 L606.3 175.7 L606.8 176.4 L607.3 177.0 L607.8 177.6 L608.3 178.3 L608.8 178.8 L609.3 179.5 L609.8 180.1 L610.3 180.6 L610.8 180.9 L611.3 181.3" fill="none" stroke="#000" stroke-width="1.8" stroke-linejoin="round" stroke-dasharray="3.2 3.0" clip-path="url(#clB1)"/>
<path d="M610.8 180.9 L611.3 181.3 L611.8 181.4 L612.3 181.5 L612.8 181.7 L613.3 181.8 L613.8 182.0 L614.3 182.2 L614.8 182.3 L615.3 182.4 L615.8 182.4 L616.3 182.3 L616.8 182.3 L617.3 182.3 L617.8 182.3 L618.3 182.3 L618.8 182.4 L619.3 182.4 L619.8 182.3 L620.3 182.3 L620.8 182.2 L621.3 182.3 L621.8 182.1 L622.3 182.3 L622.8 182.3 L623.3 182.3 L623.8 182.3 L624.3 182.3 L624.8 182.3 L625.3 182.4 L625.8 182.5 L626.3 182.5 L626.8 182.6 L627.3 182.6 L627.8 182.6 L628.3 182.6 L628.8 182.6 L629.3 182.5 L629.8 182.5 L630.3 182.4 L630.8 182.4 L631.3 182.4 L631.8 182.5 L632.3 182.5 L632.8 182.5 L633.3 182.4 L633.8 182.2 L634.3 182.0 L634.8 181.9 L635.3 181.9 L635.8 181.7 L636.3 181.5" fill="none" stroke="#000" stroke-width="1.8" stroke-linejoin="round" stroke-dasharray="3.5 1.0" clip-path="url(#clB1)"/>
<path d="M635.8 181.7 L636.3 181.5 L636.8 181.0 L637.3 180.2 L637.8 178.8 L638.3 176.8 L638.8 174.0 L639.3 170.4 L639.8 165.7 L640.3 160.0 L640.8 153.6 L641.3 146.9 L641.8 140.1 L642.3 134.1 L642.8 129.5 L643.3 126.9 L643.8 126.8 L644.3 129.0 L644.8 133.4 L645.3 139.2 L645.8 145.9 L646.3 152.7 L646.8 159.4 L647.3 165.2 L647.8 170.1 L648.3 174.1 L648.8 177.0 L649.3 178.8 L649.8 180.1 L650.3 181.0 L650.8 181.4 L651.3 181.6 L651.8 181.9 L652.3 182.1" fill="none" stroke="#000" stroke-width="1.8" stroke-linejoin="round" stroke-dasharray="3.2 3.0" clip-path="url(#clB1)"/>
<path d="M651.8 181.9 L652.3 182.1 L652.8 182.1 L653.3 182.2 L653.8 182.4 L654.3 182.4 L654.8 182.3 L655.3 182.3 L655.8 182.2 L656.3 182.1 L656.8 182.0 L657.3 182.0 L657.8 182.2 L658.3 182.3 L658.8 182.3 L659.3 182.4 L659.8 182.4 L660.3 182.3 L660.8 182.3 L661.3 182.3 L661.8 182.3 L662.3 182.3 L662.8 182.3 L663.3 182.3 L663.8 182.3 L664.3 182.4 L664.8 182.4 L665.3 182.5 L665.8 182.6 L666.3 182.5 L666.8 182.5 L667.3 182.5 L667.8 182.4 L668.3 182.5 L668.8 182.5 L669.3 182.4 L669.8 182.4 L670.3 182.3 L670.8 182.4 L671.3 182.5 L671.8 182.6 L672.3 182.6 L672.8 182.6 L673.3 182.5 L673.8 182.4 L674.3 182.4 L674.8 182.4 L675.3 182.5 L675.8 182.5 L676.3 182.5 L676.8 182.5 L677.3 182.4 L677.8 182.4 L678.3 182.4 L678.8 182.4 L679.3 182.4 L679.8 182.5 L680.3 182.5 L680.8 182.3 L681.3 182.4 L681.8 182.4 L682.3 182.3 L682.8 182.4 L683.3 182.4 L683.8 182.3 L684.3 182.4 L684.8 182.4 L685.3 182.4 L685.8 182.4 L686.3 182.5 L686.8 182.4 L687.3 182.5 L687.8 182.3 L688.3 182.4 L688.8 182.4 L689.3 182.4 L689.8 182.4 L690.3 182.4 L690.8 182.5 L691.3 182.5 L691.8 182.6 L692.3 182.5 L692.8 182.5 L693.3 182.4 L693.8 182.3 L694.3 182.3 L694.8 182.4 L695.3 182.3 L695.8 182.2 L696.3 182.1" fill="none" stroke="#000" stroke-width="1.8" stroke-linejoin="round" stroke-dasharray="3.5 1.0" clip-path="url(#clB1)"/>
<path d="M695.8 182.2 L696.3 182.1 L696.8 181.7 L697.3 181.0 L697.8 180.4 L698.3 179.4 L698.8 178.1 L699.3 176.4 L699.8 174.6 L700.3 172.6 L700.8 170.6 L701.3 168.8 L701.8 167.5 L702.3 166.7 L702.8 166.5" fill="none" stroke="#000" stroke-width="1.8" stroke-linejoin="round" stroke-dasharray="3.2 3.0" clip-path="url(#clB1)"/>
<path d="M702.3 166.7 L702.8 166.5 L703.3 167.0" fill="none" stroke="#000" stroke-width="1.8" stroke-linejoin="round" stroke-dasharray="3.5 1.0" clip-path="url(#clB1)"/>
<path d="M702.8 166.5 L703.3 167.0 L703.8 168.1 L704.3 169.7 L704.8 171.4 L705.3 173.4 L705.8 175.3 L706.3 177.1 L706.8 178.6 L707.3 179.9 L707.8 180.7 L708.3 181.2 L708.8 181.6 L709.3 181.8 L709.8 182.1" fill="none" stroke="#000" stroke-width="1.8" stroke-linejoin="round" stroke-dasharray="3.2 3.0" clip-path="url(#clB1)"/>
<path d="M709.3 181.8 L709.8 182.1 L710.3 182.3 L710.8 182.5 L711.3 182.6 L711.8 182.7 L712.3 182.7 L712.8 182.6 L713.3 182.5 L713.8 182.5 L714.3 182.5 L714.8 182.6 L715.3 182.5 L715.8 182.6 L716.3 182.6 L716.8 182.4 L717.3 182.4 L717.8 182.5 L718.3 182.3 L718.8 182.4 L719.3 182.4 L719.8 182.4 L720.3 182.4 L720.8 182.5 L721.3 182.4 L721.8 182.4 L722.3 182.4 L722.8 182.3 L723.3 182.3 L723.8 182.3 L724.3 182.4" fill="none" stroke="#000" stroke-width="1.8" stroke-linejoin="round" stroke-dasharray="3.5 1.0" clip-path="url(#clB1)"/>
<path d="M436.8 326.7 L437.3 326.7 L437.8 326.7 L438.3 326.7 L438.8 326.7 L439.3 326.7 L439.8 326.7 L440.3 326.7 L440.8 326.7 L441.3 326.7 L441.8 326.7 L442.3 326.7 L442.8 326.7 L443.3 326.7 L443.8 326.7 L444.3 326.7 L444.8 326.7 L445.3 326.7 L445.8 326.7 L446.3 326.7 L446.8 326.7 L447.3 326.7 L447.8 326.7 L448.3 326.7 L448.8 326.7 L449.3 326.7 L449.8 326.7 L450.3 326.7 L450.8 326.7 L451.3 326.7 L451.8 326.7 L452.3 326.7 L452.8 326.7 L453.3 326.7 L453.8 326.7 L454.3 326.7 L454.8 326.7 L455.3 326.7 L455.8 326.7 L456.3 326.7 L456.8 326.7 L457.3 326.7 L457.8 326.7 L458.3 326.7 L458.8 326.7 L459.3 326.7 L459.8 326.7 L460.3 326.7 L460.8 326.7 L461.3 326.7 L461.8 326.7 L462.3 326.7 L462.8 326.7 L463.3 326.6 L463.8 326.6 L464.3 326.6 L464.8 326.6 L465.3 326.5 L465.8 326.4 L466.3 326.2 L466.8 325.9 L467.3 325.7 L467.8 325.3 L468.3 324.9 L468.8 324.5 L469.3 324.1 L469.8 323.8 L470.3 323.5 L470.8 323.5 L471.3 323.5 L471.8 323.8 L472.3 324.1 L472.8 324.5 L473.3 324.9 L473.8 325.3 L474.3 325.6 L474.8 325.9 L475.3 326.2 L475.8 326.3 L476.3 326.5 L476.8 326.5 L477.3 326.6 L477.8 326.6 L478.3 326.6 L478.8 326.6 L479.3 326.6 L479.8 326.6 L480.3 326.6 L480.8 326.6 L481.3 326.6 L481.8 326.6 L482.3 326.6 L482.8 326.6 L483.3 326.6 L483.8 326.6 L484.3 326.6 L484.8 326.6 L485.3 326.6 L485.8 326.6 L486.3 326.6 L486.8 326.6 L487.3 326.5 L487.8 326.5 L488.3 326.4 L488.8 326.2 L489.3 325.9 L489.8 325.5 L490.3 324.8 L490.8 323.7 L491.3 322.2 L491.8 320.3 L492.3 317.8 L492.8 314.9 L493.3 311.8 L493.8 308.6 L494.3 305.8 L494.8 303.6 L495.3 302.4 L495.8 302.3 L496.3 303.3 L496.8 305.3 L497.3 308.0 L497.8 311.1 L498.3 314.3 L498.8 317.2 L499.3 319.8 L499.8 321.9 L500.3 323.4 L500.8 324.6 L501.3 325.3 L501.8 325.8 L502.3 326.1 L502.8 326.3 L503.3 326.4 L503.8 326.5 L504.3 326.5 L504.8 326.5 L505.3 326.5 L505.8 326.5 L506.3 326.5 L506.8 326.5 L507.3 326.5 L507.8 326.5 L508.3 326.5 L508.8 326.5 L509.3 326.5 L509.8 326.5 L510.3 326.5 L510.8 326.5 L511.3 326.5 L511.8 326.5 L512.3 326.4 L512.8 326.4 L513.3 326.4 L513.8 326.4 L514.3 326.3 L514.8 326.3 L515.3 326.2 L515.8 326.0 L516.3 325.7 L516.8 325.2 L517.3 324.2 L517.8 322.7 L518.3 320.2 L518.8 316.6 L519.3 311.4 L519.8 304.3 L520.3 295.4 L520.8 284.8 L521.3 273.0 L521.8 260.9 L522.3 249.7 L522.8 240.6 L523.3 234.9 L523.8 233.4 L524.3 236.3 L524.8 243.1 L525.3 253.0 L525.8 264.6 L526.3 276.7 L526.8 288.3 L527.3 298.4 L527.8 306.7 L528.3 313.2 L528.8 317.9 L529.3 321.1 L529.8 323.2 L530.3 324.5 L530.8 325.3 L531.3 325.8 L531.8 326.0 L532.3 326.2 L532.8 326.3 L533.3 326.3 L533.8 326.3 L534.3 326.4 L534.8 326.4 L535.3 326.4 L535.8 326.4 L536.3 326.4 L536.8 326.4 L537.3 326.4 L537.8 326.4 L538.3 326.4 L538.8 326.4 L539.3 326.4 L539.8 326.4 L540.3 326.4 L540.8 326.4 L541.3 326.4 L541.8 326.4 L542.3 326.4 L542.8 326.4 L543.3 326.4 L543.8 326.4 L544.3 326.4 L544.8 326.3 L545.3 326.3 L545.8 326.3 L546.3 326.3 L546.8 326.2 L547.3 326.2 L547.8 326.1 L548.3 326.0 L548.8 325.8 L549.3 325.6 L549.8 325.0 L550.3 324.1 L550.8 322.5 L551.3 320.0 L551.8 315.9 L552.3 309.8 L552.8 301.1 L553.3 289.4 L553.8 274.7 L554.3 257.2 L554.8 237.9 L555.3 218.1 L555.8 200.0 L556.3 185.5 L556.8 176.5 L557.3 174.3 L557.8 179.2 L558.3 190.5 L558.8 206.6 L559.3 225.4 L559.8 244.8 L560.3 263.2 L560.8 279.3 L561.3 292.5 L561.8 302.6 L562.3 309.9 L562.8 315.0 L563.3 318.3 L563.8 320.3 L564.3 321.6 L564.8 322.4 L565.3 322.9 L565.8 323.3 L566.3 323.6 L566.8 323.9 L567.3 324.2 L567.8 324.4 L568.3 324.7 L568.8 324.9 L569.3 325.2 L569.8 325.4 L570.3 325.6 L570.8 325.7 L571.3 325.9 L571.8 326.0 L572.3 326.1 L572.8 326.2 L573.3 326.3 L573.8 326.3 L574.3 326.4 L574.8 326.4 L575.3 326.4 L575.8 326.5 L576.3 326.5 L576.8 326.5 L577.3 326.5 L577.8 326.5 L578.3 326.5 L578.8 326.5 L579.3 326.5 L579.8 326.5 L580.3 326.5 L580.8 326.5 L581.3 326.5 L581.8 326.4 L582.3 326.4 L582.8 326.3 L583.3 326.1 L583.8 325.9 L584.3 325.7 L584.8 325.4 L585.3 325.1 L585.8 324.8 L586.3 324.6 L586.8 324.5 L587.3 324.5 L587.8 324.6 L588.3 324.6 L588.8 324.5 L589.3 324.1 L589.8 323.1 L590.3 321.3 L590.8 318.6 L591.3 314.6 L591.8 309.1 L592.3 302.1 L592.8 293.7 L593.3 284.4 L593.8 274.8 L594.3 265.8 L594.8 258.5 L595.3 253.8 L595.8 252.3 L596.3 254.1 L596.8 259.0 L597.3 266.3 L597.8 274.9 L598.3 283.9 L598.8 292.5 L599.3 299.9 L599.8 306.0 L600.3 310.6 L600.8 314.0 L601.3 316.2 L601.8 317.6 L602.3 318.5 L602.8 319.1 L603.3 319.5 L603.8 319.8 L604.3 320.2 L604.8 320.5 L605.3 320.9 L605.8 321.4 L606.3 321.9 L606.8 322.3 L607.3 322.8 L607.8 323.3 L608.3 323.8 L608.8 324.2 L609.3 324.6 L609.8 325.0 L610.3 325.3 L610.8 325.5 L611.3 325.8 L611.8 326.0 L612.3 326.1 L612.8 326.2 L613.3 326.3 L613.8 326.4 L614.3 326.5 L614.8 326.5 L615.3 326.5 L615.8 326.6 L616.3 326.6 L616.8 326.6 L617.3 326.6 L617.8 326.6 L618.3 326.6 L618.8 326.6 L619.3 326.6 L619.8 326.6 L620.3 326.6 L620.8 326.6 L621.3 326.6 L621.8 326.6 L622.3 326.6 L622.8 326.6 L623.3 326.6 L623.8 326.6 L624.3 326.6 L624.8 326.6 L625.3 326.6 L625.8 326.6 L626.3 326.6 L626.8 326.6 L627.3 326.6 L627.8 326.6 L628.3 326.6 L628.8 326.6 L629.3 326.6 L629.8 326.6 L630.3 326.6 L630.8 326.6 L631.3 326.6 L631.8 326.6 L632.3 326.6 L632.8 326.6 L633.3 326.6 L633.8 326.6 L634.3 326.6 L634.8 326.6 L635.3 326.5 L635.8 326.5 L636.3 326.4 L636.8 326.3 L637.3 326.1 L637.8 325.8 L638.3 325.2 L638.8 324.3 L639.3 322.9 L639.8 321.1 L640.3 318.6 L640.8 315.6 L641.3 312.0 L641.8 308.2 L642.3 304.4 L642.8 301.0 L643.3 298.5 L643.8 297.1 L644.3 297.1 L644.8 298.5 L645.3 301.1 L645.8 304.5 L646.3 308.3 L646.8 312.1 L647.3 315.7 L647.8 318.7 L648.3 321.1 L648.8 323.0 L649.3 324.3 L649.8 325.2 L650.3 325.8 L650.8 326.1 L651.3 326.3 L651.8 326.5 L652.3 326.5 L652.8 326.6 L653.3 326.6 L653.8 326.6 L654.3 326.6 L654.8 326.6 L655.3 326.6 L655.8 326.6 L656.3 326.6 L656.8 326.6 L657.3 326.6 L657.8 326.6 L658.3 326.6 L658.8 326.6 L659.3 326.6 L659.8 326.7 L660.3 326.7 L660.8 326.7 L661.3 326.7 L661.8 326.7 L662.3 326.7 L662.8 326.7 L663.3 326.7 L663.8 326.7 L664.3 326.7 L664.8 326.7 L665.3 326.7 L665.8 326.7 L666.3 326.7 L666.8 326.7 L667.3 326.7 L667.8 326.7 L668.3 326.7 L668.8 326.7 L669.3 326.7 L669.8 326.7 L670.3 326.7 L670.8 326.7 L671.3 326.7 L671.8 326.7 L672.3 326.7 L672.8 326.7 L673.3 326.7 L673.8 326.7 L674.3 326.7 L674.8 326.7 L675.3 326.7 L675.8 326.7 L676.3 326.7 L676.8 326.7 L677.3 326.7 L677.8 326.7 L678.3 326.7 L678.8 326.7 L679.3 326.7 L679.8 326.7 L680.3 326.7 L680.8 326.7 L681.3 326.7 L681.8 326.7 L682.3 326.7 L682.8 326.7 L683.3 326.7 L683.8 326.7 L684.3 326.7 L684.8 326.7 L685.3 326.7 L685.8 326.7 L686.3 326.7 L686.8 326.7 L687.3 326.7 L687.8 326.7 L688.3 326.7 L688.8 326.7 L689.3 326.7 L689.8 326.7 L690.3 326.7 L690.8 326.7 L691.3 326.7 L691.8 326.7 L692.3 326.7 L692.8 326.7 L693.3 326.7 L693.8 326.7 L694.3 326.7 L694.8 326.7 L695.3 326.7 L695.8 326.6 L696.3 326.6 L696.8 326.6 L697.3 326.5 L697.8 326.3 L698.3 326.2 L698.8 325.9 L699.3 325.5 L699.8 325.1 L700.3 324.5 L700.8 323.9 L701.3 323.3 L701.8 322.8 L702.3 322.3 L702.8 322.1 L703.3 322.0 L703.8 322.2 L704.3 322.6 L704.8 323.1 L705.3 323.7 L705.8 324.3 L706.3 324.9 L706.8 325.4 L707.3 325.8 L707.8 326.1 L708.3 326.3 L708.8 326.4 L709.3 326.5 L709.8 326.6 L710.3 326.6 L710.8 326.7 L711.3 326.7 L711.8 326.7 L712.3 326.7 L712.8 326.7 L713.3 326.7 L713.8 326.7 L714.3 326.7 L714.8 326.7 L715.3 326.7 L715.8 326.7 L716.3 326.7 L716.8 326.7 L717.3 326.7 L717.8 326.7 L718.3 326.7 L718.8 326.7 L719.3 326.7 L719.8 326.7 L720.3 326.7 L720.8 326.7 L721.3 326.7 L721.8 326.7 L722.3 326.7 L722.8 326.7 L723.3 326.7 L723.8 326.7 L724.3 326.7" fill="none" stroke="#e0101e" stroke-width="2" stroke-linejoin="round" clip-path="url(#clB2)"/>
<path d="M436.8 326.7 L437.3 326.7 L437.8 326.7 L438.3 326.7 L438.8 326.7 L439.3 326.7 L439.8 326.7 L440.3 326.7 L440.8 326.7 L441.3 326.7 L441.8 326.7 L442.3 326.7 L442.8 326.7 L443.3 326.7 L443.8 326.7 L444.3 326.7 L444.8 326.7 L445.3 326.7 L445.8 326.7 L446.3 326.7 L446.8 326.7 L447.3 326.7 L447.8 326.7 L448.3 326.7 L448.8 326.7 L449.3 326.7 L449.8 326.7 L450.3 326.7 L450.8 326.7 L451.3 326.7 L451.8 326.7 L452.3 326.7 L452.8 326.7 L453.3 326.7 L453.8 326.7 L454.3 326.7 L454.8 326.7 L455.3 326.7 L455.8 326.7 L456.3 326.7 L456.8 326.7 L457.3 326.7 L457.8 326.7 L458.3 326.7 L458.8 326.7 L459.3 326.7 L459.8 326.7 L460.3 326.7 L460.8 326.7 L461.3 326.7 L461.8 326.6 L462.3 326.6 L462.8 326.6 L463.3 326.6 L463.8 326.5 L464.3 326.5 L464.8 326.4 L465.3 326.2 L465.8 325.9" fill="none" stroke="#000" stroke-width="1.8" stroke-linejoin="round" stroke-dasharray="3.3 1.5" clip-path="url(#clB2)"/>
<path d="M465.3 326.2 L465.8 325.9 L466.3 325.6 L466.8 325.1 L467.3 324.6 L467.8 323.9 L468.3 323.3 L468.8 322.6 L469.3 322.1 L469.8 321.7 L470.3 321.4" fill="none" stroke="#000" stroke-width="1.8" stroke-linejoin="round" stroke-dasharray="3.2 3.0" clip-path="url(#clB2)"/>
<path d="M469.8 321.7 L470.3 321.4 L470.8 321.5 L471.3 321.7" fill="none" stroke="#000" stroke-width="1.8" stroke-linejoin="round" stroke-dasharray="3.3 1.5" clip-path="url(#clB2)"/>
<path d="M470.8 321.5 L471.3 321.7 L471.8 322.1 L472.3 322.7 L472.8 323.3 L473.3 324.0 L473.8 324.6 L474.3 325.2 L474.8 325.6 L475.3 325.9 L475.8 326.2" fill="none" stroke="#000" stroke-width="1.8" stroke-linejoin="round" stroke-dasharray="3.2 3.0" clip-path="url(#clB2)"/>
<path d="M475.3 325.9 L475.8 326.2 L476.3 326.3 L476.8 326.5 L477.3 326.5 L477.8 326.6 L478.3 326.6 L478.8 326.6 L479.3 326.6 L479.8 326.6 L480.3 326.6 L480.8 326.6 L481.3 326.6 L481.8 326.6 L482.3 326.6 L482.8 326.6 L483.3 326.6 L483.8 326.6 L484.3 326.6 L484.8 326.6 L485.3 326.6 L485.8 326.5 L486.3 326.5 L486.8 326.5 L487.3 326.4 L487.8 326.3 L488.3 326.1" fill="none" stroke="#000" stroke-width="1.8" stroke-linejoin="round" stroke-dasharray="3.3 1.5" clip-path="url(#clB2)"/>
<path d="M487.8 326.3 L488.3 326.1 L488.8 325.7 L489.3 325.1 L489.8 324.2 L490.3 322.9 L490.8 321.0 L491.3 318.5 L491.8 315.4 L492.3 311.7 L492.8 307.6 L493.3 303.4 L493.8 299.4 L494.3 296.1 L494.8 293.9 L495.3 293.1" fill="none" stroke="#000" stroke-width="1.8" stroke-linejoin="round" stroke-dasharray="3.2 3.0" clip-path="url(#clB2)"/>
<path d="M494.8 293.9 L495.3 293.1 L495.8 293.8" fill="none" stroke="#000" stroke-width="1.8" stroke-linejoin="round" stroke-dasharray="3.3 1.5" clip-path="url(#clB2)"/>
<path d="M495.3 293.1 L495.8 293.8 L496.3 295.9 L496.8 299.1 L497.3 303.0 L497.8 307.2 L498.3 311.3 L498.8 315.1 L499.3 318.2 L499.8 320.8 L500.3 322.7 L500.8 324.1 L501.3 325.0 L501.8 325.6 L502.3 326.0 L502.8 326.2" fill="none" stroke="#000" stroke-width="1.8" stroke-linejoin="round" stroke-dasharray="3.2 3.0" clip-path="url(#clB2)"/>
<path d="M502.3 326.0 L502.8 326.2 L503.3 326.3 L503.8 326.4 L504.3 326.4 L504.8 326.5 L505.3 326.5 L505.8 326.5 L506.3 326.5 L506.8 326.5 L507.3 326.5 L507.8 326.5 L508.3 326.5 L508.8 326.5 L509.3 326.5 L509.8 326.4 L510.3 326.4 L510.8 326.4 L511.3 326.4 L511.8 326.4 L512.3 326.4 L512.8 326.3 L513.3 326.3 L513.8 326.3 L514.3 326.2 L514.8 326.1 L515.3 325.9" fill="none" stroke="#000" stroke-width="1.8" stroke-linejoin="round" stroke-dasharray="3.3 1.5" clip-path="url(#clB2)"/>
<path d="M514.8 326.1 L515.3 325.9 L515.8 325.5 L516.3 324.9 L516.8 323.9 L517.3 322.2 L517.8 319.6 L518.3 315.7 L518.8 310.2 L519.3 302.7 L519.8 293.1 L520.3 281.6 L520.8 268.7 L521.3 255.0 L521.8 242.0 L522.3 230.7 L522.8 222.7 L523.3 219.0 L523.8 220.0 L524.3 225.6 L524.8 235.1 L525.3 247.3 L525.8 260.8 L526.3 274.2 L526.8 286.7 L527.3 297.4 L527.8 306.1 L528.3 312.7 L528.8 317.5 L529.3 320.8 L529.8 323.0 L530.3 324.4 L530.8 325.2 L531.3 325.7 L531.8 325.9" fill="none" stroke="#000" stroke-width="1.8" stroke-linejoin="round" stroke-dasharray="3.2 3.0" clip-path="url(#clB2)"/>
<path d="M531.3 325.7 L531.8 325.9 L532.3 326.1 L532.8 326.2 L533.3 326.2 L533.8 326.3 L534.3 326.3 L534.8 326.3 L535.3 326.3 L535.8 326.4 L536.3 326.4 L536.8 326.4 L537.3 326.4 L537.8 326.4 L538.3 326.4 L538.8 326.4 L539.3 326.4 L539.8 326.4 L540.3 326.4 L540.8 326.4 L541.3 326.4 L541.8 326.4 L542.3 326.4 L542.8 326.4 L543.3 326.3 L543.8 326.3 L544.3 326.3 L544.8 326.3 L545.3 326.3 L545.8 326.2 L546.3 326.2 L546.8 326.2 L547.3 326.1 L547.8 326.0 L548.3 325.8 L548.8 325.5" fill="none" stroke="#000" stroke-width="1.8" stroke-linejoin="round" stroke-dasharray="3.3 1.5" clip-path="url(#clB2)"/>
<path d="M548.3 325.8 L548.8 325.5 L549.3 325.0 L549.8 324.1 L550.3 322.7 L550.8 320.2 L551.3 316.4 L551.8 310.8 L552.3 302.8 L552.8 292.1 L553.3 278.4 L553.8 262.0 L554.3 243.6 L554.8 224.4 L555.3 206.0 L555.8 190.4 L556.3 179.3 L556.8 174.3 L557.3 176.0 L557.8 184.1 L558.3 197.5 L558.8 214.6 L559.3 233.4 L559.8 252.0 L560.3 269.2 L560.8 283.9 L561.3 295.8 L561.8 304.8 L562.3 311.3 L562.8 315.8 L563.3 318.7 L563.8 320.6 L564.3 321.8 L564.8 322.5 L565.3 323.0 L565.8 323.4 L566.3 323.7 L566.8 324.0 L567.3 324.2 L567.8 324.5 L568.3 324.7" fill="none" stroke="#000" stroke-width="1.8" stroke-linejoin="round" stroke-dasharray="3.2 3.0" clip-path="url(#clB2)"/>
<path d="M567.8 324.5 L568.3 324.7 L568.8 325.0 L569.3 325.2 L569.8 325.4 L570.3 325.6 L570.8 325.7 L571.3 325.9 L571.8 326.0 L572.3 326.1 L572.8 326.2 L573.3 326.3 L573.8 326.3 L574.3 326.4 L574.8 326.4 L575.3 326.4 L575.8 326.4 L576.3 326.5 L576.8 326.5 L577.3 326.5 L577.8 326.5 L578.3 326.5 L578.8 326.5 L579.3 326.5 L579.8 326.5 L580.3 326.5 L580.8 326.5 L581.3 326.4 L581.8 326.4 L582.3 326.3 L582.8 326.2 L583.3 326.0 L583.8 325.8" fill="none" stroke="#000" stroke-width="1.8" stroke-linejoin="round" stroke-dasharray="3.3 1.5" clip-path="url(#clB2)"/>
<path d="M583.3 326.0 L583.8 325.8 L584.3 325.5 L584.8 325.2 L585.3 324.9 L585.8 324.7" fill="none" stroke="#000" stroke-width="1.8" stroke-linejoin="round" stroke-dasharray="3.2 3.0" clip-path="url(#clB2)"/>
<path d="M585.3 324.9 L585.8 324.7 L586.3 324.5 L586.8 324.5 L587.3 324.5 L587.8 324.5 L588.3 324.4" fill="none" stroke="#000" stroke-width="1.8" stroke-linejoin="round" stroke-dasharray="3.3 1.5" clip-path="url(#clB2)"/>
<path d="M587.8 324.5 L588.3 324.4 L588.8 324.0 L589.3 323.1 L589.8 321.5 L590.3 319.1 L590.8 315.4 L591.3 310.4 L591.8 304.0 L592.3 296.2 L592.8 287.4 L593.3 278.2 L593.8 269.2 L594.3 261.5 L594.8 255.8 L595.3 253.0 L595.8 253.3 L596.3 256.6 L596.8 262.6 L597.3 270.3 L597.8 278.9 L598.3 287.4 L598.8 295.3 L599.3 302.1 L599.8 307.5 L600.3 311.6 L600.8 314.5 L601.3 316.5 L601.8 317.8 L602.3 318.7 L602.8 319.2 L603.3 319.6 L603.8 320.0 L604.3 320.3 L604.8 320.7 L605.3 321.1 L605.8 321.6 L606.3 322.0 L606.8 322.5 L607.3 323.0 L607.8 323.5 L608.3 323.9 L608.8 324.3 L609.3 324.7 L609.8 325.0 L610.3 325.3 L610.8 325.6" fill="none" stroke="#000" stroke-width="1.8" stroke-linejoin="round" stroke-dasharray="3.2 3.0" clip-path="url(#clB2)"/>
<path d="M610.3 325.3 L610.8 325.6 L611.3 325.8 L611.8 326.0 L612.3 326.1 L612.8 326.2 L613.3 326.3 L613.8 326.4 L614.3 326.5 L614.8 326.5 L615.3 326.5 L615.8 326.6 L616.3 326.6 L616.8 326.6 L617.3 326.6 L617.8 326.6 L618.3 326.6 L618.8 326.6 L619.3 326.6 L619.8 326.6 L620.3 326.6 L620.8 326.6 L621.3 326.6 L621.8 326.6 L622.3 326.6 L622.8 326.6 L623.3 326.6 L623.8 326.6 L624.3 326.6 L624.8 326.6 L625.3 326.6 L625.8 326.6 L626.3 326.6 L626.8 326.6 L627.3 326.6 L627.8 326.6 L628.3 326.6 L628.8 326.6 L629.3 326.6 L629.8 326.6 L630.3 326.6 L630.8 326.6 L631.3 326.6 L631.8 326.6 L632.3 326.6 L632.8 326.6 L633.3 326.6 L633.8 326.6 L634.3 326.6 L634.8 326.5 L635.3 326.5 L635.8 326.4 L636.3 326.3 L636.8 326.1" fill="none" stroke="#000" stroke-width="1.8" stroke-linejoin="round" stroke-dasharray="3.3 1.5" clip-path="url(#clB2)"/>
<path d="M636.3 326.3 L636.8 326.1 L637.3 325.8 L637.8 325.3 L638.3 324.5 L638.8 323.2 L639.3 321.6 L639.8 319.3 L640.3 316.6 L640.8 313.3 L641.3 309.7 L641.8 306.0 L642.3 302.6 L642.8 299.9 L643.3 298.1 L643.8 297.5" fill="none" stroke="#000" stroke-width="1.8" stroke-linejoin="round" stroke-dasharray="3.2 3.0" clip-path="url(#clB2)"/>
<path d="M643.3 298.1 L643.8 297.5 L644.3 298.3" fill="none" stroke="#000" stroke-width="1.8" stroke-linejoin="round" stroke-dasharray="3.3 1.5" clip-path="url(#clB2)"/>
<path d="M643.8 297.5 L644.3 298.3 L644.8 300.2 L645.3 303.1 L645.8 306.5 L646.3 310.2 L646.8 313.8 L647.3 317.0 L647.8 319.7 L648.3 321.8 L648.8 323.4 L649.3 324.6 L649.8 325.4 L650.3 325.9 L650.8 326.2" fill="none" stroke="#000" stroke-width="1.8" stroke-linejoin="round" stroke-dasharray="3.2 3.0" clip-path="url(#clB2)"/>
<path d="M650.3 325.9 L650.8 326.2 L651.3 326.4 L651.8 326.5 L652.3 326.5 L652.8 326.6 L653.3 326.6 L653.8 326.6 L654.3 326.6 L654.8 326.6 L655.3 326.6 L655.8 326.6 L656.3 326.6 L656.8 326.6 L657.3 326.6 L657.8 326.6 L658.3 326.6 L658.8 326.6 L659.3 326.6 L659.8 326.7 L660.3 326.7 L660.8 326.7 L661.3 326.7 L661.8 326.7 L662.3 326.7 L662.8 326.7 L663.3 326.7 L663.8 326.7 L664.3 326.7 L664.8 326.7 L665.3 326.7 L665.8 326.7 L666.3 326.7 L666.8 326.7 L667.3 326.7 L667.8 326.7 L668.3 326.7 L668.8 326.7 L669.3 326.7 L669.8 326.7 L670.3 326.7 L670.8 326.7 L671.3 326.7 L671.8 326.7 L672.3 326.7 L672.8 326.7 L673.3 326.7 L673.8 326.7 L674.3 326.7 L674.8 326.7 L675.3 326.7 L675.8 326.7 L676.3 326.7 L676.8 326.7 L677.3 326.7 L677.8 326.7 L678.3 326.7 L678.8 326.7 L679.3 326.7 L679.8 326.7 L680.3 326.7 L680.8 326.7 L681.3 326.7 L681.8 326.7 L682.3 326.7 L682.8 326.7 L683.3 326.7 L683.8 326.7 L684.3 326.7 L684.8 326.7 L685.3 326.7 L685.8 326.7 L686.3 326.7 L686.8 326.7 L687.3 326.7 L687.8 326.7 L688.3 326.7 L688.8 326.7 L689.3 326.7 L689.8 326.7 L690.3 326.7 L690.8 326.7 L691.3 326.7 L691.8 326.7 L692.3 326.7 L692.8 326.7 L693.3 326.7 L693.8 326.7 L694.3 326.7 L694.8 326.7 L695.3 326.6 L695.8 326.6 L696.3 326.6 L696.8 326.5 L697.3 326.4 L697.8 326.2 L698.3 326.0" fill="none" stroke="#000" stroke-width="1.8" stroke-linejoin="round" stroke-dasharray="3.3 1.5" clip-path="url(#clB2)"/>
<path d="M697.8 326.2 L698.3 326.0 L698.8 325.7 L699.3 325.4 L699.8 324.9 L700.3 324.4 L700.8 323.9 L701.3 323.4 L701.8 323.0 L702.3 322.7" fill="none" stroke="#000" stroke-width="1.8" stroke-linejoin="round" stroke-dasharray="3.2 3.0" clip-path="url(#clB2)"/>
<path d="M701.8 323.0 L702.3 322.7 L702.8 322.6 L703.3 322.7 L703.8 322.9" fill="none" stroke="#000" stroke-width="1.8" stroke-linejoin="round" stroke-dasharray="3.3 1.5" clip-path="url(#clB2)"/>
<path d="M703.3 322.7 L703.8 322.9 L704.3 323.3 L704.8 323.8 L705.3 324.3 L705.8 324.8 L706.3 325.2 L706.8 325.6 L707.3 326.0 L707.8 326.2" fill="none" stroke="#000" stroke-width="1.8" stroke-linejoin="round" stroke-dasharray="3.2 3.0" clip-path="url(#clB2)"/>
<path d="M707.3 326.0 L707.8 326.2 L708.3 326.4 L708.8 326.5 L709.3 326.6 L709.8 326.6 L710.3 326.6 L710.8 326.7 L711.3 326.7 L711.8 326.7 L712.3 326.7 L712.8 326.7 L713.3 326.7 L713.8 326.7 L714.3 326.7 L714.8 326.7 L715.3 326.7 L715.8 326.7 L716.3 326.7 L716.8 326.7 L717.3 326.7 L717.8 326.7 L718.3 326.7 L718.8 326.7 L719.3 326.7 L719.8 326.7 L720.3 326.7 L720.8 326.7 L721.3 326.7 L721.8 326.7 L722.3 326.7 L722.8 326.7 L723.3 326.7 L723.8 326.7 L724.3 326.7" fill="none" stroke="#000" stroke-width="1.8" stroke-linejoin="round" stroke-dasharray="3.3 1.5" clip-path="url(#clB2)"/>
<path d="M614 59.4H636" stroke="#e0101e" stroke-width="4.3"/>
<path d="M613.9 73.6H636" stroke="#000" stroke-width="4.6" stroke-dasharray="2.9 3.4"/>
<text x="641.4" y="63.9" font-size="12.60" text-anchor="start" >4 MHz</text>
<text x="641.4" y="78.3" font-size="12.60" text-anchor="start" xml:space="preserve">234 kHZ  x16</text>
<path d="M614 203.4H636" stroke="#e0101e" stroke-width="4.3"/>
<path d="M613.9 217.6H636" stroke="#000" stroke-width="4.6" stroke-dasharray="2.9 3.4"/>
<text x="641.4" y="207.9" font-size="12.60" text-anchor="start" >10.7 MHz</text>
<text x="641.4" y="222.3" font-size="12.60" text-anchor="start" xml:space="preserve">4 MHz x 2</text>
</svg></body></html>
